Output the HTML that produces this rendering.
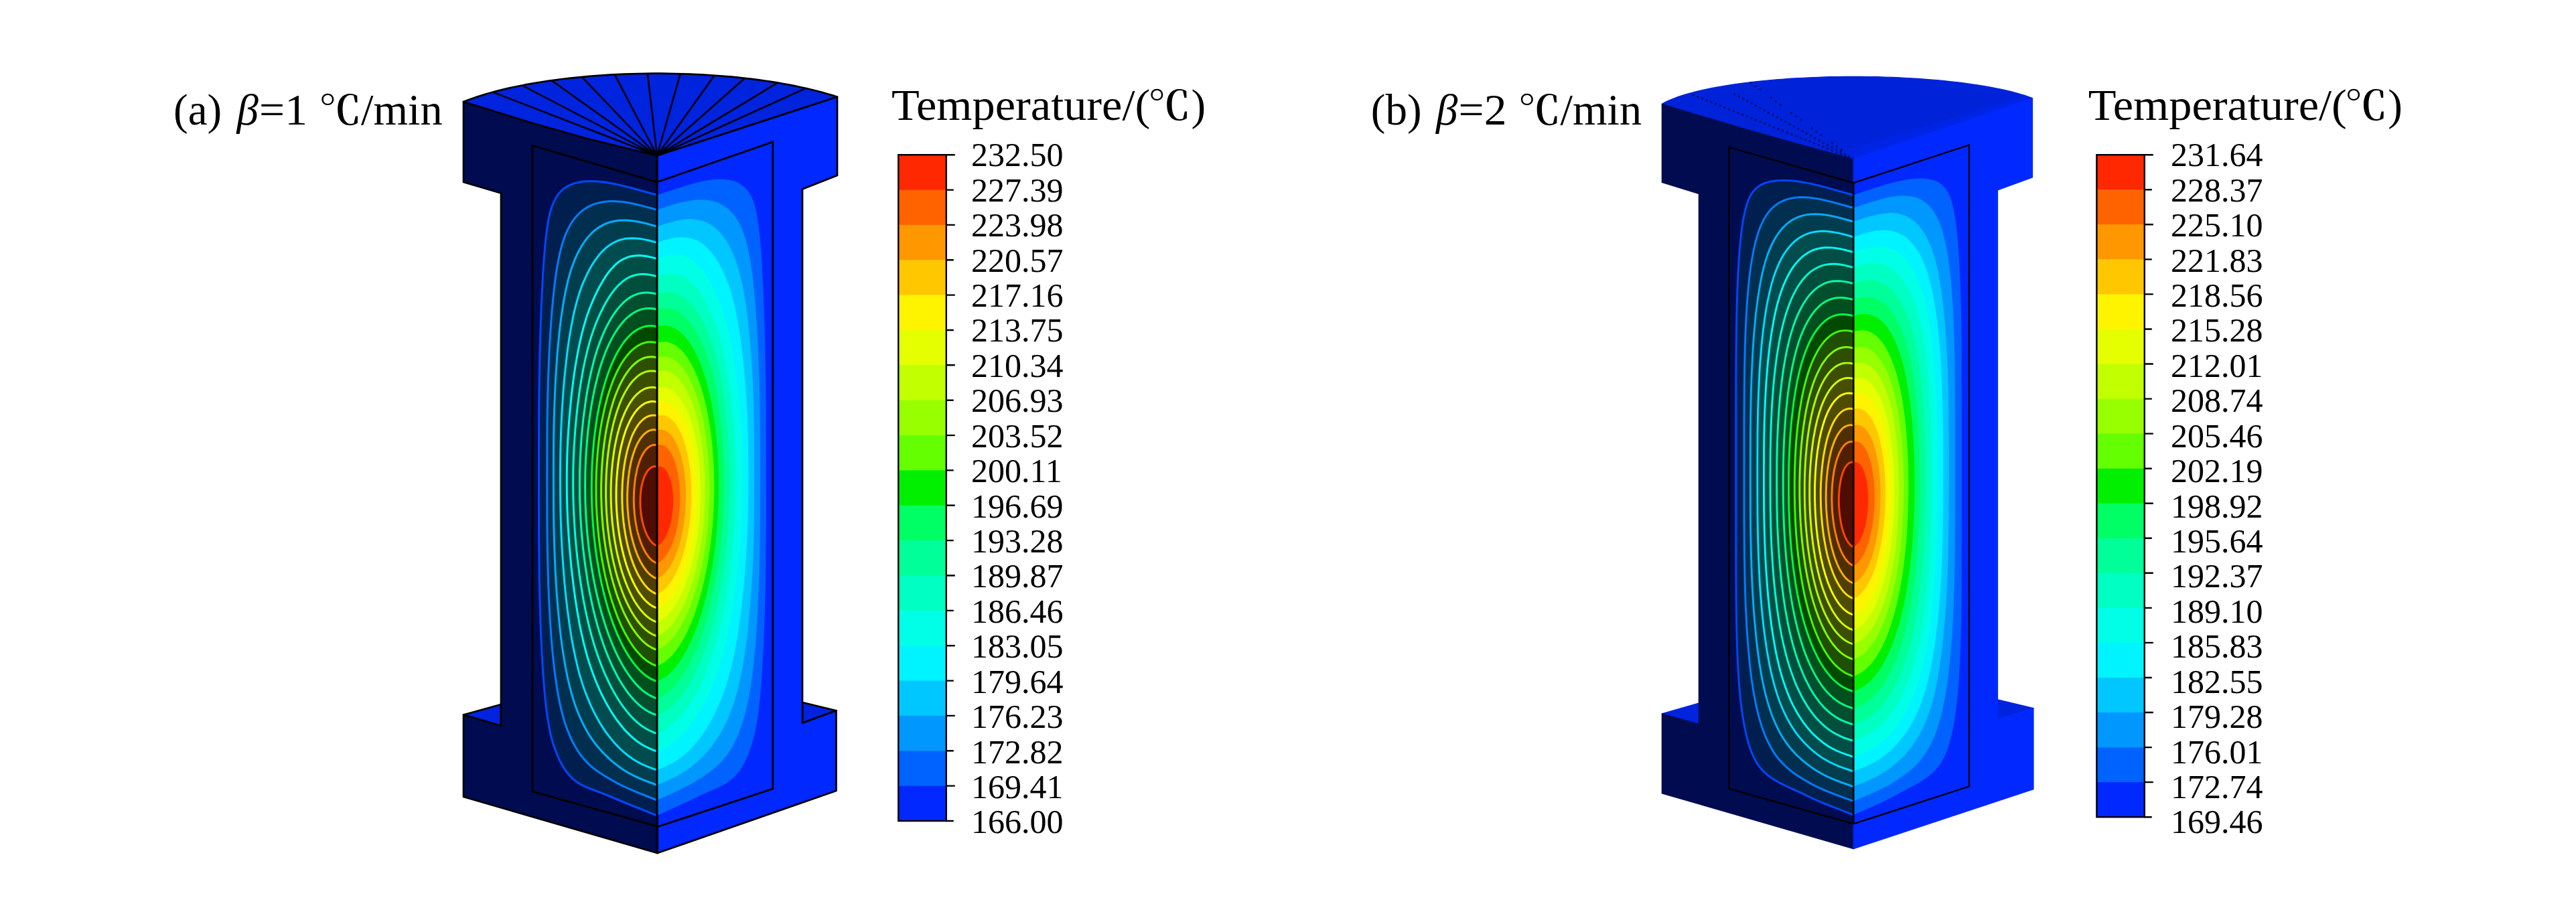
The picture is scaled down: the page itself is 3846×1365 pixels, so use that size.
<!DOCTYPE html>
<html lang="zh">
<head>
<meta charset="utf-8">
<title>Temperature contours</title>
<style>
html,body{margin:0;padding:0;background:#fff;}
body{width:3846px;height:1365px;overflow:hidden;}
svg{display:block;}
text{font-family:"Liberation Serif","Noto Serif CJK SC",serif;fill:#000;}
.cj{font-family:"Noto Serif CJK SC","Liberation Serif",serif;font-weight:600;}
</style>
</head>
<body>
<svg width="3846" height="1365" viewBox="0 0 3846 1365">
<rect width="3846" height="1365" fill="#fff"/>
<g id="plot-a">
<polygon points="981,232.5 930,220.2 877,207.3 798.2,185 740,167 692,152 698.3,149.6 704.8,147.2 711.6,144.8 718.7,142.6 726,140.3 733.5,138.2 741.2,136.1 749.2,134.1 757.4,132.1 765.8,130.3 774.5,128.5 783.3,126.7 792.2,125.1 801.4,123.5 810.7,122 820.2,120.6 829.9,119.3 839.6,118 849.6,116.8 859.6,115.8 869.7,114.8 880,113.8 890.3,113 900.8,112.3 911.3,111.7 921.8,111.1 932.5,110.6 943.1,110.3 953.8,110 964.6,109.8 975.3,109.7 986.1,109.7 996.8,109.8 1007.6,110 1018.3,110.3 1028.9,110.6 1039.6,111.1 1050.1,111.6 1060.6,112.3 1071.1,113 1081.4,113.8 1091.7,114.7 1101.8,115.7 1111.9,116.8 1121.8,117.9 1131.6,119.2 1141.2,120.5 1150.7,121.9 1160.1,123.4 1169.3,125 1178.2,126.6 1187.1,128.4 1195.7,130.2 1204.1,132 1212.3,134 1220.3,136 1228.1,138.1 1235.6,140.2 1242.9,142.4 1250,144.7" fill="#0023de" stroke="#000" stroke-width="2.7" stroke-linejoin="round"/>
<path d="M981 232.5L735.8 137.6M981 232.5L779.5 127.5M981 232.5L823.3 120.1M981 232.5L868.8 114.8M981 232.5L917.8 111.3M981 232.5L966.8 109.8M981 232.5L1015.8 110.2M981 232.5L1066.5 112.7M981 232.5L1112 116.8M981 232.5L1161 123.6M981 232.5L1203 131.8" fill="none" stroke="#000" stroke-width="2.5"/>
<polygon points="692,1067.5 748,1052 748,1084" fill="#0023de" stroke="#000" stroke-width="2.7" stroke-linejoin="round"/>
<polygon points="1248.5,1061.2 1198,1049 1198,1079.8" fill="#0023de" stroke="#000" stroke-width="2.7" stroke-linejoin="round"/>
<polygon points="981,232.5 930,220.2 877,207.3 798.2,185 740,167 692,152 692,272 748,288.5 748,1084 692,1067.5 692,1190 981.5,1274" fill="#000c4f" stroke="#000" stroke-width="2.7" stroke-linejoin="round"/>
<polygon points="981,232.5 1250,144.7 1250,262 1198,282.5 1198,1079.8 1248.5,1061.2 1248.5,1181 981.5,1274" fill="#0028ff" stroke="#000" stroke-width="2.7" stroke-linejoin="round"/>
<polygon points="981,291.3 943.6,281 929.7,277.4 919,275 910.1,273.2 902.2,272 895,271.2 888.4,270.7 882.3,270.5 876.6,270.7 871.3,271.1 866.4,271.8 861.7,272.7 857.4,273.9 853.4,275.3 849.6,276.9 846.2,278.8 842.9,280.9 839.9,283.3 837.1,286 834.5,288.9 832.1,292.1 829.8,295.7 827.7,299.6 825.8,303.8 824,308.5 822.3,313.7 820.8,319.5 819.4,325.9 818,333 816.8,340.9 815.7,349.6 814.6,359.2 813.5,369.8 812.6,381.4 811.6,394.2 810.7,408 809.9,423.1 809.1,439.3 808.3,456.6 807.6,475.1 806.9,494.7 806.3,515.3 805.8,537.1 805.4,560 805,584.6 804.7,611.7 804.6,644.1 804.5,706.6 804.6,779.5 804.7,813.4 805,840.5 805.3,864.4 805.7,886.2 806.3,906.5 806.8,925.5 807.5,943.5 808.2,960.4 809,976.3 809.9,991.3 810.8,1005.4 811.8,1018.6 812.8,1030.9 813.9,1042.3 815,1053 816.2,1062.9 817.5,1072.1 818.9,1080.6 820.4,1088.5 821.9,1095.9 823.6,1102.7 825.4,1109.2 827.3,1115.2 829.4,1120.9 831.6,1126.4 833.8,1131.6 836.1,1136.6 838.6,1141.3 841.1,1145.6 843.7,1149.7 846.5,1153.5 849.4,1157 852.4,1160.3 855.6,1163.3 859,1166.1 862.6,1168.7 866.4,1171 870.6,1173.3 875,1175.4 879.9,1177.4 885.3,1179.5 891.3,1181.8 898.3,1184.4 906.5,1187.6 916.8,1192 931.3,1198 981,1218" fill="#001f4f"/>
<polygon points="981,313.4 959,307.4 947.9,304.7 938.9,302.9 931,301.6 923.9,300.9 917.3,300.5 911.2,300.5 905.4,300.9 899.9,301.7 894.7,302.7 889.7,304.1 885.1,305.7 880.6,307.7 876.4,309.9 872.4,312.5 868.5,315.3 864.9,318.5 861.5,322 858.3,325.8 855.2,329.9 852.3,334.3 849.6,339.1 847,344.3 844.5,349.9 842.2,355.9 840,362.4 838,369.4 836.1,377 834.3,385.2 832.6,394 831,403.5 829.5,413.7 828.1,424.6 826.8,436.2 825.5,448.5 824.3,461.6 823.2,475.5 822.2,490.1 821.2,505.4 820.3,521.5 819.5,538.3 818.8,555.9 818.2,574.3 817.7,593.8 817.3,614.7 817,637.7 816.9,664.7 816.8,710 816.9,761.9 817,790.3 817.3,813.9 817.7,835 818.2,854.4 818.7,872.7 819.4,889.9 820.2,906.3 821,921.9 822,936.8 823,951.1 824.1,964.6 825.3,977.6 826.6,989.9 827.9,1001.6 829.4,1012.6 830.9,1023.1 832.5,1033.1 834.2,1042.5 836,1051.4 838,1059.9 840,1067.9 842.2,1075.5 844.5,1082.6 846.9,1089.4 849.5,1095.8 852.1,1101.9 854.9,1107.7 857.8,1113.2 860.8,1118.3 863.9,1123.2 867.1,1127.8 870.5,1132.1 874.1,1136.1 877.8,1139.9 881.6,1143.6 885.7,1147 890,1150.3 894.6,1153.6 899.5,1156.8 904.7,1160 910.3,1163.3 916.5,1166.8 923.4,1170.6 931.2,1174.5 940.5,1178.7 952.6,1183.8 981,1195" fill="#002f4f"/>
<polygon points="981,338.2 965.2,333.9 955.9,331.8 948.1,330.3 941.2,329.4 934.8,329 928.9,329 923.3,329.3 918,330.1 912.9,331.2 908.1,332.6 903.5,334.4 899.1,336.6 894.8,339.1 890.7,341.9 886.8,345 883.1,348.5 879.4,352.4 875.9,356.5 872.6,361 869.4,365.8 866.3,371 863.4,376.5 860.5,382.4 857.8,388.6 855.3,395.3 852.8,402.3 850.5,409.9 848.3,417.9 846.3,426.4 844.3,435.4 842.5,445 840.7,455.1 839.1,465.7 837.5,476.9 836,488.6 834.7,500.9 833.4,513.7 832.2,527 831.2,540.9 830.2,555.4 829.3,570.4 828.6,586 827.9,602.2 827.4,619.3 826.9,637.5 826.6,657.1 826.5,679.5 826.4,712.7 826.5,745.8 826.6,768.2 826.9,788 827.4,806.2 827.9,823.4 828.6,839.9 829.3,855.7 830.2,871 831.2,885.8 832.3,900.1 833.5,913.9 834.8,927.3 836.1,940.2 837.6,952.6 839.2,964.6 840.9,976.1 842.7,987.1 844.5,997.6 846.5,1007.8 848.6,1017.4 850.9,1026.7 853.2,1035.5 855.7,1043.9 858.3,1051.8 861,1059.4 863.9,1066.6 866.9,1073.5 870,1080.1 873.2,1086.4 876.5,1092.4 880,1098.2 883.6,1103.6 887.4,1108.8 891.3,1113.8 895.3,1118.6 899.5,1123.3 903.9,1127.7 908.5,1132.1 913.2,1136.3 918.2,1140.4 923.5,1144.5 929,1148.4 934.9,1152.2 941.2,1155.8 948.1,1159.3 955.9,1162.9 965.2,1166.7 981,1172.5" fill="#003e4f"/>
<polygon points="981,362.3 969.5,359.2 961.8,357.6 955.2,356.5 949.1,355.9 943.5,355.7 938.2,356 933.2,356.6 928.4,357.6 923.8,359 919.3,360.8 915.1,363 911,365.5 907,368.4 903.1,371.7 899.4,375.3 895.7,379.3 892.2,383.6 888.8,388.3 885.4,393.3 882.2,398.7 879.1,404.4 876,410.4 873.1,416.8 870.2,423.4 867.5,430.4 864.9,437.9 862.5,445.8 860.2,454.2 857.9,463.1 855.8,472.4 853.9,482.2 852,492.5 850.2,503.3 848.5,514.5 846.9,526.2 845.5,538.3 844.1,550.8 842.8,563.7 841.6,577 840.6,590.5 839.6,604.4 838.8,618.6 838.1,633 837.5,647.8 837,662.9 836.7,678.6 836.5,695.4 836.4,715.5 836.5,735.7 836.7,752.5 837,768.4 837.5,783.7 838.1,798.7 838.8,813.4 839.6,827.9 840.6,842.2 841.7,856.2 842.8,869.9 844.1,883.3 845.5,896.5 847,909.3 848.7,921.8 850.4,933.9 852.2,945.6 854.1,956.9 856.2,967.9 858.3,978.4 860.6,988.5 862.9,998.2 865.4,1007.5 868.1,1016.4 870.8,1024.9 873.7,1033 876.7,1040.9 879.8,1048.4 883,1055.7 886.4,1062.6 889.8,1069.3 893.4,1075.7 897,1081.9 900.8,1087.8 904.7,1093.5 908.8,1098.9 912.9,1104.1 917.2,1109.2 921.6,1113.9 926.2,1118.5 930.9,1122.9 935.8,1127 940.9,1130.8 946.2,1134.4 951.7,1137.7 957.6,1140.8 964,1143.7 971.1,1146.6 981,1150" fill="#004c4f"/>
<polygon points="981,386.4 972.3,384.1 965.8,382.8 960.1,382 954.8,381.6 949.9,381.7 945.2,382.2 940.8,383 936.5,384.3 932.4,386 928.5,388.1 924.7,390.5 921,393.4 917.4,396.7 913.8,400.4 910.4,404.5 907,408.9 903.7,413.7 900.4,418.9 897.2,424.5 894,430.3 890.9,436.5 887.8,443 884.9,449.7 881.9,456.7 879.1,463.9 876.4,471.6 873.9,479.7 871.4,488.2 869.1,497.1 866.8,506.3 864.7,516 862.7,526.1 860.8,536.5 859,547.2 857.3,558.3 855.8,569.7 854.3,581.3 852.9,593.2 851.7,605.3 850.6,617.5 849.6,629.8 848.7,642.2 847.9,654.7 847.3,667.2 846.8,679.8 846.5,692.4 846.3,705.1 846.2,718.3 846.3,731.3 846.5,744 846.8,756.7 847.3,769.4 847.9,782.2 848.7,794.9 849.6,807.7 850.6,820.5 851.7,833.2 852.9,845.9 854.3,858.4 855.8,870.7 857.3,882.8 859,894.8 860.8,906.4 862.7,917.8 864.7,928.9 866.8,939.6 869.1,950 871.4,960.1 873.9,969.7 876.4,979 879.1,988 881.9,996.6 884.9,1004.9 887.9,1013 891,1020.7 894.3,1028.2 897.6,1035.5 901.1,1042.4 904.6,1049.1 908.2,1055.6 911.9,1061.7 915.7,1067.7 919.6,1073.4 923.6,1078.8 927.7,1084 931.8,1089 936.1,1093.6 940.5,1097.9 944.9,1101.9 949.5,1105.7 954.1,1109.1 958.9,1112.2 963.9,1115 969.1,1117.5 974.6,1119.8 981,1122" fill="#004f47"/>
<polygon points="981,412.8 974.6,411.2 969.3,410.2 964.4,409.6 959.8,409.4 955.4,409.6 951.1,410.2 947,411.2 943,412.5 939.2,414.2 935.4,416.3 931.7,418.8 928.1,421.6 924.6,424.8 921.2,428.3 917.8,432.2 914.5,436.5 911.2,441.1 908,446 904.9,451.3 901.8,456.8 898.8,462.7 895.8,468.9 893,475.3 890.2,481.9 887.5,488.9 884.9,496.2 882.4,503.9 880,511.9 877.7,520.3 875.6,528.9 873.5,538 871.6,547.3 869.7,556.9 868,566.9 866.3,577.1 864.8,587.5 863.4,598.1 862.1,608.9 860.9,619.9 859.8,631 858.8,642.2 858,653.4 857.3,664.7 856.7,675.9 856.2,687.2 855.9,698.4 855.7,709.7 855.6,720.9 855.7,732 855.9,743.2 856.2,754.5 856.7,765.8 857.3,777.2 858,788.6 858.8,800 859.8,811.4 860.9,822.8 862.1,834.1 863.5,845.4 864.9,856.5 866.5,867.5 868.2,878.3 869.9,889 871.8,899.5 873.8,909.8 875.9,919.8 878.2,929.6 880.5,939.1 882.9,948.3 885.5,957.3 888.1,966 890.9,974.5 893.7,982.7 896.7,990.6 899.7,998.3 902.8,1005.7 906.1,1012.9 909.4,1019.8 912.7,1026.5 916.2,1032.9 919.7,1039 923.3,1044.9 927,1050.5 930.8,1055.8 934.6,1060.8 938.5,1065.6 942.4,1070 946.4,1074.1 950.4,1077.9 954.6,1081.4 958.7,1084.5 963,1087.3 967.3,1089.8 971.7,1092 976.2,1093.9 981,1095.5" fill="#004f3c"/>
<polygon points="981,439.3 976.2,438.1 971.9,437.4 967.7,437 963.7,437 959.7,437.3 955.9,437.9 952.1,438.9 948.4,440.3 944.7,441.9 941.1,443.9 937.6,446.3 934.2,448.9 930.8,451.9 927.5,455.2 924.2,458.9 921,462.8 917.9,467.1 914.8,471.7 911.8,476.5 908.9,481.7 906,487.1 903.2,492.8 900.5,498.8 897.9,505.1 895.4,511.6 892.9,518.4 890.6,525.5 888.3,532.9 886.2,540.7 884.2,548.6 882.2,556.9 880.4,565.5 878.6,574.2 877,583.3 875.4,592.5 874,602 872.7,611.6 871.4,621.4 870.3,631.3 869.3,641.4 868.4,651.5 867.6,661.7 866.9,672 866.4,682.3 866,692.6 865.6,702.9 865.5,713.3 865.4,723.6 865.5,733.9 865.6,744.1 866,754.4 866.4,764.8 866.9,775.1 867.6,785.5 868.4,795.8 869.3,806.2 870.3,816.4 871.5,826.7 872.7,836.8 874.1,846.9 875.6,856.8 877.1,866.7 878.8,876.4 880.6,885.9 882.5,895.3 884.5,904.5 886.6,913.5 888.8,922.3 891.1,930.9 893.5,939.3 896,947.5 898.6,955.4 901.2,963.1 904,970.7 906.8,977.9 909.8,985 912.8,991.8 915.8,998.3 919,1004.6 922.2,1010.7 925.5,1016.5 928.8,1022 932.3,1027.2 935.7,1032.1 939.2,1036.8 942.8,1041.1 946.4,1045.2 950.1,1049 953.8,1052.4 957.5,1055.6 961.3,1058.4 965.1,1061 969,1063.2 972.9,1065.1 976.9,1066.7 981,1068" fill="#004f2f"/>
<polygon points="981,462.2 977.2,461.3 973.5,460.7 969.9,460.5 966.3,460.5 962.7,460.9 959.2,461.6 955.7,462.6 952.3,463.9 948.9,465.6 945.5,467.5 942.2,469.7 938.9,472.3 935.7,475.1 932.5,478.2 929.4,481.7 926.4,485.4 923.4,489.4 920.5,493.7 917.6,498.2 914.8,503.1 912.1,508.2 909.5,513.5 906.9,519.2 904.4,525 902,531.2 899.7,537.6 897.5,544.2 895.3,551.1 893.3,558.3 891.4,565.7 889.5,573.3 887.7,581.1 886.1,589.1 884.5,597.4 883,605.8 881.7,614.4 880.4,623.2 879.2,632.1 878.2,641.1 877.2,650.3 876.4,659.5 875.7,668.8 875,678.2 874.5,687.7 874.1,697.2 873.8,706.8 873.7,716.3 873.6,725.9 873.7,735.3 873.8,744.8 874.1,754.2 874.5,763.6 875,773.1 875.7,782.5 876.4,791.9 877.3,801.2 878.2,810.5 879.3,819.8 880.5,829 881.8,838 883.2,847.1 884.7,856 886.3,864.8 888,873.5 889.8,882 891.7,890.4 893.7,898.7 895.8,906.9 898,914.8 900.3,922.6 902.6,930.2 905.1,937.7 907.6,944.9 910.2,952 912.9,958.8 915.6,965.4 918.4,971.8 921.3,977.9 924.3,983.8 927.3,989.5 930.4,994.9 933.5,1000.1 936.7,1005 939.9,1009.6 943.2,1014 946.5,1018.1 949.8,1021.9 953.2,1025.4 956.6,1028.7 960,1031.6 963.5,1034.3 967,1036.6 970.5,1038.7 974,1040.4 977.5,1041.9 981,1043" fill="#004f1f"/>
<polygon points="981,488 977.8,487.2 974.6,486.8 971.4,486.6 968.2,486.7 965.1,487.1 961.9,487.8 958.8,488.8 955.7,490.1 952.6,491.6 949.6,493.4 946.6,495.5 943.6,497.9 940.7,500.6 937.8,503.5 934.9,506.7 932.1,510.2 929.4,514 926.7,518 924.1,522.2 921.5,526.7 919,531.5 916.6,536.5 914.2,541.7 911.9,547.2 909.7,552.8 907.5,558.7 905.5,564.8 903.5,571.1 901.6,577.7 899.8,584.4 898,591.2 896.4,598.3 894.8,605.5 893.4,612.9 892,620.5 890.7,628.2 889.6,636 888.5,644 887.5,652 886.6,660.2 885.9,668.5 885.2,676.9 884.6,685.4 884.1,693.9 883.8,702.5 883.5,711.2 883.4,719.9 883.3,728.6 883.4,737.2 883.5,745.8 883.8,754.4 884.1,763 884.6,771.6 885.2,780.2 885.9,788.7 886.6,797.3 887.5,805.7 888.5,814.2 889.6,822.5 890.7,830.8 892,839 893.4,847.1 894.8,855.1 896.4,863.1 898,870.9 899.8,878.5 901.6,886.1 903.5,893.5 905.5,900.7 907.5,907.9 909.7,914.8 911.9,921.6 914.2,928.2 916.6,934.6 919,940.8 921.5,946.8 924.1,952.6 926.7,958.2 929.4,963.6 932.1,968.8 934.9,973.7 937.8,978.4 940.7,982.9 943.6,987.1 946.6,991.1 949.6,994.8 952.6,998.3 955.7,1001.5 958.8,1004.5 961.9,1007.1 965.1,1009.6 968.2,1011.7 971.4,1013.6 974.6,1015.2 977.8,1016.5 981,1017.5" fill="#004a00"/>
<polygon points="981,512 978,511.3 975,510.9 972.1,510.7 969.1,510.8 966.2,511.1 963.2,511.7 960.3,512.6 957.4,513.7 954.6,515.1 951.7,516.7 948.9,518.7 946.1,520.8 943.4,523.2 940.7,525.9 938.1,528.8 935.5,531.9 932.9,535.3 930.4,538.9 927.9,542.8 925.5,546.9 923.2,551.2 920.9,555.7 918.7,560.5 916.6,565.4 914.5,570.6 912.5,575.9 910.6,581.5 908.7,587.2 906.9,593.1 905.3,599.2 903.6,605.5 902.1,611.9 900.7,618.5 899.3,625.2 898,632.1 896.8,639.1 895.7,646.2 894.7,653.4 893.8,660.8 893,668.2 892.3,675.8 891.7,683.4 891.1,691.1 890.7,698.9 890.3,706.7 890.1,714.6 889.9,722.5 889.9,730.5 889.9,738.3 890.1,746.1 890.3,754 890.7,761.8 891.1,769.7 891.7,777.5 892.3,785.3 893,793.1 893.8,800.8 894.7,808.5 895.7,816.1 896.8,823.7 898,831.2 899.3,838.6 900.7,845.9 902.1,853.2 903.6,860.3 905.3,867.3 906.9,874.2 908.7,881 910.6,887.6 912.5,894.1 914.5,900.4 916.6,906.6 918.7,912.6 920.9,918.5 923.2,924.2 925.5,929.7 927.9,935 930.4,940.1 932.9,945.1 935.5,949.8 938.1,954.3 940.7,958.6 943.4,962.7 946.1,966.6 948.9,970.2 951.7,973.6 954.6,976.8 957.4,979.8 960.3,982.5 963.2,984.9 966.2,987.2 969.1,989.1 972.1,990.9 975,992.3 978,993.5 981,994.5" fill="#1f4f00"/>
<polygon points="981,534 978.3,533.4 975.5,532.9 972.8,532.8 970.1,532.9 967.4,533.2 964.7,533.7 962.1,534.5 959.4,535.5 956.8,536.8 954.2,538.3 951.6,540 949.1,542 946.6,544.2 944.1,546.6 941.7,549.2 939.3,552.1 937,555.1 934.7,558.4 932.4,561.9 930.2,565.7 928.1,569.6 926,573.7 924,578 922,582.5 920.1,587.2 918.3,592.1 916.5,597.1 914.8,602.3 913.2,607.7 911.7,613.2 910.2,618.9 908.8,624.8 907.4,630.8 906.2,636.9 905,643.1 903.9,649.5 902.9,655.9 902,662.5 901.2,669.2 900.4,676 899.8,682.8 899.2,689.8 898.7,696.8 898.3,703.9 898,711 897.8,718.2 897.6,725.4 897.6,732.6 897.6,739.7 897.8,746.7 898,753.8 898.3,760.8 898.7,767.9 899.2,774.9 899.8,782 900.4,789 901.2,795.9 902,802.8 902.9,809.7 903.9,816.5 905,823.3 906.2,829.9 907.4,836.5 908.8,843 910.2,849.4 911.7,855.8 913.2,862 914.8,868.1 916.5,874 918.3,879.9 920.1,885.6 922,891.2 924,896.6 926,901.9 928.1,907 930.2,912 932.4,916.8 934.7,921.4 937,925.8 939.3,930.1 941.7,934.2 944.1,938.1 946.6,941.7 949.1,945.2 951.6,948.5 954.2,951.6 956.8,954.5 959.4,957.1 962.1,959.6 964.7,961.8 967.4,963.8 970.1,965.6 972.8,967.2 975.5,968.5 978.3,969.6 981,970.5" fill="#2f4f00"/>
<polygon points="981,555 978.5,554.4 976,554 973.5,553.9 971,553.9 968.6,554.2 966.1,554.7 963.7,555.4 961.2,556.3 958.8,557.4 956.4,558.8 954.1,560.3 951.8,562.1 949.5,564.1 947.2,566.3 945,568.6 942.8,571.2 940.7,574 938.6,577 936.5,580.2 934.5,583.5 932.5,587.1 930.6,590.8 928.8,594.7 927,598.7 925.2,603 923.6,607.4 921.9,612 920.4,616.7 918.9,621.5 917.5,626.5 916.1,631.7 914.8,637 913.6,642.4 912.5,647.9 911.4,653.6 910.4,659.3 909.5,665.2 908.7,671.1 907.9,677.2 907.2,683.3 906.6,689.5 906.1,695.8 905.6,702.2 905.3,708.6 905,715 904.8,721.5 904.6,728 904.6,734.6 904.6,741 904.8,747.3 905,753.7 905.3,760.1 905.6,766.5 906.1,772.9 906.6,779.2 907.2,785.5 907.9,791.8 908.7,798.1 909.5,804.3 910.4,810.5 911.4,816.6 912.5,822.6 913.6,828.6 914.8,834.5 916.1,840.3 917.5,846 918.9,851.6 920.4,857.1 921.9,862.5 923.6,867.8 925.2,873 927,878.1 928.8,883 930.6,887.8 932.5,892.4 934.5,896.9 936.5,901.2 938.6,905.4 940.7,909.4 942.8,913.3 945,917 947.2,920.5 949.5,923.9 951.8,927 954.1,930 956.4,932.8 958.8,935.4 961.2,937.9 963.7,940.1 966.1,942.1 968.6,943.9 971,945.5 973.5,947 976,948.2 978.5,949.2 981,950" fill="#3c4f00"/>
<polygon points="981,579.5 978.7,579 976.5,578.6 974.2,578.5 972,578.5 969.8,578.7 967.6,579.1 965.4,579.7 963.2,580.5 961,581.5 958.9,582.7 956.7,584 954.6,585.6 952.6,587.3 950.5,589.2 948.5,591.2 946.5,593.5 944.6,595.9 942.7,598.5 940.9,601.3 939.1,604.2 937.3,607.3 935.6,610.6 933.9,614 932.3,617.6 930.7,621.3 929.2,625.1 927.7,629.1 926.3,633.2 925,637.5 923.7,641.9 922.5,646.4 921.3,651 920.2,655.8 919.2,660.6 918.2,665.6 917.3,670.6 916.5,675.8 915.8,681 915.1,686.3 914.4,691.7 913.9,697.1 913.4,702.6 913,708.2 912.7,713.8 912.4,719.5 912.2,725.2 912.1,730.9 912.1,736.7 912.1,742.4 912.2,748.1 912.4,753.8 912.7,759.5 913,765.1 913.4,770.8 913.9,776.5 914.4,782.1 915.1,787.8 915.8,793.3 916.5,798.9 917.3,804.4 918.2,809.8 919.2,815.2 920.2,820.5 921.3,825.8 922.5,831 923.7,836.1 925,841.1 926.3,846 927.7,850.8 929.2,855.6 930.7,860.2 932.3,864.7 933.9,869.1 935.6,873.3 937.3,877.5 939.1,881.5 940.9,885.4 942.7,889.1 944.6,892.7 946.5,896.2 948.5,899.5 950.5,902.6 952.6,905.6 954.6,908.4 956.7,911.1 958.9,913.6 961,916 963.2,918.1 965.4,920.1 967.6,921.9 969.8,923.5 972,925 974.2,926.3 976.5,927.4 978.7,928.3 981,929" fill="#474f00"/>
<polygon points="981,600.5 979,600 977,599.7 975,599.6 973,599.6 971.1,599.8 969.1,600.2 967.1,600.7 965.2,601.4 963.3,602.2 961.4,603.3 959.5,604.5 957.7,605.8 955.8,607.3 954,609 952.2,610.8 950.5,612.8 948.8,614.9 947.1,617.2 945.5,619.7 943.9,622.2 942.3,625 940.8,627.8 939.3,630.8 937.9,634 936.5,637.2 935.1,640.6 933.8,644.1 932.6,647.8 931.4,651.5 930.3,655.4 929.2,659.4 928.2,663.5 927.2,667.6 926.3,671.9 925.4,676.3 924.6,680.7 923.9,685.2 923.2,689.8 922.6,694.5 922.1,699.3 921.6,704.1 921.2,708.9 920.8,713.8 920.5,718.8 920.3,723.8 920.1,728.8 920,733.8 920,738.9 920,743.9 920.1,748.9 920.3,753.9 920.5,758.9 920.8,763.9 921.2,768.9 921.6,773.9 922.1,778.8 922.6,783.8 923.2,788.7 923.9,793.6 924.6,798.4 925.4,803.2 926.3,807.9 927.2,812.6 928.2,817.2 929.2,821.8 930.3,826.2 931.4,830.7 932.6,835 933.8,839.2 935.1,843.4 936.5,847.4 937.9,851.4 939.3,855.3 940.8,859 942.3,862.7 943.9,866.2 945.5,869.6 947.1,872.9 948.8,876.1 950.5,879.1 952.2,882 954,884.8 955.8,887.4 957.7,889.9 959.5,892.2 961.4,894.4 963.3,896.5 965.2,898.4 967.1,900.2 969.1,901.7 971.1,903.2 973,904.5 975,905.6 977,906.6 979,907.4 981,908" fill="#4f4c00"/>
<polygon points="981,621 979.3,620.6 977.6,620.3 975.9,620.2 974.2,620.2 972.5,620.4 970.8,620.7 969.1,621.2 967.5,621.8 965.8,622.6 964.2,623.5 962.6,624.5 961,625.7 959.5,627 957.9,628.5 956.4,630.1 954.9,631.8 953.4,633.6 952,635.6 950.6,637.8 949.2,640 947.9,642.4 946.6,644.9 945.3,647.5 944.1,650.2 942.9,653 941.8,656 940.6,659.1 939.6,662.2 938.6,665.5 937.6,668.8 936.7,672.3 935.8,675.8 935,679.5 934.2,683.2 933.5,687 932.8,690.8 932.1,694.8 931.6,698.8 931,702.8 930.6,706.9 930.2,711.1 929.8,715.3 929.5,719.6 929.2,723.9 929.1,728.2 928.9,732.6 928.8,737 928.8,741.4 928.8,745.7 928.9,750 929.1,754.3 929.2,758.6 929.5,762.9 929.8,767.2 930.2,771.5 930.6,775.8 931,780 931.6,784.3 932.1,788.5 932.8,792.6 933.5,796.8 934.2,800.8 935,804.9 935.8,808.8 936.7,812.8 937.6,816.6 938.6,820.4 939.6,824.2 940.6,827.8 941.8,831.4 942.9,834.9 944.1,838.3 945.3,841.6 946.6,844.9 947.9,848 949.2,851 950.6,854 952,856.8 953.4,859.5 954.9,862.1 956.4,864.6 957.9,867 959.5,869.3 961,871.4 962.6,873.5 964.2,875.3 965.8,877.1 967.5,878.8 969.1,880.3 970.8,881.6 972.5,882.9 974.2,884 975.9,884.9 977.6,885.8 979.3,886.5 981,887" fill="#4f3e00"/>
<polygon points="981,642.5 979.5,642.2 978.1,641.9 976.6,641.8 975.2,641.8 973.8,642 972.3,642.3 970.9,642.6 969.5,643.1 968.1,643.8 966.7,644.5 965.4,645.4 964,646.4 962.7,647.5 961.4,648.7 960.1,650 958.8,651.5 957.6,653.1 956.3,654.7 955.1,656.5 954,658.4 952.8,660.4 951.7,662.5 950.6,664.7 949.6,667 948.6,669.3 947.6,671.8 946.7,674.4 945.8,677 944.9,679.8 944.1,682.6 943.3,685.5 942.5,688.5 941.8,691.5 941.2,694.7 940.6,697.8 940,701.1 939.4,704.4 939,707.7 938.5,711.2 938.1,714.6 937.8,718.1 937.5,721.7 937.2,725.2 937,728.9 936.8,732.5 936.7,736.2 936.6,739.9 936.6,743.6 936.6,747.1 936.7,750.7 936.8,754.2 937,757.8 937.2,761.3 937.5,764.9 937.8,768.4 938.1,771.9 938.5,775.5 939,778.9 939.4,782.4 940,785.8 940.6,789.2 941.2,792.6 941.8,795.9 942.5,799.2 943.3,802.5 944.1,805.7 944.9,808.8 945.8,811.9 946.7,814.9 947.6,817.9 948.6,820.8 949.6,823.6 950.6,826.3 951.7,829 952.8,831.6 954,834.1 955.1,836.5 956.3,838.9 957.6,841.1 958.8,843.3 960.1,845.4 961.4,847.4 962.7,849.2 964,851 965.4,852.7 966.7,854.3 968.1,855.7 969.5,857.1 970.9,858.4 972.3,859.5 973.8,860.5 975.2,861.5 976.6,862.3 978.1,863 979.5,863.5 981,864" fill="#4f2f00"/>
<polygon points="981,665 979.9,664.7 978.7,664.6 977.6,664.5 976.5,664.5 975.3,664.6 974.2,664.9 973.1,665.2 972,665.6 970.9,666.1 969.8,666.7 968.8,667.4 967.7,668.2 966.7,669.1 965.7,670.1 964.6,671.2 963.6,672.3 962.7,673.6 961.7,674.9 960.8,676.4 959.9,677.9 959,679.5 958.1,681.2 957.3,682.9 956.5,684.8 955.7,686.7 954.9,688.7 954.2,690.8 953.5,692.9 952.8,695.1 952.1,697.4 951.5,699.7 950.9,702.1 950.4,704.5 949.9,707 949.4,709.6 948.9,712.2 948.5,714.9 948.1,717.5 947.8,720.3 947.5,723.1 947.2,725.9 947,728.7 946.8,731.6 946.6,734.5 946.5,737.4 946.4,740.4 946.3,743.3 946.3,746.3 946.3,749.1 946.4,751.9 946.5,754.7 946.6,757.5 946.8,760.3 947,763.1 947.2,765.8 947.5,768.6 947.8,771.4 948.1,774.1 948.5,776.8 948.9,779.6 949.4,782.2 949.9,784.9 950.4,787.5 950.9,790.1 951.5,792.6 952.1,795.1 952.8,797.6 953.5,800 954.2,802.4 954.9,804.7 955.7,807 956.5,809.2 957.3,811.4 958.1,813.5 959,815.5 959.9,817.5 960.8,819.4 961.7,821.3 962.7,823.1 963.6,824.8 964.6,826.4 965.7,827.9 966.7,829.4 967.7,830.8 968.8,832.1 969.8,833.4 970.9,834.5 972,835.6 973.1,836.6 974.2,837.5 975.3,838.3 976.5,839 977.6,839.6 978.7,840.2 979.9,840.6 981,841" fill="#4f1f00"/>
<polygon points="981,697 980.2,696.8 979.4,696.7 978.5,696.6 977.7,696.6 976.9,696.6 976.1,696.8 975.3,696.9 974.5,697.2 973.7,697.5 972.9,697.9 972.2,698.3 971.4,698.8 970.6,699.4 969.9,700 969.2,700.7 968.5,701.4 967.7,702.2 967.1,703 966.4,703.9 965.7,704.9 965.1,705.9 964.5,707 963.8,708.1 963.3,709.3 962.7,710.5 962.1,711.8 961.6,713.1 961.1,714.5 960.6,715.9 960.1,717.4 959.7,718.9 959.3,720.4 958.9,722 958.5,723.6 958.1,725.2 957.8,726.9 957.5,728.6 957.2,730.4 957,732.1 956.8,733.9 956.6,735.8 956.4,737.6 956.2,739.5 956.1,741.3 956,743.2 956,745.1 955.9,747 955.9,749 955.9,750.9 956,752.8 956,754.8 956.1,756.7 956.2,758.7 956.4,760.6 956.6,762.6 956.8,764.5 957,766.4 957.2,768.3 957.5,770.2 957.8,772.1 958.1,773.9 958.5,775.8 958.9,777.6 959.3,779.4 959.7,781.2 960.1,782.9 960.6,784.7 961.1,786.3 961.6,788 962.1,789.6 962.7,791.2 963.3,792.7 963.8,794.3 964.5,795.7 965.1,797.1 965.7,798.5 966.4,799.9 967.1,801.2 967.7,802.4 968.5,803.6 969.2,804.7 969.9,805.8 970.6,806.8 971.4,807.8 972.2,808.7 972.9,809.6 973.7,810.4 974.5,811.2 975.3,811.9 976.1,812.5 976.9,813.1 977.7,813.6 978.5,814 979.4,814.4 980.2,814.7 981,815" fill="#4f0c00"/>
<polyline points="981,291.3 943.6,281 929.7,277.4 919,275 910.1,273.2 902.2,272 895,271.2 888.4,270.7 882.3,270.5 876.6,270.7 871.3,271.1 866.4,271.8 861.7,272.7 857.4,273.9 853.4,275.3 849.6,276.9 846.2,278.8 842.9,280.9 839.9,283.3 837.1,286 834.5,288.9 832.1,292.1 829.8,295.7 827.7,299.6 825.8,303.8 824,308.5 822.3,313.7 820.8,319.5 819.4,325.9 818,333 816.8,340.9 815.7,349.6 814.6,359.2 813.5,369.8 812.6,381.4 811.6,394.2 810.7,408 809.9,423.1 809.1,439.3 808.3,456.6 807.6,475.1 806.9,494.7 806.3,515.3 805.8,537.1 805.4,560 805,584.6 804.7,611.7 804.6,644.1 804.5,706.6 804.6,779.5 804.7,813.4 805,840.5 805.3,864.4 805.7,886.2 806.3,906.5 806.8,925.5 807.5,943.5 808.2,960.4 809,976.3 809.9,991.3 810.8,1005.4 811.8,1018.6 812.8,1030.9 813.9,1042.3 815,1053 816.2,1062.9 817.5,1072.1 818.9,1080.6 820.4,1088.5 821.9,1095.9 823.6,1102.7 825.4,1109.2 827.3,1115.2 829.4,1120.9 831.6,1126.4 833.8,1131.6 836.1,1136.6 838.6,1141.3 841.1,1145.6 843.7,1149.7 846.5,1153.5 849.4,1157 852.4,1160.3 855.6,1163.3 859,1166.1 862.6,1168.7 866.4,1171 870.6,1173.3 875,1175.4 879.9,1177.4 885.3,1179.5 891.3,1181.8 898.3,1184.4 906.5,1187.6 916.8,1192 931.3,1198 981,1218" fill="none" stroke="#0047ff" stroke-width="3.0"/>
<polyline points="981,313.4 959,307.4 947.9,304.7 938.9,302.9 931,301.6 923.9,300.9 917.3,300.5 911.2,300.5 905.4,300.9 899.9,301.7 894.7,302.7 889.7,304.1 885.1,305.7 880.6,307.7 876.4,309.9 872.4,312.5 868.5,315.3 864.9,318.5 861.5,322 858.3,325.8 855.2,329.9 852.3,334.3 849.6,339.1 847,344.3 844.5,349.9 842.2,355.9 840,362.4 838,369.4 836.1,377 834.3,385.2 832.6,394 831,403.5 829.5,413.7 828.1,424.6 826.8,436.2 825.5,448.5 824.3,461.6 823.2,475.5 822.2,490.1 821.2,505.4 820.3,521.5 819.5,538.3 818.8,555.9 818.2,574.3 817.7,593.8 817.3,614.7 817,637.7 816.9,664.7 816.8,710 816.9,761.9 817,790.3 817.3,813.9 817.7,835 818.2,854.4 818.7,872.7 819.4,889.9 820.2,906.3 821,921.9 822,936.8 823,951.1 824.1,964.6 825.3,977.6 826.6,989.9 827.9,1001.6 829.4,1012.6 830.9,1023.1 832.5,1033.1 834.2,1042.5 836,1051.4 838,1059.9 840,1067.9 842.2,1075.5 844.5,1082.6 846.9,1089.4 849.5,1095.8 852.1,1101.9 854.9,1107.7 857.8,1113.2 860.8,1118.3 863.9,1123.2 867.1,1127.8 870.5,1132.1 874.1,1136.1 877.8,1139.9 881.6,1143.6 885.7,1147 890,1150.3 894.6,1153.6 899.5,1156.8 904.7,1160 910.3,1163.3 916.5,1166.8 923.4,1170.6 931.2,1174.5 940.5,1178.7 952.6,1183.8 981,1195" fill="none" stroke="#007dff" stroke-width="3.0"/>
<polyline points="981,338.2 965.2,333.9 955.9,331.8 948.1,330.3 941.2,329.4 934.8,329 928.9,329 923.3,329.3 918,330.1 912.9,331.2 908.1,332.6 903.5,334.4 899.1,336.6 894.8,339.1 890.7,341.9 886.8,345 883.1,348.5 879.4,352.4 875.9,356.5 872.6,361 869.4,365.8 866.3,371 863.4,376.5 860.5,382.4 857.8,388.6 855.3,395.3 852.8,402.3 850.5,409.9 848.3,417.9 846.3,426.4 844.3,435.4 842.5,445 840.7,455.1 839.1,465.7 837.5,476.9 836,488.6 834.7,500.9 833.4,513.7 832.2,527 831.2,540.9 830.2,555.4 829.3,570.4 828.6,586 827.9,602.2 827.4,619.3 826.9,637.5 826.6,657.1 826.5,679.5 826.4,712.7 826.5,745.8 826.6,768.2 826.9,788 827.4,806.2 827.9,823.4 828.6,839.9 829.3,855.7 830.2,871 831.2,885.8 832.3,900.1 833.5,913.9 834.8,927.3 836.1,940.2 837.6,952.6 839.2,964.6 840.9,976.1 842.7,987.1 844.5,997.6 846.5,1007.8 848.6,1017.4 850.9,1026.7 853.2,1035.5 855.7,1043.9 858.3,1051.8 861,1059.4 863.9,1066.6 866.9,1073.5 870,1080.1 873.2,1086.4 876.5,1092.4 880,1098.2 883.6,1103.6 887.4,1108.8 891.3,1113.8 895.3,1118.6 899.5,1123.3 903.9,1127.7 908.5,1132.1 913.2,1136.3 918.2,1140.4 923.5,1144.5 929,1148.4 934.9,1152.2 941.2,1155.8 948.1,1159.3 955.9,1162.9 965.2,1166.7 981,1172.5" fill="none" stroke="#00afff" stroke-width="3.0"/>
<polyline points="981,362.3 969.5,359.2 961.8,357.6 955.2,356.5 949.1,355.9 943.5,355.7 938.2,356 933.2,356.6 928.4,357.6 923.8,359 919.3,360.8 915.1,363 911,365.5 907,368.4 903.1,371.7 899.4,375.3 895.7,379.3 892.2,383.6 888.8,388.3 885.4,393.3 882.2,398.7 879.1,404.4 876,410.4 873.1,416.8 870.2,423.4 867.5,430.4 864.9,437.9 862.5,445.8 860.2,454.2 857.9,463.1 855.8,472.4 853.9,482.2 852,492.5 850.2,503.3 848.5,514.5 846.9,526.2 845.5,538.3 844.1,550.8 842.8,563.7 841.6,577 840.6,590.5 839.6,604.4 838.8,618.6 838.1,633 837.5,647.8 837,662.9 836.7,678.6 836.5,695.4 836.4,715.5 836.5,735.7 836.7,752.5 837,768.4 837.5,783.7 838.1,798.7 838.8,813.4 839.6,827.9 840.6,842.2 841.7,856.2 842.8,869.9 844.1,883.3 845.5,896.5 847,909.3 848.7,921.8 850.4,933.9 852.2,945.6 854.1,956.9 856.2,967.9 858.3,978.4 860.6,988.5 862.9,998.2 865.4,1007.5 868.1,1016.4 870.8,1024.9 873.7,1033 876.7,1040.9 879.8,1048.4 883,1055.7 886.4,1062.6 889.8,1069.3 893.4,1075.7 897,1081.9 900.8,1087.8 904.7,1093.5 908.8,1098.9 912.9,1104.1 917.2,1109.2 921.6,1113.9 926.2,1118.5 930.9,1122.9 935.8,1127 940.9,1130.8 946.2,1134.4 951.7,1137.7 957.6,1140.8 964,1143.7 971.1,1146.6 981,1150" fill="none" stroke="#00ddff" stroke-width="3.0"/>
<polyline points="981,386.4 972.3,384.1 965.8,382.8 960.1,382 954.8,381.6 949.9,381.7 945.2,382.2 940.8,383 936.5,384.3 932.4,386 928.5,388.1 924.7,390.5 921,393.4 917.4,396.7 913.8,400.4 910.4,404.5 907,408.9 903.7,413.7 900.4,418.9 897.2,424.5 894,430.3 890.9,436.5 887.8,443 884.9,449.7 881.9,456.7 879.1,463.9 876.4,471.6 873.9,479.7 871.4,488.2 869.1,497.1 866.8,506.3 864.7,516 862.7,526.1 860.8,536.5 859,547.2 857.3,558.3 855.8,569.7 854.3,581.3 852.9,593.2 851.7,605.3 850.6,617.5 849.6,629.8 848.7,642.2 847.9,654.7 847.3,667.2 846.8,679.8 846.5,692.4 846.3,705.1 846.2,718.3 846.3,731.3 846.5,744 846.8,756.7 847.3,769.4 847.9,782.2 848.7,794.9 849.6,807.7 850.6,820.5 851.7,833.2 852.9,845.9 854.3,858.4 855.8,870.7 857.3,882.8 859,894.8 860.8,906.4 862.7,917.8 864.7,928.9 866.8,939.6 869.1,950 871.4,960.1 873.9,969.7 876.4,979 879.1,988 881.9,996.6 884.9,1004.9 887.9,1013 891,1020.7 894.3,1028.2 897.6,1035.5 901.1,1042.4 904.6,1049.1 908.2,1055.6 911.9,1061.7 915.7,1067.7 919.6,1073.4 923.6,1078.8 927.7,1084 931.8,1089 936.1,1093.6 940.5,1097.9 944.9,1101.9 949.5,1105.7 954.1,1109.1 958.9,1112.2 963.9,1115 969.1,1117.5 974.6,1119.8 981,1122" fill="none" stroke="#00fff7" stroke-width="3.0"/>
<polyline points="981,412.8 974.6,411.2 969.3,410.2 964.4,409.6 959.8,409.4 955.4,409.6 951.1,410.2 947,411.2 943,412.5 939.2,414.2 935.4,416.3 931.7,418.8 928.1,421.6 924.6,424.8 921.2,428.3 917.8,432.2 914.5,436.5 911.2,441.1 908,446 904.9,451.3 901.8,456.8 898.8,462.7 895.8,468.9 893,475.3 890.2,481.9 887.5,488.9 884.9,496.2 882.4,503.9 880,511.9 877.7,520.3 875.6,528.9 873.5,538 871.6,547.3 869.7,556.9 868,566.9 866.3,577.1 864.8,587.5 863.4,598.1 862.1,608.9 860.9,619.9 859.8,631 858.8,642.2 858,653.4 857.3,664.7 856.7,675.9 856.2,687.2 855.9,698.4 855.7,709.7 855.6,720.9 855.7,732 855.9,743.2 856.2,754.5 856.7,765.8 857.3,777.2 858,788.6 858.8,800 859.8,811.4 860.9,822.8 862.1,834.1 863.5,845.4 864.9,856.5 866.5,867.5 868.2,878.3 869.9,889 871.8,899.5 873.8,909.8 875.9,919.8 878.2,929.6 880.5,939.1 882.9,948.3 885.5,957.3 888.1,966 890.9,974.5 893.7,982.7 896.7,990.6 899.7,998.3 902.8,1005.7 906.1,1012.9 909.4,1019.8 912.7,1026.5 916.2,1032.9 919.7,1039 923.3,1044.9 927,1050.5 930.8,1055.8 934.6,1060.8 938.5,1065.6 942.4,1070 946.4,1074.1 950.4,1077.9 954.6,1081.4 958.7,1084.5 963,1087.3 967.3,1089.8 971.7,1092 976.2,1093.9 981,1095.5" fill="none" stroke="#00ffd4" stroke-width="3.0"/>
<polyline points="981,439.3 976.2,438.1 971.9,437.4 967.7,437 963.7,437 959.7,437.3 955.9,437.9 952.1,438.9 948.4,440.3 944.7,441.9 941.1,443.9 937.6,446.3 934.2,448.9 930.8,451.9 927.5,455.2 924.2,458.9 921,462.8 917.9,467.1 914.8,471.7 911.8,476.5 908.9,481.7 906,487.1 903.2,492.8 900.5,498.8 897.9,505.1 895.4,511.6 892.9,518.4 890.6,525.5 888.3,532.9 886.2,540.7 884.2,548.6 882.2,556.9 880.4,565.5 878.6,574.2 877,583.3 875.4,592.5 874,602 872.7,611.6 871.4,621.4 870.3,631.3 869.3,641.4 868.4,651.5 867.6,661.7 866.9,672 866.4,682.3 866,692.6 865.6,702.9 865.5,713.3 865.4,723.6 865.5,733.9 865.6,744.1 866,754.4 866.4,764.8 866.9,775.1 867.6,785.5 868.4,795.8 869.3,806.2 870.3,816.4 871.5,826.7 872.7,836.8 874.1,846.9 875.6,856.8 877.1,866.7 878.8,876.4 880.6,885.9 882.5,895.3 884.5,904.5 886.6,913.5 888.8,922.3 891.1,930.9 893.5,939.3 896,947.5 898.6,955.4 901.2,963.1 904,970.7 906.8,977.9 909.8,985 912.8,991.8 915.8,998.3 919,1004.6 922.2,1010.7 925.5,1016.5 928.8,1022 932.3,1027.2 935.7,1032.1 939.2,1036.8 942.8,1041.1 946.4,1045.2 950.1,1049 953.8,1052.4 957.5,1055.6 961.3,1058.4 965.1,1061 969,1063.2 972.9,1065.1 976.9,1066.7 981,1068" fill="none" stroke="#00ffad" stroke-width="3.0"/>
<polyline points="981,462.2 977.2,461.3 973.5,460.7 969.9,460.5 966.3,460.5 962.7,460.9 959.2,461.6 955.7,462.6 952.3,463.9 948.9,465.6 945.5,467.5 942.2,469.7 938.9,472.3 935.7,475.1 932.5,478.2 929.4,481.7 926.4,485.4 923.4,489.4 920.5,493.7 917.6,498.2 914.8,503.1 912.1,508.2 909.5,513.5 906.9,519.2 904.4,525 902,531.2 899.7,537.6 897.5,544.2 895.3,551.1 893.3,558.3 891.4,565.7 889.5,573.3 887.7,581.1 886.1,589.1 884.5,597.4 883,605.8 881.7,614.4 880.4,623.2 879.2,632.1 878.2,641.1 877.2,650.3 876.4,659.5 875.7,668.8 875,678.2 874.5,687.7 874.1,697.2 873.8,706.8 873.7,716.3 873.6,725.9 873.7,735.3 873.8,744.8 874.1,754.2 874.5,763.6 875,773.1 875.7,782.5 876.4,791.9 877.3,801.2 878.2,810.5 879.3,819.8 880.5,829 881.8,838 883.2,847.1 884.7,856 886.3,864.8 888,873.5 889.8,882 891.7,890.4 893.7,898.7 895.8,906.9 898,914.8 900.3,922.6 902.6,930.2 905.1,937.7 907.6,944.9 910.2,952 912.9,958.8 915.6,965.4 918.4,971.8 921.3,977.9 924.3,983.8 927.3,989.5 930.4,994.9 933.5,1000.1 936.7,1005 939.9,1009.6 943.2,1014 946.5,1018.1 949.8,1021.9 953.2,1025.4 956.6,1028.7 960,1031.6 963.5,1034.3 967,1036.6 970.5,1038.7 974,1040.4 977.5,1041.9 981,1043" fill="none" stroke="#00ff80" stroke-width="3.0"/>
<polyline points="981,488 977.8,487.2 974.6,486.8 971.4,486.6 968.2,486.7 965.1,487.1 961.9,487.8 958.8,488.8 955.7,490.1 952.6,491.6 949.6,493.4 946.6,495.5 943.6,497.9 940.7,500.6 937.8,503.5 934.9,506.7 932.1,510.2 929.4,514 926.7,518 924.1,522.2 921.5,526.7 919,531.5 916.6,536.5 914.2,541.7 911.9,547.2 909.7,552.8 907.5,558.7 905.5,564.8 903.5,571.1 901.6,577.7 899.8,584.4 898,591.2 896.4,598.3 894.8,605.5 893.4,612.9 892,620.5 890.7,628.2 889.6,636 888.5,644 887.5,652 886.6,660.2 885.9,668.5 885.2,676.9 884.6,685.4 884.1,693.9 883.8,702.5 883.5,711.2 883.4,719.9 883.3,728.6 883.4,737.2 883.5,745.8 883.8,754.4 884.1,763 884.6,771.6 885.2,780.2 885.9,788.7 886.6,797.3 887.5,805.7 888.5,814.2 889.6,822.5 890.7,830.8 892,839 893.4,847.1 894.8,855.1 896.4,863.1 898,870.9 899.8,878.5 901.6,886.1 903.5,893.5 905.5,900.7 907.5,907.9 909.7,914.8 911.9,921.6 914.2,928.2 916.6,934.6 919,940.8 921.5,946.8 924.1,952.6 926.7,958.2 929.4,963.6 932.1,968.8 934.9,973.7 937.8,978.4 940.7,982.9 943.6,987.1 946.6,991.1 949.6,994.8 952.6,998.3 955.7,1001.5 958.8,1004.5 961.9,1007.1 965.1,1009.6 968.2,1011.7 971.4,1013.6 974.6,1015.2 977.8,1016.5 981,1017.5" fill="none" stroke="#00fa42" stroke-width="3.0"/>
<polyline points="981,512 978,511.3 975,510.9 972.1,510.7 969.1,510.8 966.2,511.1 963.2,511.7 960.3,512.6 957.4,513.7 954.6,515.1 951.7,516.7 948.9,518.7 946.1,520.8 943.4,523.2 940.7,525.9 938.1,528.8 935.5,531.9 932.9,535.3 930.4,538.9 927.9,542.8 925.5,546.9 923.2,551.2 920.9,555.7 918.7,560.5 916.6,565.4 914.5,570.6 912.5,575.9 910.6,581.5 908.7,587.2 906.9,593.1 905.3,599.2 903.6,605.5 902.1,611.9 900.7,618.5 899.3,625.2 898,632.1 896.8,639.1 895.7,646.2 894.7,653.4 893.8,660.8 893,668.2 892.3,675.8 891.7,683.4 891.1,691.1 890.7,698.9 890.3,706.7 890.1,714.6 889.9,722.5 889.9,730.5 889.9,738.3 890.1,746.1 890.3,754 890.7,761.8 891.1,769.7 891.7,777.5 892.3,785.3 893,793.1 893.8,800.8 894.7,808.5 895.7,816.1 896.8,823.7 898,831.2 899.3,838.6 900.7,845.9 902.1,853.2 903.6,860.3 905.3,867.3 906.9,874.2 908.7,881 910.6,887.6 912.5,894.1 914.5,900.4 916.6,906.6 918.7,912.6 920.9,918.5 923.2,924.2 925.5,929.7 927.9,935 930.4,940.1 932.9,945.1 935.5,949.8 938.1,954.3 940.7,958.6 943.4,962.7 946.1,966.6 948.9,970.2 951.7,973.6 954.6,976.8 957.4,979.8 960.3,982.5 963.2,984.9 966.2,987.2 969.1,989.1 972.1,990.9 975,992.3 978,993.5 981,994.5" fill="none" stroke="#42fa00" stroke-width="3.0"/>
<polyline points="981,534 978.3,533.4 975.5,532.9 972.8,532.8 970.1,532.9 967.4,533.2 964.7,533.7 962.1,534.5 959.4,535.5 956.8,536.8 954.2,538.3 951.6,540 949.1,542 946.6,544.2 944.1,546.6 941.7,549.2 939.3,552.1 937,555.1 934.7,558.4 932.4,561.9 930.2,565.7 928.1,569.6 926,573.7 924,578 922,582.5 920.1,587.2 918.3,592.1 916.5,597.1 914.8,602.3 913.2,607.7 911.7,613.2 910.2,618.9 908.8,624.8 907.4,630.8 906.2,636.9 905,643.1 903.9,649.5 902.9,655.9 902,662.5 901.2,669.2 900.4,676 899.8,682.8 899.2,689.8 898.7,696.8 898.3,703.9 898,711 897.8,718.2 897.6,725.4 897.6,732.6 897.6,739.7 897.8,746.7 898,753.8 898.3,760.8 898.7,767.9 899.2,774.9 899.8,782 900.4,789 901.2,795.9 902,802.8 902.9,809.7 903.9,816.5 905,823.3 906.2,829.9 907.4,836.5 908.8,843 910.2,849.4 911.7,855.8 913.2,862 914.8,868.1 916.5,874 918.3,879.9 920.1,885.6 922,891.2 924,896.6 926,901.9 928.1,907 930.2,912 932.4,916.8 934.7,921.4 937,925.8 939.3,930.1 941.7,934.2 944.1,938.1 946.6,941.7 949.1,945.2 951.6,948.5 954.2,951.6 956.8,954.5 959.4,957.1 962.1,959.6 964.7,961.8 967.4,963.8 970.1,965.6 972.8,967.2 975.5,968.5 978.3,969.6 981,970.5" fill="none" stroke="#80ff00" stroke-width="3.0"/>
<polyline points="981,555 978.5,554.4 976,554 973.5,553.9 971,553.9 968.6,554.2 966.1,554.7 963.7,555.4 961.2,556.3 958.8,557.4 956.4,558.8 954.1,560.3 951.8,562.1 949.5,564.1 947.2,566.3 945,568.6 942.8,571.2 940.7,574 938.6,577 936.5,580.2 934.5,583.5 932.5,587.1 930.6,590.8 928.8,594.7 927,598.7 925.2,603 923.6,607.4 921.9,612 920.4,616.7 918.9,621.5 917.5,626.5 916.1,631.7 914.8,637 913.6,642.4 912.5,647.9 911.4,653.6 910.4,659.3 909.5,665.2 908.7,671.1 907.9,677.2 907.2,683.3 906.6,689.5 906.1,695.8 905.6,702.2 905.3,708.6 905,715 904.8,721.5 904.6,728 904.6,734.6 904.6,741 904.8,747.3 905,753.7 905.3,760.1 905.6,766.5 906.1,772.9 906.6,779.2 907.2,785.5 907.9,791.8 908.7,798.1 909.5,804.3 910.4,810.5 911.4,816.6 912.5,822.6 913.6,828.6 914.8,834.5 916.1,840.3 917.5,846 918.9,851.6 920.4,857.1 921.9,862.5 923.6,867.8 925.2,873 927,878.1 928.8,883 930.6,887.8 932.5,892.4 934.5,896.9 936.5,901.2 938.6,905.4 940.7,909.4 942.8,913.3 945,917 947.2,920.5 949.5,923.9 951.8,927 954.1,930 956.4,932.8 958.8,935.4 961.2,937.9 963.7,940.1 966.1,942.1 968.6,943.9 971,945.5 973.5,947 976,948.2 978.5,949.2 981,950" fill="none" stroke="#adff00" stroke-width="3.0"/>
<polyline points="981,579.5 978.7,579 976.5,578.6 974.2,578.5 972,578.5 969.8,578.7 967.6,579.1 965.4,579.7 963.2,580.5 961,581.5 958.9,582.7 956.7,584 954.6,585.6 952.6,587.3 950.5,589.2 948.5,591.2 946.5,593.5 944.6,595.9 942.7,598.5 940.9,601.3 939.1,604.2 937.3,607.3 935.6,610.6 933.9,614 932.3,617.6 930.7,621.3 929.2,625.1 927.7,629.1 926.3,633.2 925,637.5 923.7,641.9 922.5,646.4 921.3,651 920.2,655.8 919.2,660.6 918.2,665.6 917.3,670.6 916.5,675.8 915.8,681 915.1,686.3 914.4,691.7 913.9,697.1 913.4,702.6 913,708.2 912.7,713.8 912.4,719.5 912.2,725.2 912.1,730.9 912.1,736.7 912.1,742.4 912.2,748.1 912.4,753.8 912.7,759.5 913,765.1 913.4,770.8 913.9,776.5 914.4,782.1 915.1,787.8 915.8,793.3 916.5,798.9 917.3,804.4 918.2,809.8 919.2,815.2 920.2,820.5 921.3,825.8 922.5,831 923.7,836.1 925,841.1 926.3,846 927.7,850.8 929.2,855.6 930.7,860.2 932.3,864.7 933.9,869.1 935.6,873.3 937.3,877.5 939.1,881.5 940.9,885.4 942.7,889.1 944.6,892.7 946.5,896.2 948.5,899.5 950.5,902.6 952.6,905.6 954.6,908.4 956.7,911.1 958.9,913.6 961,916 963.2,918.1 965.4,920.1 967.6,921.9 969.8,923.5 972,925 974.2,926.3 976.5,927.4 978.7,928.3 981,929" fill="none" stroke="#d4ff00" stroke-width="3.0"/>
<polyline points="981,600.5 979,600 977,599.7 975,599.6 973,599.6 971.1,599.8 969.1,600.2 967.1,600.7 965.2,601.4 963.3,602.2 961.4,603.3 959.5,604.5 957.7,605.8 955.8,607.3 954,609 952.2,610.8 950.5,612.8 948.8,614.9 947.1,617.2 945.5,619.7 943.9,622.2 942.3,625 940.8,627.8 939.3,630.8 937.9,634 936.5,637.2 935.1,640.6 933.8,644.1 932.6,647.8 931.4,651.5 930.3,655.4 929.2,659.4 928.2,663.5 927.2,667.6 926.3,671.9 925.4,676.3 924.6,680.7 923.9,685.2 923.2,689.8 922.6,694.5 922.1,699.3 921.6,704.1 921.2,708.9 920.8,713.8 920.5,718.8 920.3,723.8 920.1,728.8 920,733.8 920,738.9 920,743.9 920.1,748.9 920.3,753.9 920.5,758.9 920.8,763.9 921.2,768.9 921.6,773.9 922.1,778.8 922.6,783.8 923.2,788.7 923.9,793.6 924.6,798.4 925.4,803.2 926.3,807.9 927.2,812.6 928.2,817.2 929.2,821.8 930.3,826.2 931.4,830.7 932.6,835 933.8,839.2 935.1,843.4 936.5,847.4 937.9,851.4 939.3,855.3 940.8,859 942.3,862.7 943.9,866.2 945.5,869.6 947.1,872.9 948.8,876.1 950.5,879.1 952.2,882 954,884.8 955.8,887.4 957.7,889.9 959.5,892.2 961.4,894.4 963.3,896.5 965.2,898.4 967.1,900.2 969.1,901.7 971.1,903.2 973,904.5 975,905.6 977,906.6 979,907.4 981,908" fill="none" stroke="#f7ff00" stroke-width="3.0"/>
<polyline points="981,621 979.3,620.6 977.6,620.3 975.9,620.2 974.2,620.2 972.5,620.4 970.8,620.7 969.1,621.2 967.5,621.8 965.8,622.6 964.2,623.5 962.6,624.5 961,625.7 959.5,627 957.9,628.5 956.4,630.1 954.9,631.8 953.4,633.6 952,635.6 950.6,637.8 949.2,640 947.9,642.4 946.6,644.9 945.3,647.5 944.1,650.2 942.9,653 941.8,656 940.6,659.1 939.6,662.2 938.6,665.5 937.6,668.8 936.7,672.3 935.8,675.8 935,679.5 934.2,683.2 933.5,687 932.8,690.8 932.1,694.8 931.6,698.8 931,702.8 930.6,706.9 930.2,711.1 929.8,715.3 929.5,719.6 929.2,723.9 929.1,728.2 928.9,732.6 928.8,737 928.8,741.4 928.8,745.7 928.9,750 929.1,754.3 929.2,758.6 929.5,762.9 929.8,767.2 930.2,771.5 930.6,775.8 931,780 931.6,784.3 932.1,788.5 932.8,792.6 933.5,796.8 934.2,800.8 935,804.9 935.8,808.8 936.7,812.8 937.6,816.6 938.6,820.4 939.6,824.2 940.6,827.8 941.8,831.4 942.9,834.9 944.1,838.3 945.3,841.6 946.6,844.9 947.9,848 949.2,851 950.6,854 952,856.8 953.4,859.5 954.9,862.1 956.4,864.6 957.9,867 959.5,869.3 961,871.4 962.6,873.5 964.2,875.3 965.8,877.1 967.5,878.8 969.1,880.3 970.8,881.6 972.5,882.9 974.2,884 975.9,884.9 977.6,885.8 979.3,886.5 981,887" fill="none" stroke="#ffdd00" stroke-width="3.0"/>
<polyline points="981,642.5 979.5,642.2 978.1,641.9 976.6,641.8 975.2,641.8 973.8,642 972.3,642.3 970.9,642.6 969.5,643.1 968.1,643.8 966.7,644.5 965.4,645.4 964,646.4 962.7,647.5 961.4,648.7 960.1,650 958.8,651.5 957.6,653.1 956.3,654.7 955.1,656.5 954,658.4 952.8,660.4 951.7,662.5 950.6,664.7 949.6,667 948.6,669.3 947.6,671.8 946.7,674.4 945.8,677 944.9,679.8 944.1,682.6 943.3,685.5 942.5,688.5 941.8,691.5 941.2,694.7 940.6,697.8 940,701.1 939.4,704.4 939,707.7 938.5,711.2 938.1,714.6 937.8,718.1 937.5,721.7 937.2,725.2 937,728.9 936.8,732.5 936.7,736.2 936.6,739.9 936.6,743.6 936.6,747.1 936.7,750.7 936.8,754.2 937,757.8 937.2,761.3 937.5,764.9 937.8,768.4 938.1,771.9 938.5,775.5 939,778.9 939.4,782.4 940,785.8 940.6,789.2 941.2,792.6 941.8,795.9 942.5,799.2 943.3,802.5 944.1,805.7 944.9,808.8 945.8,811.9 946.7,814.9 947.6,817.9 948.6,820.8 949.6,823.6 950.6,826.3 951.7,829 952.8,831.6 954,834.1 955.1,836.5 956.3,838.9 957.6,841.1 958.8,843.3 960.1,845.4 961.4,847.4 962.7,849.2 964,851 965.4,852.7 966.7,854.3 968.1,855.7 969.5,857.1 970.9,858.4 972.3,859.5 973.8,860.5 975.2,861.5 976.6,862.3 978.1,863 979.5,863.5 981,864" fill="none" stroke="#ffaf00" stroke-width="3.0"/>
<polyline points="981,665 979.9,664.7 978.7,664.6 977.6,664.5 976.5,664.5 975.3,664.6 974.2,664.9 973.1,665.2 972,665.6 970.9,666.1 969.8,666.7 968.8,667.4 967.7,668.2 966.7,669.1 965.7,670.1 964.6,671.2 963.6,672.3 962.7,673.6 961.7,674.9 960.8,676.4 959.9,677.9 959,679.5 958.1,681.2 957.3,682.9 956.5,684.8 955.7,686.7 954.9,688.7 954.2,690.8 953.5,692.9 952.8,695.1 952.1,697.4 951.5,699.7 950.9,702.1 950.4,704.5 949.9,707 949.4,709.6 948.9,712.2 948.5,714.9 948.1,717.5 947.8,720.3 947.5,723.1 947.2,725.9 947,728.7 946.8,731.6 946.6,734.5 946.5,737.4 946.4,740.4 946.3,743.3 946.3,746.3 946.3,749.1 946.4,751.9 946.5,754.7 946.6,757.5 946.8,760.3 947,763.1 947.2,765.8 947.5,768.6 947.8,771.4 948.1,774.1 948.5,776.8 948.9,779.6 949.4,782.2 949.9,784.9 950.4,787.5 950.9,790.1 951.5,792.6 952.1,795.1 952.8,797.6 953.5,800 954.2,802.4 954.9,804.7 955.7,807 956.5,809.2 957.3,811.4 958.1,813.5 959,815.5 959.9,817.5 960.8,819.4 961.7,821.3 962.7,823.1 963.6,824.8 964.6,826.4 965.7,827.9 966.7,829.4 967.7,830.8 968.8,832.1 969.8,833.4 970.9,834.5 972,835.6 973.1,836.6 974.2,837.5 975.3,838.3 976.5,839 977.6,839.6 978.7,840.2 979.9,840.6 981,841" fill="none" stroke="#ff7d00" stroke-width="3.0"/>
<polyline points="981,697 980.2,696.8 979.4,696.7 978.5,696.6 977.7,696.6 976.9,696.6 976.1,696.8 975.3,696.9 974.5,697.2 973.7,697.5 972.9,697.9 972.2,698.3 971.4,698.8 970.6,699.4 969.9,700 969.2,700.7 968.5,701.4 967.7,702.2 967.1,703 966.4,703.9 965.7,704.9 965.1,705.9 964.5,707 963.8,708.1 963.3,709.3 962.7,710.5 962.1,711.8 961.6,713.1 961.1,714.5 960.6,715.9 960.1,717.4 959.7,718.9 959.3,720.4 958.9,722 958.5,723.6 958.1,725.2 957.8,726.9 957.5,728.6 957.2,730.4 957,732.1 956.8,733.9 956.6,735.8 956.4,737.6 956.2,739.5 956.1,741.3 956,743.2 956,745.1 955.9,747 955.9,749 955.9,750.9 956,752.8 956,754.8 956.1,756.7 956.2,758.7 956.4,760.6 956.6,762.6 956.8,764.5 957,766.4 957.2,768.3 957.5,770.2 957.8,772.1 958.1,773.9 958.5,775.8 958.9,777.6 959.3,779.4 959.7,781.2 960.1,782.9 960.6,784.7 961.1,786.3 961.6,788 962.1,789.6 962.7,791.2 963.3,792.7 963.8,794.3 964.5,795.7 965.1,797.1 965.7,798.5 966.4,799.9 967.1,801.2 967.7,802.4 968.5,803.6 969.2,804.7 969.9,805.8 970.6,806.8 971.4,807.8 972.2,808.7 972.9,809.6 973.7,810.4 974.5,811.2 975.3,811.9 976.1,812.5 976.9,813.1 977.7,813.6 978.5,814 979.4,814.4 980.2,814.7 981,815" fill="none" stroke="#ff4700" stroke-width="3.0"/>
<polygon points="981,291.3 1015.5,279.9 1028.4,275.9 1038.2,273.2 1046.4,271.2 1053.7,269.7 1060.3,268.7 1066.4,268 1072,267.7 1077.3,267.7 1082.2,267.9 1086.7,268.4 1091,269.2 1095,270.3 1098.7,271.6 1102.2,273.1 1105.4,274.9 1108.4,276.9 1111.2,279.2 1113.7,281.8 1116.2,284.7 1118.4,287.8 1120.5,291.3 1122.4,295.1 1124.2,299.3 1125.9,303.9 1127.4,309.1 1128.8,314.8 1130.1,321.2 1131.3,328.3 1132.4,336.1 1133.5,344.8 1134.5,354.4 1135.5,364.9 1136.4,376.6 1137.2,389.3 1138,403.1 1138.8,418.1 1139.6,434.3 1140.3,451.6 1140.9,470.1 1141.5,489.6 1142.1,510.3 1142.6,532 1143,554.9 1143.3,579.5 1143.6,606.6 1143.7,639 1143.8,701.5 1143.8,774.4 1143.6,808.2 1143.4,835.4 1143.1,859.3 1142.7,881.1 1142.2,901.4 1141.6,920.5 1141,938.4 1140.3,955.4 1139.6,971.3 1138.8,986.4 1138,1000.5 1137.1,1013.7 1136.1,1026 1135.1,1037.5 1134.1,1048.2 1133,1058.1 1131.8,1067.3 1130.5,1075.9 1129.2,1083.8 1127.7,1091.3 1126.2,1098.2 1124.5,1104.6 1122.7,1110.7 1120.8,1116.5 1118.8,1122.1 1116.8,1127.4 1114.6,1132.4 1112.4,1137.2 1110,1141.6 1107.6,1145.8 1105.1,1149.7 1102.4,1153.4 1099.6,1156.8 1096.6,1159.9 1093.5,1162.9 1090.2,1165.6 1086.7,1168.1 1082.9,1170.5 1078.8,1172.8 1074.3,1175.1 1069.3,1177.4 1063.7,1179.9 1057.3,1182.7 1049.7,1186.1 1040.2,1190.7 1026.9,1197 981,1218" fill="#0063ff"/>
<polygon points="981,313.4 1001.6,306.6 1012,303.6 1020.5,301.4 1027.9,299.9 1034.6,298.9 1040.7,298.3 1046.5,298.2 1051.9,298.3 1057.1,298.9 1062,299.7 1066.6,300.9 1071,302.4 1075.2,304.2 1079.1,306.4 1082.9,308.8 1086.5,311.5 1089.9,314.5 1093.1,317.9 1096.1,321.6 1099,325.6 1101.7,329.9 1104.3,334.7 1106.7,339.7 1109,345.2 1111.2,351.1 1113.2,357.5 1115.1,364.5 1116.9,372 1118.6,380.2 1120.1,388.9 1121.6,398.4 1123.1,408.5 1124.4,419.3 1125.6,430.9 1126.8,443.2 1127.9,456.3 1129,470.1 1130,484.6 1130.9,499.9 1131.7,516 1132.4,532.8 1133.1,550.3 1133.7,568.8 1134.1,588.2 1134.5,609.1 1134.8,632.1 1134.9,659 1135,704.4 1134.9,756.3 1134.8,784.7 1134.5,808.3 1134.2,829.4 1133.7,848.9 1133.2,867.1 1132.6,884.4 1131.8,900.8 1131,916.4 1130.1,931.4 1129.2,945.7 1128.1,959.3 1127,972.2 1125.8,984.6 1124.6,996.3 1123.2,1007.5 1121.8,1018 1120.3,1028 1118.7,1037.5 1116.9,1046.5 1115.1,1055 1113.2,1063.1 1111.2,1070.7 1109,1078 1106.7,1084.8 1104.3,1091.4 1101.9,1097.6 1099.3,1103.5 1096.6,1109.1 1093.8,1114.4 1090.8,1119.4 1087.8,1124.1 1084.6,1128.5 1081.3,1132.7 1077.8,1136.7 1074.2,1140.5 1070.4,1144.2 1066.3,1147.7 1062,1151.1 1057.5,1154.5 1052.6,1157.9 1047.3,1161.4 1041.5,1165.1 1035.1,1169 1027.7,1173.1 1019,1177.6 1007.7,1183 981,1195" fill="#0097ff"/>
<polygon points="981,338.2 995.9,333.4 1004.6,330.9 1011.9,329.2 1018.4,328 1024.4,327.4 1030,327.1 1035.3,327.3 1040.2,327.9 1045,328.8 1049.5,330.1 1053.8,331.7 1058,333.7 1062,336.1 1065.8,338.7 1069.5,341.8 1073.1,345.1 1076.5,348.8 1079.7,352.9 1082.9,357.2 1085.9,362 1088.8,367 1091.6,372.5 1094.2,378.2 1096.8,384.4 1099.2,390.9 1101.5,397.9 1103.6,405.3 1105.7,413.3 1107.6,421.7 1109.5,430.7 1111.2,440.1 1112.9,450.2 1114.4,460.7 1115.9,471.9 1117.2,483.5 1118.5,495.8 1119.7,508.5 1120.8,521.8 1121.8,535.7 1122.7,550.1 1123.5,565.1 1124.3,580.7 1124.9,596.9 1125.4,614 1125.8,632.1 1126.1,651.7 1126.2,674.1 1126.3,707.3 1126.2,740.5 1126.1,762.9 1125.8,782.6 1125.4,800.8 1124.9,818.1 1124.3,834.6 1123.5,850.4 1122.7,865.8 1121.8,880.6 1120.8,894.9 1119.7,908.8 1118.4,922.2 1117.1,935.2 1115.8,947.6 1114.3,959.6 1112.7,971.2 1111,982.3 1109.2,992.9 1107.4,1003.1 1105.4,1012.8 1103.3,1022.2 1101.1,1031.1 1098.8,1039.5 1096.3,1047.6 1093.8,1055.3 1091.1,1062.6 1088.3,1069.6 1085.4,1076.4 1082.3,1082.8 1079.2,1088.9 1075.9,1094.8 1072.5,1100.4 1069,1105.8 1065.3,1111 1061.5,1115.9 1057.6,1120.7 1053.5,1125.4 1049.2,1129.9 1044.7,1134.2 1040,1138.5 1035.1,1142.8 1029.9,1146.9 1024.3,1150.8 1018.4,1154.6 1011.9,1158.3 1004.6,1162.1 995.9,1166.2 981,1172.5" fill="#00c7ff"/>
<polygon points="981,362.3 991.8,358.8 999.1,356.9 1005.4,355.5 1011.1,354.7 1016.4,354.4 1021.4,354.4 1026.2,354.9 1030.7,355.7 1035,357 1039.2,358.6 1043.2,360.6 1047.1,363 1050.9,365.7 1054.5,368.9 1058.1,372.4 1061.5,376.2 1064.8,380.4 1068.1,385 1071.2,389.9 1074.3,395.1 1077.2,400.7 1080.1,406.6 1082.9,412.9 1085.6,419.4 1088.1,426.3 1090.6,433.7 1092.9,441.5 1095.1,449.8 1097.2,458.6 1099.1,467.9 1101,477.6 1102.8,487.8 1104.5,498.5 1106.1,509.7 1107.6,521.3 1109,533.4 1110.3,545.9 1111.5,558.7 1112.6,571.9 1113.6,585.5 1114.5,599.3 1115.3,613.4 1115.9,627.8 1116.5,642.6 1116.9,657.7 1117.2,673.4 1117.4,690.1 1117.5,710.3 1117.4,730.5 1117.2,747.3 1116.9,763.2 1116.5,778.5 1115.9,793.6 1115.3,808.3 1114.5,822.8 1113.6,837.1 1112.5,851.1 1111.4,864.9 1110.2,878.4 1108.9,891.6 1107.4,904.5 1105.9,917 1104.3,929.1 1102.6,940.9 1100.8,952.3 1098.9,963.3 1096.8,974 1094.7,984.2 1092.5,993.9 1090.1,1003.3 1087.6,1012.3 1085,1020.9 1082.3,1029.2 1079.5,1037.1 1076.5,1044.8 1073.5,1052.2 1070.3,1059.3 1067.1,1066.1 1063.7,1072.7 1060.3,1079 1056.7,1085.1 1053,1090.9 1049.2,1096.5 1045.3,1101.9 1041.2,1107 1037,1112 1032.7,1116.7 1028.3,1121.2 1023.7,1125.5 1018.9,1129.5 1013.9,1133.2 1008.6,1136.7 1003.1,1140 997.1,1143.1 990.3,1146.2 981,1150" fill="#00f4ff"/>
<polygon points="981,386.4 989.3,383.8 995.3,382.2 1000.7,381.2 1005.7,380.7 1010.4,380.5 1014.8,380.8 1019,381.6 1023.1,382.7 1026.9,384.2 1030.7,386.1 1034.3,388.5 1037.8,391.2 1041.2,394.4 1044.5,397.9 1047.8,401.9 1051,406.2 1054.2,410.9 1057.3,416 1060.3,421.4 1063.3,427.1 1066.2,433.2 1069.1,439.5 1071.9,446.1 1074.7,453 1077.4,460.2 1079.9,467.8 1082.3,475.8 1084.7,484.1 1086.9,492.9 1089,502.1 1091,511.7 1092.9,521.7 1094.7,532 1096.4,542.7 1098,553.8 1099.4,565.1 1100.8,576.7 1102.1,588.5 1103.3,600.5 1104.4,612.7 1105.3,624.9 1106.1,637.3 1106.9,649.8 1107.4,662.3 1107.9,674.8 1108.2,687.4 1108.4,700.1 1108.5,713.3 1108.4,726.3 1108.2,739.1 1107.9,751.8 1107.4,764.5 1106.9,777.3 1106.1,790.1 1105.3,802.9 1104.4,815.7 1103.3,828.5 1102.1,841.1 1100.8,853.7 1099.4,866.1 1098,878.3 1096.4,890.3 1094.7,902 1092.9,913.4 1091,924.6 1089,935.4 1086.9,945.9 1084.7,956 1082.3,965.8 1079.9,975.2 1077.4,984.3 1074.7,993 1071.9,1001.4 1069,1009.6 1066.1,1017.5 1063,1025.1 1059.9,1032.5 1056.6,1039.6 1053.3,1046.4 1049.9,1053 1046.3,1059.3 1042.7,1065.4 1039.1,1071.2 1035.3,1076.8 1031.4,1082.2 1027.5,1087.2 1023.5,1092 1019.3,1096.5 1015.1,1100.7 1010.8,1104.6 1006.4,1108.1 1001.9,1111.4 997.2,1114.4 992.3,1117.1 987.1,1119.5 981,1122" fill="#00ffe6"/>
<polygon points="981,412.8 987,410.9 991.9,409.8 996.5,409 1000.8,408.7 1005,408.8 1009,409.2 1012.8,410 1016.6,411.2 1020.2,412.8 1023.7,414.8 1027.2,417.1 1030.6,419.8 1033.8,422.8 1037.1,426.3 1040.2,430.1 1043.3,434.2 1046.4,438.7 1049.4,443.5 1052.3,448.7 1055.2,454.2 1058,459.9 1060.8,466 1063.5,472.3 1066.1,478.9 1068.7,485.7 1071.1,493 1073.4,500.5 1075.6,508.5 1077.8,516.8 1079.8,525.4 1081.7,534.3 1083.5,543.6 1085.3,553.2 1086.9,563 1088.4,573.2 1089.9,583.6 1091.2,594.1 1092.4,604.9 1093.6,615.8 1094.6,626.9 1095.5,638 1096.3,649.2 1096.9,660.5 1097.5,671.7 1097.9,683 1098.2,694.2 1098.4,705.4 1098.5,716.6 1098.4,727.8 1098.2,739 1097.9,750.3 1097.5,761.6 1096.9,773 1096.3,784.4 1095.5,795.9 1094.5,807.3 1093.5,818.7 1092.4,830.1 1091.1,841.4 1089.8,852.6 1088.3,863.6 1086.7,874.5 1085.1,885.3 1083.3,895.8 1081.4,906.1 1079.4,916.2 1077.4,926.1 1075.2,935.7 1072.9,945 1070.5,954.1 1068,962.9 1065.5,971.4 1062.8,979.7 1060,987.8 1057.2,995.6 1054.2,1003.1 1051.2,1010.4 1048.1,1017.4 1045,1024.2 1041.7,1030.7 1038.4,1037 1035,1043 1031.6,1048.7 1028.1,1054.1 1024.5,1059.3 1020.9,1064.2 1017.2,1068.7 1013.4,1073 1009.6,1076.9 1005.8,1080.5 1001.9,1083.8 997.9,1086.7 993.9,1089.4 989.8,1091.7 985.5,1093.7 981,1095.5" fill="#00ffc2"/>
<polygon points="981,439.3 985.5,437.9 989.6,437.1 993.5,436.5 997.3,436.4 1001,436.6 1004.6,437.1 1008.2,437.9 1011.6,439.1 1015.1,440.7 1018.4,442.6 1021.7,444.8 1024.9,447.3 1028.1,450.2 1031.2,453.4 1034.3,456.9 1037.3,460.8 1040.2,464.9 1043.1,469.4 1045.9,474.1 1048.7,479.2 1051.4,484.5 1054,490.2 1056.5,496.1 1059,502.2 1061.4,508.6 1063.7,515.4 1065.9,522.4 1068,529.8 1070,537.4 1071.9,545.3 1073.7,553.5 1075.5,562 1077.1,570.7 1078.6,579.7 1080.1,588.9 1081.4,598.3 1082.7,607.9 1083.8,617.6 1084.9,627.5 1085.8,637.5 1086.7,647.6 1087.4,657.8 1088.1,668.1 1088.6,678.3 1089,688.6 1089.3,699 1089.4,709.3 1089.5,719.7 1089.4,729.9 1089.3,740.2 1089,750.5 1088.6,760.8 1088.1,771.2 1087.4,781.6 1086.7,792 1085.8,802.3 1084.9,812.6 1083.8,822.9 1082.6,833.1 1081.3,843.2 1080,853.2 1078.5,863.1 1076.9,872.8 1075.2,882.4 1073.4,891.9 1071.6,901.1 1069.6,910.2 1067.5,919.1 1065.4,927.8 1063.1,936.3 1060.8,944.5 1058.4,952.6 1055.9,960.4 1053.3,968 1050.6,975.4 1047.9,982.5 1045,989.4 1042.1,996.1 1039.2,1002.5 1036.2,1008.7 1033.1,1014.6 1030,1020.2 1026.8,1025.5 1023.5,1030.6 1020.2,1035.3 1016.9,1039.8 1013.5,1044 1010,1047.9 1006.5,1051.5 1003,1054.8 999.5,1057.7 995.9,1060.4 992.3,1062.8 988.6,1064.8 984.9,1066.5 981,1068" fill="#00ff98"/>
<polygon points="981,462.2 984.6,461.2 988,460.5 991.4,460.1 994.7,460.1 998,460.3 1001.3,460.9 1004.5,461.8 1007.7,463 1010.9,464.5 1014,466.4 1017.1,468.5 1020.2,470.9 1023.2,473.7 1026.1,476.7 1029,480 1031.9,483.6 1034.6,487.5 1037.4,491.7 1040,496.2 1042.6,501 1045.1,506 1047.6,511.3 1050,516.8 1052.3,522.6 1054.5,528.7 1056.7,535 1058.8,541.6 1060.8,548.4 1062.7,555.5 1064.5,562.8 1066.2,570.3 1067.8,578.1 1069.4,586.1 1070.8,594.3 1072.2,602.7 1073.5,611.2 1074.7,620 1075.7,628.8 1076.7,637.8 1077.6,647 1078.4,656.2 1079.1,665.5 1079.7,674.9 1080.1,684.3 1080.5,693.8 1080.8,703.3 1080.9,712.9 1081,722.5 1080.9,731.9 1080.8,741.3 1080.5,750.8 1080.1,760.2 1079.7,769.7 1079.1,779.1 1078.4,788.5 1077.6,797.9 1076.7,807.3 1075.7,816.5 1074.6,825.7 1073.4,834.9 1072.1,843.9 1070.7,852.9 1069.2,861.7 1067.6,870.5 1065.9,879.1 1064.1,887.6 1062.3,895.9 1060.3,904.1 1058.3,912.2 1056.2,920 1054,927.7 1051.7,935.3 1049.4,942.6 1046.9,949.7 1044.4,956.6 1041.9,963.3 1039.2,969.8 1036.6,976 1033.8,982 1031,987.8 1028.1,993.3 1025.2,998.6 1022.3,1003.6 1019.3,1008.3 1016.2,1012.8 1013.1,1017 1010,1020.9 1006.9,1024.6 1003.7,1027.9 1000.5,1030.9 997.3,1033.7 994.1,1036.2 990.8,1038.3 987.5,1040.2 984.3,1041.8 981,1043" fill="#00ff64"/>
<polygon points="981,488 984,487.1 987,486.6 990,486.3 993,486.3 996,486.5 999,487.1 1002,488 1004.9,489.1 1007.8,490.6 1010.7,492.3 1013.5,494.3 1016.3,496.6 1019.1,499.1 1021.8,502 1024.5,505.1 1027.2,508.4 1029.7,512.1 1032.3,516 1034.8,520.1 1037.2,524.6 1039.6,529.2 1041.9,534.1 1044.1,539.3 1046.3,544.6 1048.4,550.2 1050.4,556 1052.3,562.1 1054.2,568.3 1056,574.8 1057.7,581.4 1059.4,588.2 1060.9,595.2 1062.4,602.4 1063.8,609.7 1065.1,617.2 1066.3,624.9 1067.4,632.7 1068.4,640.6 1069.3,648.6 1070.2,656.8 1070.9,665 1071.5,673.4 1072.1,681.8 1072.5,690.4 1072.9,699 1073.1,707.6 1073.3,716.3 1073.3,725.1 1073.3,733.7 1073.1,742.2 1072.9,750.9 1072.5,759.5 1072.1,768.1 1071.5,776.7 1070.9,785.3 1070.2,793.8 1069.3,802.3 1068.4,810.8 1067.4,819.2 1066.3,827.5 1065.1,835.8 1063.8,843.9 1062.4,852 1060.9,860 1059.4,867.8 1057.7,875.6 1056,883.2 1054.2,890.7 1052.3,898 1050.4,905.2 1048.4,912.2 1046.3,919 1044.1,925.7 1041.9,932.2 1039.6,938.5 1037.2,944.6 1034.8,950.5 1032.3,956.3 1029.7,961.7 1027.2,967 1024.5,972 1021.8,976.9 1019.1,981.4 1016.3,985.8 1013.5,989.8 1010.7,993.7 1007.8,997.3 1004.9,1000.6 1002,1003.6 999,1006.4 996,1009 993,1011.2 990,1013.2 987,1014.9 984,1016.3 981,1017.5" fill="#00f000"/>
<polygon points="981,512 983.8,511.2 986.6,510.7 989.4,510.4 992.1,510.4 994.9,510.6 997.6,511.1 1000.3,511.9 1003.1,512.9 1005.7,514.2 1008.4,515.8 1011,517.6 1013.6,519.7 1016.2,522 1018.7,524.5 1021.2,527.4 1023.6,530.4 1026,533.7 1028.3,537.3 1030.6,541 1032.9,545 1035.1,549.3 1037.2,553.7 1039.2,558.4 1041.2,563.3 1043.2,568.4 1045.1,573.7 1046.9,579.1 1048.6,584.8 1050.3,590.7 1051.8,596.7 1053.4,602.9 1054.8,609.3 1056.1,615.8 1057.4,622.5 1058.6,629.3 1059.7,636.3 1060.7,643.3 1061.7,650.5 1062.5,657.9 1063.3,665.3 1064,672.8 1064.6,680.4 1065.1,688.1 1065.5,695.9 1065.8,703.7 1066,711.6 1066.2,719.5 1066.2,727.5 1066.2,735.3 1066,743.1 1065.8,751 1065.5,758.8 1065.1,766.7 1064.6,774.5 1064,782.4 1063.3,790.2 1062.5,797.9 1061.7,805.6 1060.7,813.3 1059.7,820.9 1058.6,828.4 1057.4,835.9 1056.1,843.3 1054.8,850.5 1053.4,857.7 1051.8,864.8 1050.3,871.7 1048.6,878.5 1046.9,885.2 1045.1,891.8 1043.2,898.2 1041.2,904.5 1039.2,910.6 1037.2,916.5 1035.1,922.3 1032.9,927.8 1030.6,933.2 1028.3,938.4 1026,943.5 1023.6,948.3 1021.2,952.9 1018.7,957.3 1016.2,961.5 1013.6,965.4 1011,969.2 1008.4,972.7 1005.7,975.9 1003.1,979 1000.3,981.8 997.6,984.3 994.9,986.7 992.1,988.7 989.4,990.6 986.6,992.1 983.8,993.4 981,994.5" fill="#64ff00"/>
<polygon points="981,534 983.6,533.3 986.1,532.8 988.7,532.5 991.2,532.5 993.8,532.7 996.3,533.1 998.8,533.8 1001.3,534.8 1003.7,535.9 1006.2,537.3 1008.6,539 1011,540.9 1013.3,543 1015.6,545.3 1017.9,547.8 1020.1,550.6 1022.3,553.6 1024.5,556.8 1026.6,560.3 1028.7,563.9 1030.7,567.8 1032.6,571.8 1034.5,576 1036.4,580.5 1038.1,585.1 1039.9,589.9 1041.5,594.9 1043.1,600 1044.6,605.4 1046.1,610.9 1047.5,616.5 1048.8,622.3 1050.1,628.2 1051.2,634.3 1052.3,640.5 1053.3,646.8 1054.3,653.3 1055.1,659.8 1055.9,666.5 1056.6,673.2 1057.3,680 1057.8,687 1058.3,694 1058.6,701 1058.9,708.1 1059.1,715.3 1059.3,722.5 1059.3,729.8 1059.3,736.8 1059.1,743.9 1058.9,750.9 1058.6,758 1058.3,765.1 1057.8,772.1 1057.3,779.2 1056.6,786.2 1055.9,793.2 1055.1,800.1 1054.3,807 1053.3,813.9 1052.3,820.6 1051.2,827.3 1050.1,834 1048.8,840.5 1047.5,847 1046.1,853.4 1044.6,859.6 1043.1,865.8 1041.5,871.8 1039.9,877.7 1038.1,883.5 1036.4,889.1 1034.5,894.6 1032.6,900 1030.7,905.2 1028.7,910.2 1026.6,915.1 1024.5,919.8 1022.3,924.3 1020.1,928.6 1017.9,932.8 1015.6,936.8 1013.3,940.6 1011,944.1 1008.6,947.5 1006.2,950.7 1003.7,953.6 1001.3,956.4 998.8,958.9 996.3,961.3 993.8,963.4 991.2,965.2 988.7,966.9 986.1,968.3 983.6,969.5 981,970.5" fill="#98ff00"/>
<polygon points="981,555 983.3,554.3 985.7,553.9 988,553.6 990.3,553.6 992.7,553.8 995,554.2 997.3,554.8 999.5,555.6 1001.8,556.7 1004,558 1006.2,559.4 1008.4,561.1 1010.5,563 1012.7,565.1 1014.8,567.4 1016.8,569.9 1018.8,572.6 1020.8,575.5 1022.7,578.6 1024.6,581.9 1026.4,585.4 1028.2,589.1 1029.9,592.9 1031.6,596.9 1033.3,601.1 1034.8,605.4 1036.3,609.9 1037.8,614.6 1039.2,619.4 1040.5,624.4 1041.8,629.5 1043,634.7 1044.1,640.1 1045.2,645.6 1046.2,651.2 1047.1,656.9 1048,662.7 1048.8,668.7 1049.5,674.7 1050.2,680.8 1050.7,687 1051.2,693.3 1051.6,699.6 1052,706 1052.3,712.4 1052.4,718.9 1052.6,725.5 1052.6,732 1052.6,738.4 1052.4,744.8 1052.3,751.1 1052,757.5 1051.6,763.9 1051.2,770.3 1050.7,776.7 1050.2,783 1049.5,789.4 1048.8,795.6 1048,801.9 1047.1,808.1 1046.2,814.2 1045.2,820.3 1044.1,826.3 1043,832.2 1041.8,838.1 1040.5,843.8 1039.2,849.5 1037.8,855.1 1036.3,860.5 1034.8,865.9 1033.3,871.1 1031.6,876.2 1029.9,881.2 1028.2,886 1026.4,890.7 1024.6,895.3 1022.7,899.7 1020.8,904 1018.8,908.1 1016.8,912 1014.8,915.8 1012.7,919.4 1010.5,922.8 1008.4,926.1 1006.2,929.1 1004,932 1001.8,934.7 999.5,937.2 997.3,939.5 995,941.6 992.7,943.5 990.3,945.2 988,946.7 985.7,948 983.3,949.1 981,950" fill="#c2ff00"/>
<polygon points="981,579.5 983.1,578.9 985.3,578.5 987.4,578.2 989.5,578.2 991.6,578.3 993.7,578.6 995.8,579.2 997.8,579.9 999.9,580.8 1001.9,581.9 1003.9,583.1 1005.9,584.6 1007.8,586.2 1009.7,588.1 1011.6,590.1 1013.5,592.3 1015.3,594.6 1017.1,597.1 1018.9,599.8 1020.6,602.7 1022.2,605.7 1023.9,608.9 1025.4,612.3 1027,615.8 1028.4,619.5 1029.9,623.3 1031.2,627.2 1032.6,631.3 1033.8,635.5 1035,639.8 1036.2,644.3 1037.3,648.9 1038.3,653.6 1039.3,658.4 1040.2,663.3 1041.1,668.3 1041.8,673.4 1042.6,678.6 1043.2,683.9 1043.8,689.3 1044.3,694.7 1044.8,700.2 1045.1,705.8 1045.4,711.4 1045.7,717 1045.9,722.7 1046,728.5 1046,734.2 1046,739.9 1045.9,745.6 1045.7,751.3 1045.4,757 1045.1,762.7 1044.8,768.4 1044.3,774.1 1043.8,779.7 1043.2,785.4 1042.6,791 1041.8,796.6 1041.1,802.1 1040.2,807.6 1039.3,813 1038.3,818.3 1037.3,823.6 1036.2,828.9 1035,834 1033.8,839.1 1032.6,844 1031.2,848.9 1029.9,853.7 1028.4,858.4 1027,862.9 1025.4,867.4 1023.9,871.7 1022.2,875.9 1020.6,880 1018.9,883.9 1017.1,887.7 1015.3,891.4 1013.5,894.9 1011.6,898.3 1009.7,901.5 1007.8,904.6 1005.9,907.5 1003.9,910.2 1001.9,912.8 999.9,915.2 997.8,917.5 995.8,919.5 993.7,921.4 991.6,923.1 989.5,924.7 987.4,926 985.3,927.2 983.1,928.2 981,929" fill="#e6ff00"/>
<polygon points="981,600.5 982.9,599.9 984.8,599.6 986.7,599.3 988.6,599.3 990.5,599.4 992.4,599.7 994.2,600.1 996.1,600.8 997.9,601.5 999.7,602.5 1001.5,603.6 1003.3,604.9 1005,606.3 1006.7,607.9 1008.4,609.7 1010.1,611.6 1011.7,613.7 1013.3,615.9 1014.9,618.2 1016.4,620.8 1017.9,623.4 1019.4,626.2 1020.8,629.2 1022.2,632.3 1023.5,635.5 1024.8,638.8 1026,642.3 1027.2,645.9 1028.3,649.6 1029.4,653.4 1030.4,657.3 1031.4,661.4 1032.3,665.5 1033.2,669.7 1034,674.1 1034.8,678.5 1035.5,683 1036.1,687.6 1036.7,692.2 1037.2,696.9 1037.7,701.7 1038.1,706.5 1038.4,711.4 1038.7,716.4 1038.9,721.4 1039.1,726.4 1039.2,731.4 1039.2,736.5 1039.2,741.5 1039.1,746.5 1038.9,751.5 1038.7,756.5 1038.4,761.5 1038.1,766.5 1037.7,771.5 1037.2,776.5 1036.7,781.5 1036.1,786.4 1035.5,791.3 1034.8,796.2 1034,801 1033.2,805.7 1032.3,810.5 1031.4,815.1 1030.4,819.7 1029.4,824.2 1028.3,828.7 1027.2,833.1 1026,837.4 1024.8,841.6 1023.5,845.7 1022.2,849.7 1020.8,853.6 1019.4,857.4 1017.9,861.1 1016.4,864.7 1014.9,868.2 1013.3,871.6 1011.7,874.8 1010.1,877.9 1008.4,880.9 1006.7,883.7 1005,886.4 1003.3,889 1001.5,891.4 999.7,893.7 997.9,895.8 996.1,897.8 994.2,899.6 992.4,901.3 990.5,902.8 988.6,904.2 986.7,905.4 984.8,906.4 982.9,907.3 981,908" fill="#fff400"/>
<polygon points="981,621 982.7,620.5 984.3,620.2 986,620 987.7,619.9 989.3,620 991,620.2 992.6,620.6 994.3,621.2 995.9,621.8 997.5,622.7 999,623.6 1000.6,624.7 1002.1,626 1003.6,627.3 1005.1,628.9 1006.6,630.5 1008,632.3 1009.4,634.2 1010.8,636.3 1012.2,638.5 1013.5,640.8 1014.8,643.2 1016,645.7 1017.2,648.4 1018.4,651.2 1019.5,654.1 1020.6,657.1 1021.6,660.2 1022.6,663.4 1023.6,666.7 1024.5,670.1 1025.3,673.6 1026.2,677.2 1026.9,680.9 1027.6,684.7 1028.3,688.5 1028.9,692.4 1029.5,696.4 1030,700.4 1030.5,704.5 1030.9,708.6 1031.2,712.8 1031.5,717.1 1031.8,721.4 1032,725.7 1032.1,730.1 1032.2,734.4 1032.2,738.8 1032.2,743.1 1032.1,747.5 1032,751.8 1031.8,756.1 1031.5,760.4 1031.2,764.7 1030.9,769 1030.5,773.3 1030,777.6 1029.5,781.9 1028.9,786.1 1028.3,790.3 1027.6,794.4 1026.9,798.6 1026.2,802.6 1025.3,806.6 1024.5,810.6 1023.6,814.5 1022.6,818.4 1021.6,822.1 1020.6,825.8 1019.5,829.5 1018.4,833 1017.2,836.5 1016,839.9 1014.8,843.2 1013.5,846.4 1012.2,849.5 1010.8,852.5 1009.4,855.4 1008,858.2 1006.6,860.9 1005.1,863.4 1003.6,865.9 1002.1,868.2 1000.6,870.5 999,872.6 997.5,874.5 995.9,876.4 994.3,878.1 992.6,879.7 991,881.1 989.3,882.5 987.7,883.6 986,884.7 984.3,885.6 982.7,886.4 981,887" fill="#ffc700"/>
<polygon points="981,642.5 982.4,642.1 983.8,641.8 985.2,641.6 986.6,641.6 988,641.7 989.4,641.9 990.8,642.2 992.1,642.6 993.5,643.2 994.8,643.9 996.1,644.7 997.5,645.6 998.7,646.7 1000,647.8 1001.3,649.1 1002.5,650.5 1003.7,652 1004.9,653.6 1006,655.4 1007.2,657.2 1008.3,659.1 1009.4,661.2 1010.4,663.3 1011.4,665.6 1012.4,667.9 1013.3,670.3 1014.2,672.9 1015.1,675.5 1016,678.2 1016.8,681 1017.5,683.8 1018.2,686.8 1018.9,689.8 1019.6,692.9 1020.2,696 1020.7,699.3 1021.2,702.5 1021.7,705.9 1022.1,709.3 1022.5,712.7 1022.9,716.2 1023.2,719.7 1023.4,723.3 1023.6,726.9 1023.8,730.5 1023.9,734.2 1024,737.9 1024,741.6 1024,745.1 1023.9,748.7 1023.8,752.3 1023.6,755.8 1023.4,759.4 1023.2,762.9 1022.9,766.5 1022.5,770 1022.1,773.6 1021.7,777.1 1021.2,780.6 1020.7,784 1020.2,787.5 1019.6,790.8 1018.9,794.2 1018.2,797.5 1017.5,800.8 1016.8,804 1016,807.2 1015.1,810.3 1014.2,813.4 1013.3,816.4 1012.4,819.3 1011.4,822.2 1010.4,825 1009.4,827.7 1008.3,830.3 1007.2,832.9 1006,835.4 1004.9,837.8 1003.7,840.1 1002.5,842.3 1001.3,844.5 1000,846.5 998.7,848.4 997.5,850.3 996.1,852 994.8,853.6 993.5,855.2 992.1,856.6 990.8,857.9 989.4,859.1 988,860.2 986.6,861.2 985.2,862.1 983.8,862.8 982.4,863.5 981,864" fill="#ff9700"/>
<polygon points="981,665 982.1,664.7 983.2,664.4 984.4,664.3 985.5,664.3 986.6,664.3 987.7,664.5 988.8,664.8 989.9,665.1 991,665.6 992,666.1 993.1,666.8 994.1,667.5 995.2,668.4 996.2,669.3 997.2,670.3 998.1,671.4 999.1,672.7 1000.1,674 1001,675.3 1001.9,676.8 1002.8,678.4 1003.6,680 1004.4,681.7 1005.3,683.5 1006,685.4 1006.8,687.4 1007.5,689.4 1008.2,691.5 1008.9,693.7 1009.5,695.9 1010.1,698.2 1010.7,700.5 1011.2,703 1011.8,705.4 1012.2,708 1012.7,710.6 1013.1,713.2 1013.5,715.9 1013.8,718.6 1014.1,721.3 1014.4,724.1 1014.6,727 1014.8,729.8 1015,732.7 1015.1,735.6 1015.2,738.6 1015.3,741.5 1015.3,744.5 1015.3,747.3 1015.2,750.1 1015.1,752.9 1015,755.7 1014.8,758.5 1014.6,761.3 1014.4,764.1 1014.1,766.9 1013.8,769.7 1013.5,772.4 1013.1,775.2 1012.7,777.9 1012.2,780.6 1011.8,783.3 1011.2,785.9 1010.7,788.5 1010.1,791.1 1009.5,793.7 1008.9,796.2 1008.2,798.6 1007.5,801 1006.8,803.4 1006,805.7 1005.3,808 1004.4,810.2 1003.6,812.3 1002.8,814.4 1001.9,816.4 1001,818.4 1000.1,820.3 999.1,822.1 998.1,823.9 997.2,825.5 996.2,827.2 995.2,828.7 994.1,830.1 993.1,831.5 992,832.8 991,834 989.9,835.1 988.8,836.2 987.7,837.1 986.6,838 985.5,838.8 984.4,839.5 983.2,840.1 982.1,840.6 981,841" fill="#ff6300"/>
<polygon points="981,697 981.8,696.8 982.6,696.6 983.4,696.5 984.1,696.5 984.9,696.5 985.7,696.6 986.4,696.7 987.2,696.9 988,697.2 988.7,697.5 989.5,697.9 990.2,698.4 990.9,698.9 991.6,699.5 992.3,700.2 993,700.9 993.7,701.7 994.3,702.5 995,703.4 995.6,704.3 996.2,705.3 996.8,706.3 997.4,707.4 998,708.6 998.5,709.8 999,711.1 999.6,712.4 1000,713.7 1000.5,715.1 1001,716.5 1001.4,718 1001.8,719.5 1002.2,721.1 1002.5,722.7 1002.9,724.3 1003.2,726 1003.5,727.7 1003.7,729.4 1004,731.2 1004.2,733 1004.4,734.8 1004.5,736.6 1004.7,738.5 1004.8,740.3 1004.9,742.2 1004.9,744.1 1005,746 1005,748 1005,749.9 1004.9,751.8 1004.9,753.8 1004.8,755.7 1004.7,757.7 1004.5,759.6 1004.4,761.6 1004.2,763.5 1004,765.4 1003.7,767.4 1003.5,769.3 1003.2,771.2 1002.9,773 1002.5,774.9 1002.2,776.7 1001.8,778.5 1001.4,780.3 1001,782.1 1000.5,783.8 1000,785.5 999.6,787.2 999,788.9 998.5,790.5 998,792 997.4,793.6 996.8,795.1 996.2,796.5 995.6,797.9 995,799.3 994.3,800.6 993.7,801.9 993,803.1 992.3,804.2 991.6,805.4 990.9,806.4 990.2,807.4 989.5,808.4 988.7,809.3 988,810.1 987.2,810.9 986.4,811.6 985.7,812.3 984.9,812.9 984.1,813.4 983.4,813.9 982.6,814.3 981.8,814.7 981,815" fill="#ff2800"/>
<polyline points="981,272 795,217.5 795,1182 981,1234" fill="none" stroke="#000" stroke-width="2.7" stroke-linejoin="miter"/>
<polyline points="981,272 1153.8,212 1153.8,1178 981,1235" fill="none" stroke="#000" stroke-width="2.7" stroke-linejoin="miter"/>
<line x1="981" y1="232.5" x2="981" y2="1274" stroke="#000" stroke-width="3.0"/>
</g>
<g id="plot-b">
<polygon points="2767.3,237.5 2690,216.6 2600,191.2 2530,170.2 2481.3,155.3 2485.2,153.1 2489.6,150.9 2494.4,148.8 2499.6,146.7 2505.2,144.6 2511.2,142.6 2517.6,140.7 2524.4,138.8 2531.5,136.9 2539,135.1 2546.8,133.4 2555,131.7 2563.5,130.1 2572.3,128.5 2581.4,127.1 2590.8,125.6 2600.5,124.3 2610.4,123.1 2620.5,121.9 2630.9,120.8 2641.5,119.8 2652.3,118.8 2663.2,118 2674.3,117.2 2685.5,116.5 2696.9,116 2708.4,115.5 2720,115 2731.6,114.7 2743.3,114.5 2755,114.3 2766.7,114.3 2778.5,114.3 2790.2,114.5 2801.9,114.7 2813.5,115 2825.1,115.4 2836.6,115.9 2848,116.5 2859.2,117.2 2870.3,117.9 2881.3,118.8 2892.1,119.7 2902.7,120.7 2913.1,121.8 2923.3,122.9 2933.2,124.2 2942.9,125.5 2952.3,126.9 2961.4,128.4 2970.3,129.9 2978.8,131.5 2987,133.2 2994.9,134.9 3002.4,136.7 3009.6,138.6 3016.4,140.5 3022.8,142.4 3028.9,144.5 3034.5,146.5" fill="#0022d9" stroke="#0022d9" stroke-width="1.2" stroke-linejoin="round"/>
<polygon points="2767.3,237.5 3034.5,146.5 3022.8,142.4 2762.1,222.4" fill="#0024e4"/>
<line x1="2526.9" y1="141.4" x2="2759.9" y2="234.6" stroke="#000a5a" stroke-width="2.4" stroke-dasharray="2.6 4.6"/>
<line x1="2588.7" y1="140" x2="2761.3" y2="234.2" stroke="#000a5a" stroke-width="2.4" stroke-dasharray="2.6 4.6"/>
<line x1="2613" y1="122.8" x2="2762.7" y2="234.1" stroke="#000a5a" stroke-width="2.4" stroke-dasharray="2.6 6 2.6 6 2.6 18"/>
<polygon points="2481.3,1065.8 2536.3,1050 2536.3,1081.7" fill="#0023de" stroke="#0023de" stroke-width="1.2" stroke-linejoin="round"/>
<polygon points="3036,1057.7 2982.5,1044.8 2982.5,1073.8" fill="#0023de" stroke="#0023de" stroke-width="1.2" stroke-linejoin="round"/>
<polygon points="2767.3,237.5 2690,216.6 2600,191.2 2530,170.2 2481.3,155.3 2481.3,272.5 2536.3,289.5 2536.3,1081.7 2481.3,1065.8 2481.3,1184.8 2767.3,1267.7" fill="#000c4f" stroke="#000c4f" stroke-width="1.2" stroke-linejoin="round"/>
<polygon points="2767.3,237.5 3034.5,146.5 3034.5,265 2982.5,284 2982.5,1073.8 3036,1057.7 3036,1178.8 2767.3,1267.7" fill="#0028ff" stroke="#0028ff" stroke-width="1.2" stroke-linejoin="round"/>
<polygon points="2767.3,291.3 2728.8,280.6 2714.7,276.9 2704,274.4 2694.9,272.6 2686.8,271.3 2679.5,270.3 2672.8,269.7 2666.5,269.4 2660.7,269.4 2655.3,269.6 2650.3,270 2645.6,270.7 2641.3,271.6 2637.2,272.7 2633.5,274.1 2630.1,275.6 2627,277.4 2624.1,279.5 2621.4,281.8 2619,284.3 2616.7,287.2 2614.6,290.3 2612.7,293.8 2610.9,297.6 2609.3,301.8 2607.8,306.3 2606.3,311.3 2605,316.7 2603.7,322.5 2602.5,328.8 2601.4,335.7 2600.4,343.1 2599.4,351.2 2598.5,359.9 2597.6,369.2 2596.8,379.3 2596,390.2 2595.3,401.9 2594.7,414.6 2594.1,428.3 2593.6,443.1 2593.1,459.2 2592.7,477 2592.4,497 2592.1,520 2591.9,547.9 2591.8,585.8 2591.8,703.5 2591.8,828.1 2591.9,866.2 2592.1,893.8 2592.4,916.1 2592.7,935.3 2593.1,952.2 2593.6,967.5 2594.1,981.4 2594.7,994.3 2595.4,1006.2 2596.1,1017.4 2597,1027.9 2597.9,1037.8 2598.8,1047.1 2599.9,1055.9 2601,1064.2 2602.2,1072.1 2603.5,1079.6 2604.8,1086.7 2606.3,1093.5 2607.8,1100 2609.4,1106.1 2611.1,1112 2612.9,1117.6 2614.9,1122.9 2617,1127.9 2619.2,1132.7 2621.7,1137.2 2624.3,1141.4 2627.2,1145.4 2630.2,1149.1 2633.6,1152.6 2637.2,1155.9 2641,1159.1 2645.2,1162.1 2649.7,1164.9 2654.5,1167.7 2659.6,1170.4 2665.2,1173.2 2671.1,1176 2677.4,1178.9 2684.1,1182 2691.5,1185.4 2699.5,1189.3 2708.5,1193.5 2719.1,1198.1 2732.8,1203.7 2767.3,1217" fill="#001f4f"/>
<polygon points="2767.3,310.5 2739,302.6 2726.9,299.6 2717.5,297.5 2709.5,296.1 2702.4,295.2 2695.9,294.7 2689.9,294.5 2684.4,294.7 2679.2,295.3 2674.3,296.1 2669.7,297.2 2665.4,298.6 2661.3,300.3 2657.4,302.3 2653.7,304.5 2650.3,307 2647,309.8 2643.9,312.9 2640.9,316.3 2638.2,320 2635.6,324 2633.1,328.3 2630.8,333 2628.6,338 2626.5,343.3 2624.5,349.1 2622.7,355.2 2620.9,361.7 2619.3,368.7 2617.7,376 2616.2,383.9 2614.8,392.2 2613.5,401.1 2612.3,410.4 2611.2,420.4 2610.1,430.9 2609.2,442.1 2608.3,454 2607.5,466.7 2606.8,480.3 2606.1,494.8 2605.6,510.5 2605.1,527.6 2604.7,546.6 2604.4,568.1 2604.2,593.7 2604,626.9 2604,706.9 2604,773.3 2604.2,804.7 2604.4,829.6 2604.8,851.2 2605.2,870.5 2605.7,888.3 2606.3,904.8 2607.1,920.3 2607.8,935 2608.7,948.9 2609.7,962 2610.8,974.6 2611.9,986.5 2613.1,997.8 2614.4,1008.7 2615.8,1019 2617.3,1028.8 2618.9,1038.1 2620.6,1047 2622.4,1055.5 2624.3,1063.6 2626.2,1071.3 2628.4,1078.7 2630.6,1085.7 2632.9,1092.4 2635.4,1098.7 2638,1104.7 2640.8,1110.4 2643.6,1115.8 2646.6,1120.9 2649.8,1125.8 2653.1,1130.3 2656.6,1134.7 2660.3,1138.8 2664.1,1142.8 2668.2,1146.5 2672.4,1150.1 2676.9,1153.6 2681.7,1157 2686.8,1160.3 2692.2,1163.7 2698,1167.1 2704.3,1170.6 2711.3,1174.2 2719.1,1177.9 2728.4,1181.9 2740.3,1186.6 2767.3,1196.5" fill="#002f4f"/>
<polygon points="2767.3,331 2747.9,325.7 2737.8,323.2 2729.6,321.6 2722.4,320.5 2715.9,319.9 2709.9,319.7 2704.3,319.9 2699,320.4 2694,321.3 2689.3,322.6 2684.8,324.1 2680.5,326 2676.4,328.2 2672.5,330.7 2668.8,333.5 2665.2,336.7 2661.8,340.1 2658.5,343.9 2655.3,348 2652.4,352.4 2649.5,357.2 2646.8,362.2 2644.2,367.6 2641.7,373.4 2639.3,379.6 2637.1,386.1 2635,393.1 2633,400.5 2631.1,408.4 2629.3,416.8 2627.7,425.7 2626.1,435 2624.6,445 2623.2,455.4 2621.8,466.4 2620.6,478 2619.5,490.1 2618.4,502.9 2617.5,516.3 2616.6,530.4 2615.9,545.2 2615.2,560.9 2614.6,577.5 2614.1,595.4 2613.8,614.9 2613.5,636.8 2613.4,663.1 2613.3,709.6 2613.4,752.8 2613.5,778.3 2613.8,799.9 2614.2,819.3 2614.7,837.3 2615.3,854.3 2615.9,870.3 2616.7,885.7 2617.6,900.3 2618.6,914.4 2619.7,927.9 2620.9,940.9 2622.1,953.4 2623.5,965.3 2624.9,976.7 2626.4,987.7 2628.1,998.2 2629.8,1008.2 2631.6,1017.8 2633.6,1026.9 2635.6,1035.7 2637.8,1044 2640.1,1052 2642.5,1059.5 2645,1066.7 2647.7,1073.6 2650.5,1080.2 2653.4,1086.4 2656.4,1092.4 2659.6,1098 2663,1103.5 2666.4,1108.6 2670.1,1113.6 2673.9,1118.3 2677.9,1122.8 2682,1127.2 2686.4,1131.3 2690.9,1135.4 2695.7,1139.3 2700.7,1143.2 2706,1147 2711.6,1150.7 2717.6,1154.3 2724,1157.8 2731.2,1161.2 2739.3,1164.6 2749.1,1168.4 2767.3,1174.8" fill="#003e4f"/>
<polygon points="2767.3,353.9 2752.6,349.9 2744,347.9 2736.7,346.6 2730.3,345.7 2724.3,345.3 2718.8,345.3 2713.5,345.7 2708.6,346.4 2703.9,347.4 2699.3,348.8 2695,350.5 2690.9,352.5 2686.9,354.9 2683.1,357.5 2679.4,360.5 2675.9,363.8 2672.5,367.4 2669.3,371.3 2666.2,375.5 2663.2,380 2660.3,384.9 2657.6,390.1 2655,395.6 2652.6,401.5 2650.2,407.7 2647.9,414.4 2645.8,421.4 2643.8,428.8 2641.9,436.7 2640.1,445 2638.3,453.7 2636.7,462.8 2635.2,472.5 2633.8,482.6 2632.4,493.2 2631.2,504.2 2630,515.8 2629,527.9 2628,540.6 2627.1,553.8 2626.4,567.7 2625.7,582.3 2625.1,597.7 2624.6,614.1 2624.3,631.9 2624,651.6 2623.9,674.8 2623.8,712.5 2623.9,747.3 2624,769.6 2624.3,789 2624.7,806.6 2625.2,823.1 2625.8,838.8 2626.5,853.7 2627.2,868 2628.1,881.9 2629.1,895.2 2630.2,908 2631.4,920.4 2632.7,932.4 2634.1,943.9 2635.6,955 2637.1,965.7 2638.8,976 2640.6,985.9 2642.4,995.4 2644.4,1004.5 2646.5,1013.3 2648.7,1021.7 2651,1029.7 2653.4,1037.4 2655.9,1044.7 2658.6,1051.8 2661.4,1058.5 2664.3,1065 2667.3,1071.2 2670.5,1077.1 2673.8,1082.7 2677.3,1088.2 2680.8,1093.4 2684.6,1098.3 2688.4,1103.1 2692.5,1107.7 2696.7,1112.1 2701,1116.3 2705.6,1120.4 2710.4,1124.3 2715.3,1128.1 2720.5,1131.7 2726.1,1135.1 2731.9,1138.3 2738.3,1141.3 2745.4,1144.4 2753.7,1147.5 2767.3,1152" fill="#004c4f"/>
<polygon points="2767.3,376.7 2755.2,373.4 2747.5,371.7 2741.1,370.6 2735.2,369.9 2729.8,369.7 2724.7,369.8 2719.9,370.3 2715.4,371.1 2711,372.2 2706.8,373.7 2702.8,375.5 2698.9,377.7 2695.2,380.1 2691.6,382.9 2688.1,386 2684.8,389.4 2681.5,393.1 2678.4,397.1 2675.4,401.4 2672.6,406.1 2669.8,411 2667.1,416.3 2664.6,421.9 2662.1,427.8 2659.8,434 2657.6,440.6 2655.4,447.6 2653.4,455 2651.5,462.7 2649.7,470.9 2648,479.5 2646.4,488.4 2644.8,497.8 2643.4,507.6 2642,517.9 2640.8,528.5 2639.6,539.7 2638.6,551.2 2637.6,563.2 2636.7,575.8 2636,588.8 2635.3,602.4 2634.7,616.6 2634.2,631.7 2633.9,647.7 2633.6,665.3 2633.5,685.4 2633.4,715.2 2633.5,742.5 2633.6,761.7 2633.9,778.9 2634.3,794.9 2634.8,810.1 2635.4,824.6 2636.1,838.7 2636.9,852.3 2637.8,865.4 2638.8,878.2 2639.8,890.6 2641,902.6 2642.3,914.2 2643.7,925.5 2645.1,936.4 2646.7,946.9 2648.4,957 2650.1,966.8 2651.9,976.2 2653.9,985.2 2655.9,993.9 2658.1,1002.3 2660.4,1010.2 2662.8,1017.9 2665.3,1025.2 2667.9,1032.3 2670.6,1039.1 2673.4,1045.6 2676.3,1051.8 2679.4,1057.8 2682.6,1063.6 2685.9,1069.1 2689.3,1074.3 2692.8,1079.4 2696.5,1084.2 2700.3,1088.8 2704.2,1093.2 2708.3,1097.4 2712.6,1101.4 2717,1105.2 2721.6,1108.9 2726.4,1112.3 2731.4,1115.4 2736.8,1118.4 2742.5,1121.3 2748.9,1124 2756.2,1126.7 2767.3,1130.3" fill="#004f47"/>
<polygon points="2767.3,399.6 2757.9,397.1 2751.4,395.7 2745.8,394.8 2740.6,394.3 2735.7,394.3 2731.1,394.5 2726.7,395.1 2722.5,396.1 2718.4,397.4 2714.5,399 2710.7,400.9 2707.1,403.1 2703.6,405.7 2700.1,408.5 2696.8,411.7 2693.6,415.2 2690.5,419 2687.5,423.1 2684.6,427.5 2681.8,432.1 2679.1,437.1 2676.5,442.4 2674,448 2671.6,454 2669.3,460.2 2667.1,466.7 2665,473.6 2663,480.8 2661.1,488.4 2659.2,496.3 2657.5,504.6 2655.9,513.2 2654.4,522.2 2652.9,531.5 2651.6,541.2 2650.3,551.2 2649.2,561.6 2648.1,572.4 2647.2,583.6 2646.3,595.2 2645.5,607.2 2644.9,619.7 2644.3,632.7 2643.8,646.3 2643.5,660.8 2643.2,676.3 2643.1,693.8 2643,717.9 2643.1,740.9 2643.2,758 2643.5,773.4 2643.8,787.8 2644.3,801.6 2644.9,814.8 2645.6,827.7 2646.4,840.1 2647.2,852.2 2648.2,863.9 2649.3,875.3 2650.5,886.5 2651.8,897.3 2653.1,907.8 2654.6,918.1 2656.1,928 2657.8,937.6 2659.5,947 2661.4,956 2663.3,964.7 2665.4,973.2 2667.5,981.3 2669.7,989.2 2672.1,996.8 2674.5,1004.1 2677.1,1011.1 2679.7,1017.9 2682.4,1024.4 2685.3,1030.7 2688.2,1036.7 2691.2,1042.5 2694.4,1048 2697.6,1053.3 2700.9,1058.4 2704.4,1063.2 2707.9,1067.8 2711.6,1072.2 2715.4,1076.3 2719.3,1080.2 2723.4,1083.9 2727.6,1087.4 2731.9,1090.6 2736.5,1093.6 2741.3,1096.3 2746.5,1098.9 2752,1101.3 2758.3,1103.7 2767.3,1106.5" fill="#004f3c"/>
<polygon points="2767.3,423.7 2759.9,421.7 2754.4,420.6 2749.4,419.9 2744.8,419.6 2740.5,419.7 2736.3,420 2732.3,420.7 2728.4,421.7 2724.7,423.1 2721.1,424.7 2717.6,426.7 2714.2,428.9 2710.8,431.5 2707.6,434.3 2704.5,437.5 2701.5,440.9 2698.5,444.7 2695.7,448.7 2692.9,453 2690.3,457.6 2687.7,462.5 2685.2,467.7 2682.8,473.2 2680.4,478.9 2678.2,485 2676.1,491.4 2674.1,498 2672.1,505 2670.3,512.3 2668.5,519.9 2666.9,527.9 2665.3,536.2 2663.8,544.7 2662.4,553.6 2661.1,562.8 2659.9,572.4 2658.7,582.2 2657.7,592.4 2656.8,602.8 2655.9,613.6 2655.2,624.7 2654.5,636.1 2654,648 2653.5,660.3 2653.2,673.1 2652.9,686.8 2652.8,701.6 2652.7,720.7 2652.8,738.6 2652.9,753.1 2653.2,766.5 2653.5,779.4 2654,791.7 2654.6,803.8 2655.2,815.5 2656,827 2656.9,838.3 2657.8,849.2 2658.9,860 2660,870.5 2661.3,880.8 2662.6,890.8 2664,900.5 2665.5,910 2667.1,919.3 2668.8,928.3 2670.6,937 2672.5,945.4 2674.5,953.6 2676.5,961.5 2678.7,969.2 2680.9,976.6 2683.3,983.7 2685.7,990.7 2688.3,997.3 2690.9,1003.8 2693.6,1010 2696.4,1016 2699.3,1021.7 2702.2,1027.2 2705.3,1032.4 2708.4,1037.4 2711.7,1042.2 2715,1046.7 2718.4,1050.9 2721.9,1054.9 2725.5,1058.6 2729.3,1062.1 2733.1,1065.3 2737.1,1068.3 2741.2,1071.1 2745.6,1073.6 2750.1,1075.9 2754.9,1077.9 2760.3,1079.9 2767.3,1082" fill="#004f2f"/>
<polygon points="2767.3,447.7 2761.2,446.1 2756.5,445.2 2752.1,444.7 2748.1,444.5 2744.2,444.6 2740.4,445 2736.8,445.8 2733.3,446.8 2729.8,448.1 2726.5,449.8 2723.3,451.7 2720.1,453.9 2717.1,456.4 2714.1,459.2 2711.2,462.2 2708.4,465.6 2705.6,469.2 2703,473.1 2700.4,477.2 2697.9,481.7 2695.4,486.4 2693.1,491.4 2690.8,496.6 2688.6,502.1 2686.5,507.9 2684.5,513.9 2682.6,520.3 2680.8,526.9 2679,533.9 2677.4,541.1 2675.8,548.6 2674.3,556.5 2672.9,564.6 2671.5,572.9 2670.3,581.6 2669.1,590.5 2668.1,599.7 2667.1,609.2 2666.2,618.9 2665.4,628.8 2664.7,639 2664,649.5 2663.5,660.3 2663.1,671.4 2662.7,682.9 2662.5,694.9 2662.3,707.8 2662.3,723.4 2662.3,738 2662.5,750.5 2662.7,762.3 2663.1,773.8 2663.5,785 2664.1,795.9 2664.7,806.7 2665.5,817.2 2666.3,827.6 2667.2,837.8 2668.2,847.8 2669.3,857.7 2670.5,867.3 2671.7,876.7 2673.1,885.9 2674.5,894.9 2676,903.6 2677.7,912.1 2679.3,920.4 2681.1,928.4 2683,936.2 2684.9,943.7 2687,951 2689.1,958 2691.3,964.9 2693.6,971.5 2696,977.9 2698.5,984.1 2701,990 2703.6,995.7 2706.3,1001.2 2709.1,1006.4 2711.9,1011.5 2714.9,1016.2 2717.9,1020.8 2720.9,1025.1 2724.1,1029.1 2727.3,1032.9 2730.7,1036.5 2734.1,1039.8 2737.6,1042.8 2741.2,1045.6 2744.9,1048.2 2748.7,1050.5 2752.8,1052.6 2757,1054.5 2761.6,1056.2 2767.3,1058" fill="#004f1f"/>
<polygon points="2767.3,472 2762.4,470.7 2758.3,470 2754.5,469.6 2750.8,469.4 2747.3,469.6 2743.9,470.1 2740.6,470.9 2737.4,471.9 2734.3,473.2 2731.2,474.8 2728.2,476.7 2725.3,478.9 2722.5,481.3 2719.7,483.9 2717,486.9 2714.3,490.1 2711.7,493.6 2709.2,497.3 2706.8,501.3 2704.4,505.5 2702.1,510 2699.9,514.7 2697.8,519.7 2695.7,524.9 2693.7,530.4 2691.8,536.1 2689.9,542.1 2688.2,548.4 2686.5,555 2684.9,561.8 2683.4,568.8 2682,576.2 2680.6,583.7 2679.4,591.6 2678.2,599.6 2677.1,607.9 2676.1,616.4 2675.1,625.1 2674.2,634 2673.5,643.2 2672.8,652.5 2672.2,661.9 2671.7,671.6 2671.3,681.5 2670.9,691.7 2670.7,702.2 2670.5,713.2 2670.5,725.7 2670.5,738.2 2670.7,749.2 2670.9,759.7 2671.3,769.9 2671.7,779.9 2672.2,789.8 2672.8,799.4 2673.5,808.9 2674.3,818.3 2675.1,827.5 2676.1,836.5 2677.1,845.4 2678.3,854.2 2679.5,862.8 2680.8,871.2 2682.2,879.4 2683.6,887.5 2685.2,895.3 2686.8,903 2688.5,910.5 2690.3,917.7 2692.2,924.8 2694.1,931.7 2696.2,938.3 2698.3,944.8 2700.5,951.1 2702.7,957.1 2705,963 2707.4,968.6 2709.9,974 2712.4,979.2 2715,984.2 2717.7,989 2720.4,993.5 2723.2,997.8 2726.1,1001.9 2729,1005.7 2732,1009.3 2735.1,1012.7 2738.2,1015.8 2741.4,1018.7 2744.7,1021.3 2748,1023.7 2751.5,1025.9 2755,1027.8 2758.7,1029.6 2762.7,1031.1 2767.3,1032.5" fill="#004a00"/>
<polygon points="2767.3,495.5 2763.4,494.5 2759.9,493.9 2756.6,493.6 2753.5,493.6 2750.4,493.9 2747.4,494.4 2744.4,495.2 2741.5,496.2 2738.7,497.5 2735.9,499.1 2733.2,500.9 2730.6,503 2727.9,505.4 2725.4,507.9 2722.9,510.8 2720.4,513.8 2718.1,517.2 2715.7,520.7 2713.5,524.5 2711.3,528.6 2709.1,532.8 2707,537.3 2705,542 2703.1,547 2701.2,552.1 2699.4,557.5 2697.7,563.2 2696,569 2694.4,575.1 2692.9,581.4 2691.5,587.9 2690.1,594.6 2688.9,601.5 2687.7,608.7 2686.5,616 2685.5,623.5 2684.5,631.1 2683.6,639 2682.8,647 2682.1,655.2 2681.4,663.5 2680.9,672 2680.4,680.7 2680,689.5 2679.7,698.6 2679.5,707.8 2679.3,717.5 2679.3,728.2 2679.3,738.9 2679.5,748.6 2679.7,758 2680,767.1 2680.4,776.2 2680.9,785.1 2681.4,793.9 2682.1,802.5 2682.8,811.1 2683.6,819.6 2684.5,827.9 2685.5,836.1 2686.5,844.2 2687.7,852.1 2688.9,859.9 2690.1,867.5 2691.5,875 2692.9,882.3 2694.4,889.4 2696,896.3 2697.7,903.1 2699.4,909.7 2701.2,916.1 2703.1,922.3 2705,928.3 2707,934.2 2709.1,939.8 2711.3,945.3 2713.5,950.5 2715.7,955.6 2718.1,960.5 2720.4,965.1 2722.9,969.6 2725.4,973.8 2727.9,977.8 2730.6,981.6 2733.2,985.2 2735.9,988.5 2738.7,991.7 2741.5,994.6 2744.4,997.2 2747.4,999.7 2750.4,1001.9 2753.5,1003.9 2756.6,1005.7 2759.9,1007.2 2763.4,1008.6 2767.3,1009.8" fill="#1f4f00"/>
<polygon points="2767.3,520 2764,519.2 2760.9,518.7 2758,518.4 2755.2,518.4 2752.4,518.7 2749.7,519.2 2747,520 2744.4,520.9 2741.8,522.2 2739.3,523.6 2736.8,525.3 2734.4,527.3 2732,529.4 2729.6,531.8 2727.3,534.4 2725.1,537.3 2722.9,540.3 2720.7,543.6 2718.6,547.1 2716.6,550.8 2714.6,554.8 2712.7,558.9 2710.8,563.2 2709,567.8 2707.2,572.5 2705.6,577.5 2704,582.6 2702.4,588 2700.9,593.5 2699.5,599.3 2698.2,605.2 2696.9,611.3 2695.7,617.7 2694.6,624.1 2693.6,630.8 2692.6,637.6 2691.7,644.5 2690.8,651.6 2690.1,658.9 2689.4,666.2 2688.8,673.7 2688.3,681.3 2687.8,689 2687.5,696.9 2687.2,704.8 2687,713 2686.8,721.3 2686.8,730.3 2686.8,739.2 2687,747.6 2687.2,755.8 2687.5,763.9 2687.8,771.9 2688.3,779.8 2688.8,787.7 2689.4,795.5 2690.1,803.2 2690.8,810.8 2691.7,818.3 2692.6,825.8 2693.6,833.1 2694.6,840.3 2695.7,847.3 2696.9,854.3 2698.2,861.1 2699.5,867.8 2700.9,874.3 2702.4,880.6 2704,886.8 2705.6,892.8 2707.2,898.7 2709,904.4 2710.8,909.9 2712.7,915.3 2714.6,920.5 2716.6,925.5 2718.6,930.3 2720.7,935 2722.9,939.5 2725.1,943.8 2727.3,947.9 2729.6,951.8 2732,955.5 2734.4,959 2736.8,962.3 2739.3,965.3 2741.8,968.2 2744.4,970.9 2747,973.3 2749.7,975.6 2752.4,977.6 2755.2,979.4 2758,981 2760.9,982.4 2764,983.6 2767.3,984.7" fill="#2f4f00"/>
<polygon points="2767.3,543.5 2764.3,542.7 2761.5,542.3 2758.9,542.1 2756.3,542.1 2753.8,542.3 2751.3,542.7 2748.9,543.4 2746.5,544.3 2744.2,545.4 2741.9,546.7 2739.6,548.2 2737.4,550 2735.3,551.9 2733.1,554 2731,556.4 2729,558.9 2727,561.7 2725,564.6 2723.1,567.8 2721.3,571.1 2719.5,574.6 2717.7,578.4 2716.1,582.2 2714.4,586.3 2712.8,590.6 2711.3,595 2709.9,599.7 2708.5,604.5 2707.1,609.5 2705.9,614.6 2704.6,620 2703.5,625.5 2702.4,631.1 2701.4,637 2700.4,642.9 2699.5,649.1 2698.7,655.3 2698,661.7 2697.3,668.2 2696.7,674.8 2696.1,681.5 2695.6,688.4 2695.2,695.3 2694.9,702.4 2694.6,709.5 2694.4,716.8 2694.3,724.4 2694.3,732.4 2694.3,740.5 2694.4,748 2694.6,755.4 2694.9,762.7 2695.2,770 2695.6,777.1 2696.1,784.2 2696.7,791.2 2697.3,798.2 2698,805 2698.7,811.8 2699.5,818.5 2700.4,825.1 2701.4,831.6 2702.4,838 2703.5,844.3 2704.6,850.4 2705.9,856.4 2707.1,862.3 2708.5,868 2709.9,873.6 2711.3,879.1 2712.8,884.3 2714.4,889.5 2716.1,894.5 2717.7,899.3 2719.5,904 2721.3,908.5 2723.1,912.9 2725,917.1 2727,921.2 2729,925 2731,928.7 2733.1,932.2 2735.3,935.6 2737.4,938.7 2739.6,941.7 2741.9,944.5 2744.2,947.1 2746.5,949.5 2748.9,951.7 2751.3,953.8 2753.8,955.6 2756.3,957.2 2758.9,958.7 2761.5,960 2764.3,961 2767.3,962" fill="#3c4f00"/>
<polygon points="2767.3,565.6 2764.8,565 2762.4,564.6 2760.1,564.4 2757.9,564.5 2755.6,564.7 2753.5,565.1 2751.3,565.8 2749.2,566.6 2747.1,567.6 2745,568.8 2743,570.2 2741,571.8 2739.1,573.6 2737.1,575.5 2735.2,577.7 2733.4,580 2731.6,582.5 2729.8,585.2 2728.1,588.1 2726.4,591.1 2724.8,594.4 2723.2,597.7 2721.6,601.3 2720.1,605 2718.7,608.9 2717.3,612.9 2716,617.1 2714.7,621.4 2713.5,626 2712.3,630.6 2711.2,635.5 2710.1,640.4 2709.2,645.5 2708.2,650.8 2707.3,656.1 2706.5,661.6 2705.8,667.2 2705.1,672.9 2704.4,678.7 2703.9,684.6 2703.4,690.5 2702.9,696.6 2702.6,702.7 2702.2,708.9 2702,715.1 2701.8,721.4 2701.7,727.8 2701.7,734.5 2701.7,741.2 2701.8,747.7 2702,754.1 2702.2,760.5 2702.6,766.9 2702.9,773.2 2703.4,779.5 2703.9,785.8 2704.4,792 2705.1,798.2 2705.8,804.3 2706.5,810.3 2707.3,816.3 2708.2,822.2 2709.2,828 2710.1,833.7 2711.2,839.2 2712.3,844.7 2713.5,850 2714.7,855.3 2716,860.4 2717.3,865.3 2718.7,870.2 2720.1,874.8 2721.6,879.4 2723.2,883.8 2724.8,888.1 2726.4,892.3 2728.1,896.3 2729.8,900.1 2731.6,903.8 2733.4,907.4 2735.2,910.8 2737.1,914 2739.1,917 2741,919.9 2743,922.7 2745,925.2 2747.1,927.6 2749.2,929.8 2751.3,931.8 2753.5,933.7 2755.6,935.3 2757.9,936.8 2760.1,938.1 2762.4,939.2 2764.8,940.2 2767.3,941" fill="#474f00"/>
<polygon points="2767.3,588.2 2765.1,587.7 2763,587.3 2761,587.2 2759,587.2 2757,587.4 2755.1,587.8 2753.2,588.3 2751.3,589.1 2749.5,589.9 2747.7,591 2745.9,592.2 2744.1,593.6 2742.4,595.2 2740.7,596.9 2739.1,598.8 2737.4,600.9 2735.8,603.1 2734.3,605.5 2732.8,608 2731.3,610.6 2729.8,613.5 2728.4,616.4 2727.1,619.6 2725.7,622.8 2724.5,626.2 2723.3,629.8 2722.1,633.5 2721,637.3 2719.9,641.3 2718.8,645.4 2717.9,649.6 2716.9,654 2716.1,658.5 2715.2,663.1 2714.5,667.8 2713.7,672.6 2713.1,677.5 2712.5,682.5 2711.9,687.6 2711.4,692.8 2711,698 2710.6,703.4 2710.3,708.7 2710,714.2 2709.8,719.6 2709.6,725.2 2709.5,730.8 2709.5,736.7 2709.5,742.6 2709.6,748.3 2709.8,753.9 2710,759.6 2710.3,765.2 2710.6,770.7 2711,776.3 2711.4,781.8 2711.9,787.3 2712.5,792.7 2713.1,798 2713.7,803.4 2714.5,808.6 2715.2,813.8 2716.1,818.8 2716.9,823.8 2717.9,828.7 2718.8,833.5 2719.9,838.2 2721,842.8 2722.1,847.3 2723.3,851.7 2724.5,855.9 2725.7,860 2727.1,864 2728.4,867.9 2729.8,871.7 2731.3,875.4 2732.8,878.9 2734.3,882.3 2735.8,885.5 2737.4,888.6 2739.1,891.6 2740.7,894.4 2742.4,897.1 2744.1,899.7 2745.9,902.1 2747.7,904.3 2749.5,906.4 2751.3,908.3 2753.2,910.1 2755.1,911.7 2757,913.2 2759,914.5 2761,915.7 2763,916.6 2765.1,917.5 2767.3,918.2" fill="#4f4c00"/>
<polygon points="2767.3,611 2765.6,610.6 2763.9,610.3 2762.2,610.2 2760.6,610.3 2759,610.5 2757.4,610.9 2755.8,611.4 2754.2,612 2752.6,612.8 2751.1,613.8 2749.6,614.9 2748.1,616.1 2746.6,617.5 2745.2,619.1 2743.8,620.7 2742.4,622.6 2741,624.5 2739.7,626.6 2738.4,628.8 2737.1,631.2 2735.9,633.7 2734.7,636.3 2733.5,639 2732.4,641.9 2731.3,644.9 2730.2,648 2729.2,651.2 2728.2,654.6 2727.3,658 2726.4,661.6 2725.6,665.3 2724.8,669.1 2724,673 2723.3,677 2722.6,681.1 2722,685.2 2721.4,689.5 2720.9,693.8 2720.4,698.2 2720,702.6 2719.6,707.1 2719.2,711.6 2719,716.1 2718.7,720.7 2718.5,725.3 2718.4,729.9 2718.3,734.5 2718.3,739.2 2718.3,743.8 2718.4,748.4 2718.5,753.1 2718.7,757.7 2719,762.4 2719.2,767.1 2719.6,771.7 2720,776.4 2720.4,781 2720.9,785.6 2721.4,790.2 2722,794.7 2722.6,799.2 2723.3,803.6 2724,808 2724.8,812.3 2725.6,816.5 2726.4,820.6 2727.3,824.6 2728.2,828.6 2729.2,832.5 2730.2,836.2 2731.3,839.9 2732.4,843.5 2733.5,846.9 2734.7,850.3 2735.9,853.6 2737.1,856.7 2738.4,859.8 2739.7,862.7 2741,865.5 2742.4,868.3 2743.8,870.8 2745.2,873.3 2746.6,875.6 2748.1,877.8 2749.6,879.9 2751.1,881.8 2752.6,883.7 2754.2,885.3 2755.8,886.9 2757.4,888.3 2759,889.5 2760.6,890.6 2762.2,891.6 2763.9,892.4 2765.6,893.1 2767.3,893.7" fill="#4f3e00"/>
<polygon points="2767.3,635.5 2765.8,635.1 2764.4,634.9 2763,634.8 2761.7,634.9 2760.3,635.1 2759,635.4 2757.6,635.8 2756.3,636.3 2755,637 2753.7,637.8 2752.4,638.7 2751.2,639.7 2750,640.8 2748.8,642.1 2747.6,643.5 2746.4,645 2745.3,646.6 2744.1,648.3 2743,650.2 2742,652.1 2740.9,654.2 2739.9,656.3 2738.9,658.6 2738,660.9 2737.1,663.4 2736.2,666 2735.3,668.6 2734.5,671.4 2733.7,674.3 2733,677.2 2732.3,680.3 2731.6,683.4 2731,686.7 2730.4,690 2729.8,693.3 2729.3,696.8 2728.8,700.3 2728.4,703.9 2728,707.5 2727.6,711.1 2727.3,714.8 2727,718.6 2726.7,722.3 2726.6,726.1 2726.4,729.9 2726.3,733.7 2726.2,737.6 2726.2,741.4 2726.2,745.3 2726.3,749.2 2726.4,753 2726.6,757 2726.7,760.9 2727,764.8 2727.3,768.7 2727.6,772.6 2728,776.5 2728.4,780.3 2728.8,784.1 2729.3,787.9 2729.8,791.7 2730.4,795.4 2731,799 2731.6,802.6 2732.3,806.2 2733,809.6 2733.7,813 2734.5,816.3 2735.3,819.6 2736.2,822.7 2737.1,825.8 2738,828.8 2738.9,831.7 2739.9,834.5 2740.9,837.3 2742,839.9 2743,842.5 2744.1,844.9 2745.3,847.3 2746.4,849.6 2747.6,851.7 2748.8,853.8 2750,855.7 2751.2,857.6 2752.4,859.3 2753.7,861 2755,862.5 2756.3,863.9 2757.6,865.2 2759,866.3 2760.3,867.4 2761.7,868.3 2763,869.1 2764.4,869.8 2765.8,870.4 2767.3,870.9" fill="#4f2f00"/>
<polygon points="2767.3,660 2766.2,659.8 2765.2,659.6 2764.1,659.6 2763.1,659.6 2762,659.8 2761,660 2759.9,660.4 2758.9,660.8 2757.9,661.4 2756.9,662 2755.9,662.7 2754.9,663.6 2753.9,664.5 2753,665.5 2752,666.7 2751.1,667.9 2750.2,669.2 2749.3,670.6 2748.4,672.1 2747.6,673.7 2746.7,675.3 2745.9,677.1 2745.2,678.9 2744.4,680.8 2743.7,682.8 2742.9,684.8 2742.3,686.9 2741.6,689.1 2741,691.4 2740.4,693.7 2739.8,696.1 2739.2,698.6 2738.7,701.1 2738.2,703.7 2737.8,706.3 2737.4,709 2737,711.7 2736.6,714.5 2736.3,717.3 2736,720.1 2735.7,723 2735.5,725.9 2735.3,728.8 2735.2,731.8 2735.1,734.8 2735,737.8 2734.9,740.8 2734.9,743.9 2734.9,746.9 2735,749.9 2735.1,752.9 2735.2,755.9 2735.3,758.9 2735.5,761.9 2735.7,764.9 2736,767.9 2736.3,770.8 2736.6,773.8 2737,776.7 2737.4,779.6 2737.8,782.5 2738.2,785.3 2738.7,788.1 2739.2,790.9 2739.8,793.6 2740.4,796.3 2741,798.9 2741.6,801.5 2742.3,804 2742.9,806.5 2743.7,808.9 2744.4,811.3 2745.2,813.6 2745.9,815.8 2746.7,818 2747.6,820.1 2748.4,822.1 2749.3,824.1 2750.2,826 2751.1,827.8 2752,829.5 2753,831.1 2753.9,832.7 2754.9,834.1 2755.9,835.5 2756.9,836.8 2757.9,838 2758.9,839.1 2759.9,840.1 2761,841.1 2762,841.9 2763.1,842.6 2764.1,843.3 2765.2,843.8 2766.2,844.3 2767.3,844.6" fill="#4f1f00"/>
<polygon points="2767.3,690.6 2766.6,690.4 2765.9,690.3 2765.2,690.3 2764.4,690.3 2763.7,690.4 2763,690.6 2762.3,690.8 2761.6,691.1 2760.9,691.5 2760.3,691.9 2759.6,692.4 2758.9,693 2758.3,693.6 2757.6,694.3 2757,695.1 2756.4,695.9 2755.7,696.7 2755.1,697.7 2754.5,698.7 2754,699.7 2753.4,700.8 2752.9,702 2752.3,703.2 2751.8,704.5 2751.3,705.8 2750.8,707.2 2750.4,708.6 2749.9,710.1 2749.5,711.6 2749.1,713.2 2748.7,714.8 2748.3,716.5 2748,718.1 2747.7,719.9 2747.4,721.6 2747.1,723.4 2746.8,725.2 2746.6,727.1 2746.3,729 2746.1,730.9 2746,732.8 2745.8,734.8 2745.7,736.7 2745.6,738.7 2745.5,740.7 2745.4,742.8 2745.4,744.8 2745.4,746.8 2745.4,748.9 2745.4,751 2745.5,753.1 2745.6,755.2 2745.7,757.3 2745.8,759.4 2746,761.4 2746.1,763.5 2746.3,765.6 2746.6,767.6 2746.8,769.6 2747.1,771.6 2747.4,773.6 2747.7,775.6 2748,777.5 2748.3,779.5 2748.7,781.3 2749.1,783.2 2749.5,785 2749.9,786.8 2750.4,788.6 2750.8,790.3 2751.3,792 2751.8,793.6 2752.3,795.2 2752.9,796.7 2753.4,798.2 2754,799.7 2754.5,801.1 2755.1,802.5 2755.7,803.7 2756.4,805 2757,806.2 2757.6,807.3 2758.3,808.4 2758.9,809.4 2759.6,810.3 2760.3,811.2 2760.9,812.1 2761.6,812.8 2762.3,813.5 2763,814.2 2763.7,814.7 2764.4,815.2 2765.2,815.7 2765.9,816.1 2766.6,816.4 2767.3,816.6" fill="#4f0c00"/>
<polyline points="2767.3,291.3 2728.8,280.6 2714.7,276.9 2704,274.4 2694.9,272.6 2686.8,271.3 2679.5,270.3 2672.8,269.7 2666.5,269.4 2660.7,269.4 2655.3,269.6 2650.3,270 2645.6,270.7 2641.3,271.6 2637.2,272.7 2633.5,274.1 2630.1,275.6 2627,277.4 2624.1,279.5 2621.4,281.8 2619,284.3 2616.7,287.2 2614.6,290.3 2612.7,293.8 2610.9,297.6 2609.3,301.8 2607.8,306.3 2606.3,311.3 2605,316.7 2603.7,322.5 2602.5,328.8 2601.4,335.7 2600.4,343.1 2599.4,351.2 2598.5,359.9 2597.6,369.2 2596.8,379.3 2596,390.2 2595.3,401.9 2594.7,414.6 2594.1,428.3 2593.6,443.1 2593.1,459.2 2592.7,477 2592.4,497 2592.1,520 2591.9,547.9 2591.8,585.8 2591.8,703.5 2591.8,828.1 2591.9,866.2 2592.1,893.8 2592.4,916.1 2592.7,935.3 2593.1,952.2 2593.6,967.5 2594.1,981.4 2594.7,994.3 2595.4,1006.2 2596.1,1017.4 2597,1027.9 2597.9,1037.8 2598.8,1047.1 2599.9,1055.9 2601,1064.2 2602.2,1072.1 2603.5,1079.6 2604.8,1086.7 2606.3,1093.5 2607.8,1100 2609.4,1106.1 2611.1,1112 2612.9,1117.6 2614.9,1122.9 2617,1127.9 2619.2,1132.7 2621.7,1137.2 2624.3,1141.4 2627.2,1145.4 2630.2,1149.1 2633.6,1152.6 2637.2,1155.9 2641,1159.1 2645.2,1162.1 2649.7,1164.9 2654.5,1167.7 2659.6,1170.4 2665.2,1173.2 2671.1,1176 2677.4,1178.9 2684.1,1182 2691.5,1185.4 2699.5,1189.3 2708.5,1193.5 2719.1,1198.1 2732.8,1203.7 2767.3,1217" fill="none" stroke="#0047ff" stroke-width="2.9"/>
<polyline points="2767.3,310.5 2739,302.6 2726.9,299.6 2717.5,297.5 2709.5,296.1 2702.4,295.2 2695.9,294.7 2689.9,294.5 2684.4,294.7 2679.2,295.3 2674.3,296.1 2669.7,297.2 2665.4,298.6 2661.3,300.3 2657.4,302.3 2653.7,304.5 2650.3,307 2647,309.8 2643.9,312.9 2640.9,316.3 2638.2,320 2635.6,324 2633.1,328.3 2630.8,333 2628.6,338 2626.5,343.3 2624.5,349.1 2622.7,355.2 2620.9,361.7 2619.3,368.7 2617.7,376 2616.2,383.9 2614.8,392.2 2613.5,401.1 2612.3,410.4 2611.2,420.4 2610.1,430.9 2609.2,442.1 2608.3,454 2607.5,466.7 2606.8,480.3 2606.1,494.8 2605.6,510.5 2605.1,527.6 2604.7,546.6 2604.4,568.1 2604.2,593.7 2604,626.9 2604,706.9 2604,773.3 2604.2,804.7 2604.4,829.6 2604.8,851.2 2605.2,870.5 2605.7,888.3 2606.3,904.8 2607.1,920.3 2607.8,935 2608.7,948.9 2609.7,962 2610.8,974.6 2611.9,986.5 2613.1,997.8 2614.4,1008.7 2615.8,1019 2617.3,1028.8 2618.9,1038.1 2620.6,1047 2622.4,1055.5 2624.3,1063.6 2626.2,1071.3 2628.4,1078.7 2630.6,1085.7 2632.9,1092.4 2635.4,1098.7 2638,1104.7 2640.8,1110.4 2643.6,1115.8 2646.6,1120.9 2649.8,1125.8 2653.1,1130.3 2656.6,1134.7 2660.3,1138.8 2664.1,1142.8 2668.2,1146.5 2672.4,1150.1 2676.9,1153.6 2681.7,1157 2686.8,1160.3 2692.2,1163.7 2698,1167.1 2704.3,1170.6 2711.3,1174.2 2719.1,1177.9 2728.4,1181.9 2740.3,1186.6 2767.3,1196.5" fill="none" stroke="#007dff" stroke-width="2.9"/>
<polyline points="2767.3,331 2747.9,325.7 2737.8,323.2 2729.6,321.6 2722.4,320.5 2715.9,319.9 2709.9,319.7 2704.3,319.9 2699,320.4 2694,321.3 2689.3,322.6 2684.8,324.1 2680.5,326 2676.4,328.2 2672.5,330.7 2668.8,333.5 2665.2,336.7 2661.8,340.1 2658.5,343.9 2655.3,348 2652.4,352.4 2649.5,357.2 2646.8,362.2 2644.2,367.6 2641.7,373.4 2639.3,379.6 2637.1,386.1 2635,393.1 2633,400.5 2631.1,408.4 2629.3,416.8 2627.7,425.7 2626.1,435 2624.6,445 2623.2,455.4 2621.8,466.4 2620.6,478 2619.5,490.1 2618.4,502.9 2617.5,516.3 2616.6,530.4 2615.9,545.2 2615.2,560.9 2614.6,577.5 2614.1,595.4 2613.8,614.9 2613.5,636.8 2613.4,663.1 2613.3,709.6 2613.4,752.8 2613.5,778.3 2613.8,799.9 2614.2,819.3 2614.7,837.3 2615.3,854.3 2615.9,870.3 2616.7,885.7 2617.6,900.3 2618.6,914.4 2619.7,927.9 2620.9,940.9 2622.1,953.4 2623.5,965.3 2624.9,976.7 2626.4,987.7 2628.1,998.2 2629.8,1008.2 2631.6,1017.8 2633.6,1026.9 2635.6,1035.7 2637.8,1044 2640.1,1052 2642.5,1059.5 2645,1066.7 2647.7,1073.6 2650.5,1080.2 2653.4,1086.4 2656.4,1092.4 2659.6,1098 2663,1103.5 2666.4,1108.6 2670.1,1113.6 2673.9,1118.3 2677.9,1122.8 2682,1127.2 2686.4,1131.3 2690.9,1135.4 2695.7,1139.3 2700.7,1143.2 2706,1147 2711.6,1150.7 2717.6,1154.3 2724,1157.8 2731.2,1161.2 2739.3,1164.6 2749.1,1168.4 2767.3,1174.8" fill="none" stroke="#00afff" stroke-width="2.9"/>
<polyline points="2767.3,353.9 2752.6,349.9 2744,347.9 2736.7,346.6 2730.3,345.7 2724.3,345.3 2718.8,345.3 2713.5,345.7 2708.6,346.4 2703.9,347.4 2699.3,348.8 2695,350.5 2690.9,352.5 2686.9,354.9 2683.1,357.5 2679.4,360.5 2675.9,363.8 2672.5,367.4 2669.3,371.3 2666.2,375.5 2663.2,380 2660.3,384.9 2657.6,390.1 2655,395.6 2652.6,401.5 2650.2,407.7 2647.9,414.4 2645.8,421.4 2643.8,428.8 2641.9,436.7 2640.1,445 2638.3,453.7 2636.7,462.8 2635.2,472.5 2633.8,482.6 2632.4,493.2 2631.2,504.2 2630,515.8 2629,527.9 2628,540.6 2627.1,553.8 2626.4,567.7 2625.7,582.3 2625.1,597.7 2624.6,614.1 2624.3,631.9 2624,651.6 2623.9,674.8 2623.8,712.5 2623.9,747.3 2624,769.6 2624.3,789 2624.7,806.6 2625.2,823.1 2625.8,838.8 2626.5,853.7 2627.2,868 2628.1,881.9 2629.1,895.2 2630.2,908 2631.4,920.4 2632.7,932.4 2634.1,943.9 2635.6,955 2637.1,965.7 2638.8,976 2640.6,985.9 2642.4,995.4 2644.4,1004.5 2646.5,1013.3 2648.7,1021.7 2651,1029.7 2653.4,1037.4 2655.9,1044.7 2658.6,1051.8 2661.4,1058.5 2664.3,1065 2667.3,1071.2 2670.5,1077.1 2673.8,1082.7 2677.3,1088.2 2680.8,1093.4 2684.6,1098.3 2688.4,1103.1 2692.5,1107.7 2696.7,1112.1 2701,1116.3 2705.6,1120.4 2710.4,1124.3 2715.3,1128.1 2720.5,1131.7 2726.1,1135.1 2731.9,1138.3 2738.3,1141.3 2745.4,1144.4 2753.7,1147.5 2767.3,1152" fill="none" stroke="#00ddff" stroke-width="2.9"/>
<polyline points="2767.3,376.7 2755.2,373.4 2747.5,371.7 2741.1,370.6 2735.2,369.9 2729.8,369.7 2724.7,369.8 2719.9,370.3 2715.4,371.1 2711,372.2 2706.8,373.7 2702.8,375.5 2698.9,377.7 2695.2,380.1 2691.6,382.9 2688.1,386 2684.8,389.4 2681.5,393.1 2678.4,397.1 2675.4,401.4 2672.6,406.1 2669.8,411 2667.1,416.3 2664.6,421.9 2662.1,427.8 2659.8,434 2657.6,440.6 2655.4,447.6 2653.4,455 2651.5,462.7 2649.7,470.9 2648,479.5 2646.4,488.4 2644.8,497.8 2643.4,507.6 2642,517.9 2640.8,528.5 2639.6,539.7 2638.6,551.2 2637.6,563.2 2636.7,575.8 2636,588.8 2635.3,602.4 2634.7,616.6 2634.2,631.7 2633.9,647.7 2633.6,665.3 2633.5,685.4 2633.4,715.2 2633.5,742.5 2633.6,761.7 2633.9,778.9 2634.3,794.9 2634.8,810.1 2635.4,824.6 2636.1,838.7 2636.9,852.3 2637.8,865.4 2638.8,878.2 2639.8,890.6 2641,902.6 2642.3,914.2 2643.7,925.5 2645.1,936.4 2646.7,946.9 2648.4,957 2650.1,966.8 2651.9,976.2 2653.9,985.2 2655.9,993.9 2658.1,1002.3 2660.4,1010.2 2662.8,1017.9 2665.3,1025.2 2667.9,1032.3 2670.6,1039.1 2673.4,1045.6 2676.3,1051.8 2679.4,1057.8 2682.6,1063.6 2685.9,1069.1 2689.3,1074.3 2692.8,1079.4 2696.5,1084.2 2700.3,1088.8 2704.2,1093.2 2708.3,1097.4 2712.6,1101.4 2717,1105.2 2721.6,1108.9 2726.4,1112.3 2731.4,1115.4 2736.8,1118.4 2742.5,1121.3 2748.9,1124 2756.2,1126.7 2767.3,1130.3" fill="none" stroke="#00fff7" stroke-width="2.9"/>
<polyline points="2767.3,399.6 2757.9,397.1 2751.4,395.7 2745.8,394.8 2740.6,394.3 2735.7,394.3 2731.1,394.5 2726.7,395.1 2722.5,396.1 2718.4,397.4 2714.5,399 2710.7,400.9 2707.1,403.1 2703.6,405.7 2700.1,408.5 2696.8,411.7 2693.6,415.2 2690.5,419 2687.5,423.1 2684.6,427.5 2681.8,432.1 2679.1,437.1 2676.5,442.4 2674,448 2671.6,454 2669.3,460.2 2667.1,466.7 2665,473.6 2663,480.8 2661.1,488.4 2659.2,496.3 2657.5,504.6 2655.9,513.2 2654.4,522.2 2652.9,531.5 2651.6,541.2 2650.3,551.2 2649.2,561.6 2648.1,572.4 2647.2,583.6 2646.3,595.2 2645.5,607.2 2644.9,619.7 2644.3,632.7 2643.8,646.3 2643.5,660.8 2643.2,676.3 2643.1,693.8 2643,717.9 2643.1,740.9 2643.2,758 2643.5,773.4 2643.8,787.8 2644.3,801.6 2644.9,814.8 2645.6,827.7 2646.4,840.1 2647.2,852.2 2648.2,863.9 2649.3,875.3 2650.5,886.5 2651.8,897.3 2653.1,907.8 2654.6,918.1 2656.1,928 2657.8,937.6 2659.5,947 2661.4,956 2663.3,964.7 2665.4,973.2 2667.5,981.3 2669.7,989.2 2672.1,996.8 2674.5,1004.1 2677.1,1011.1 2679.7,1017.9 2682.4,1024.4 2685.3,1030.7 2688.2,1036.7 2691.2,1042.5 2694.4,1048 2697.6,1053.3 2700.9,1058.4 2704.4,1063.2 2707.9,1067.8 2711.6,1072.2 2715.4,1076.3 2719.3,1080.2 2723.4,1083.9 2727.6,1087.4 2731.9,1090.6 2736.5,1093.6 2741.3,1096.3 2746.5,1098.9 2752,1101.3 2758.3,1103.7 2767.3,1106.5" fill="none" stroke="#00ffd4" stroke-width="2.9"/>
<polyline points="2767.3,423.7 2759.9,421.7 2754.4,420.6 2749.4,419.9 2744.8,419.6 2740.5,419.7 2736.3,420 2732.3,420.7 2728.4,421.7 2724.7,423.1 2721.1,424.7 2717.6,426.7 2714.2,428.9 2710.8,431.5 2707.6,434.3 2704.5,437.5 2701.5,440.9 2698.5,444.7 2695.7,448.7 2692.9,453 2690.3,457.6 2687.7,462.5 2685.2,467.7 2682.8,473.2 2680.4,478.9 2678.2,485 2676.1,491.4 2674.1,498 2672.1,505 2670.3,512.3 2668.5,519.9 2666.9,527.9 2665.3,536.2 2663.8,544.7 2662.4,553.6 2661.1,562.8 2659.9,572.4 2658.7,582.2 2657.7,592.4 2656.8,602.8 2655.9,613.6 2655.2,624.7 2654.5,636.1 2654,648 2653.5,660.3 2653.2,673.1 2652.9,686.8 2652.8,701.6 2652.7,720.7 2652.8,738.6 2652.9,753.1 2653.2,766.5 2653.5,779.4 2654,791.7 2654.6,803.8 2655.2,815.5 2656,827 2656.9,838.3 2657.8,849.2 2658.9,860 2660,870.5 2661.3,880.8 2662.6,890.8 2664,900.5 2665.5,910 2667.1,919.3 2668.8,928.3 2670.6,937 2672.5,945.4 2674.5,953.6 2676.5,961.5 2678.7,969.2 2680.9,976.6 2683.3,983.7 2685.7,990.7 2688.3,997.3 2690.9,1003.8 2693.6,1010 2696.4,1016 2699.3,1021.7 2702.2,1027.2 2705.3,1032.4 2708.4,1037.4 2711.7,1042.2 2715,1046.7 2718.4,1050.9 2721.9,1054.9 2725.5,1058.6 2729.3,1062.1 2733.1,1065.3 2737.1,1068.3 2741.2,1071.1 2745.6,1073.6 2750.1,1075.9 2754.9,1077.9 2760.3,1079.9 2767.3,1082" fill="none" stroke="#00ffad" stroke-width="2.9"/>
<polyline points="2767.3,447.7 2761.2,446.1 2756.5,445.2 2752.1,444.7 2748.1,444.5 2744.2,444.6 2740.4,445 2736.8,445.8 2733.3,446.8 2729.8,448.1 2726.5,449.8 2723.3,451.7 2720.1,453.9 2717.1,456.4 2714.1,459.2 2711.2,462.2 2708.4,465.6 2705.6,469.2 2703,473.1 2700.4,477.2 2697.9,481.7 2695.4,486.4 2693.1,491.4 2690.8,496.6 2688.6,502.1 2686.5,507.9 2684.5,513.9 2682.6,520.3 2680.8,526.9 2679,533.9 2677.4,541.1 2675.8,548.6 2674.3,556.5 2672.9,564.6 2671.5,572.9 2670.3,581.6 2669.1,590.5 2668.1,599.7 2667.1,609.2 2666.2,618.9 2665.4,628.8 2664.7,639 2664,649.5 2663.5,660.3 2663.1,671.4 2662.7,682.9 2662.5,694.9 2662.3,707.8 2662.3,723.4 2662.3,738 2662.5,750.5 2662.7,762.3 2663.1,773.8 2663.5,785 2664.1,795.9 2664.7,806.7 2665.5,817.2 2666.3,827.6 2667.2,837.8 2668.2,847.8 2669.3,857.7 2670.5,867.3 2671.7,876.7 2673.1,885.9 2674.5,894.9 2676,903.6 2677.7,912.1 2679.3,920.4 2681.1,928.4 2683,936.2 2684.9,943.7 2687,951 2689.1,958 2691.3,964.9 2693.6,971.5 2696,977.9 2698.5,984.1 2701,990 2703.6,995.7 2706.3,1001.2 2709.1,1006.4 2711.9,1011.5 2714.9,1016.2 2717.9,1020.8 2720.9,1025.1 2724.1,1029.1 2727.3,1032.9 2730.7,1036.5 2734.1,1039.8 2737.6,1042.8 2741.2,1045.6 2744.9,1048.2 2748.7,1050.5 2752.8,1052.6 2757,1054.5 2761.6,1056.2 2767.3,1058" fill="none" stroke="#00ff80" stroke-width="2.9"/>
<polyline points="2767.3,472 2762.4,470.7 2758.3,470 2754.5,469.6 2750.8,469.4 2747.3,469.6 2743.9,470.1 2740.6,470.9 2737.4,471.9 2734.3,473.2 2731.2,474.8 2728.2,476.7 2725.3,478.9 2722.5,481.3 2719.7,483.9 2717,486.9 2714.3,490.1 2711.7,493.6 2709.2,497.3 2706.8,501.3 2704.4,505.5 2702.1,510 2699.9,514.7 2697.8,519.7 2695.7,524.9 2693.7,530.4 2691.8,536.1 2689.9,542.1 2688.2,548.4 2686.5,555 2684.9,561.8 2683.4,568.8 2682,576.2 2680.6,583.7 2679.4,591.6 2678.2,599.6 2677.1,607.9 2676.1,616.4 2675.1,625.1 2674.2,634 2673.5,643.2 2672.8,652.5 2672.2,661.9 2671.7,671.6 2671.3,681.5 2670.9,691.7 2670.7,702.2 2670.5,713.2 2670.5,725.7 2670.5,738.2 2670.7,749.2 2670.9,759.7 2671.3,769.9 2671.7,779.9 2672.2,789.8 2672.8,799.4 2673.5,808.9 2674.3,818.3 2675.1,827.5 2676.1,836.5 2677.1,845.4 2678.3,854.2 2679.5,862.8 2680.8,871.2 2682.2,879.4 2683.6,887.5 2685.2,895.3 2686.8,903 2688.5,910.5 2690.3,917.7 2692.2,924.8 2694.1,931.7 2696.2,938.3 2698.3,944.8 2700.5,951.1 2702.7,957.1 2705,963 2707.4,968.6 2709.9,974 2712.4,979.2 2715,984.2 2717.7,989 2720.4,993.5 2723.2,997.8 2726.1,1001.9 2729,1005.7 2732,1009.3 2735.1,1012.7 2738.2,1015.8 2741.4,1018.7 2744.7,1021.3 2748,1023.7 2751.5,1025.9 2755,1027.8 2758.7,1029.6 2762.7,1031.1 2767.3,1032.5" fill="none" stroke="#00fa42" stroke-width="2.9"/>
<polyline points="2767.3,495.5 2763.4,494.5 2759.9,493.9 2756.6,493.6 2753.5,493.6 2750.4,493.9 2747.4,494.4 2744.4,495.2 2741.5,496.2 2738.7,497.5 2735.9,499.1 2733.2,500.9 2730.6,503 2727.9,505.4 2725.4,507.9 2722.9,510.8 2720.4,513.8 2718.1,517.2 2715.7,520.7 2713.5,524.5 2711.3,528.6 2709.1,532.8 2707,537.3 2705,542 2703.1,547 2701.2,552.1 2699.4,557.5 2697.7,563.2 2696,569 2694.4,575.1 2692.9,581.4 2691.5,587.9 2690.1,594.6 2688.9,601.5 2687.7,608.7 2686.5,616 2685.5,623.5 2684.5,631.1 2683.6,639 2682.8,647 2682.1,655.2 2681.4,663.5 2680.9,672 2680.4,680.7 2680,689.5 2679.7,698.6 2679.5,707.8 2679.3,717.5 2679.3,728.2 2679.3,738.9 2679.5,748.6 2679.7,758 2680,767.1 2680.4,776.2 2680.9,785.1 2681.4,793.9 2682.1,802.5 2682.8,811.1 2683.6,819.6 2684.5,827.9 2685.5,836.1 2686.5,844.2 2687.7,852.1 2688.9,859.9 2690.1,867.5 2691.5,875 2692.9,882.3 2694.4,889.4 2696,896.3 2697.7,903.1 2699.4,909.7 2701.2,916.1 2703.1,922.3 2705,928.3 2707,934.2 2709.1,939.8 2711.3,945.3 2713.5,950.5 2715.7,955.6 2718.1,960.5 2720.4,965.1 2722.9,969.6 2725.4,973.8 2727.9,977.8 2730.6,981.6 2733.2,985.2 2735.9,988.5 2738.7,991.7 2741.5,994.6 2744.4,997.2 2747.4,999.7 2750.4,1001.9 2753.5,1003.9 2756.6,1005.7 2759.9,1007.2 2763.4,1008.6 2767.3,1009.8" fill="none" stroke="#42fa00" stroke-width="2.9"/>
<polyline points="2767.3,520 2764,519.2 2760.9,518.7 2758,518.4 2755.2,518.4 2752.4,518.7 2749.7,519.2 2747,520 2744.4,520.9 2741.8,522.2 2739.3,523.6 2736.8,525.3 2734.4,527.3 2732,529.4 2729.6,531.8 2727.3,534.4 2725.1,537.3 2722.9,540.3 2720.7,543.6 2718.6,547.1 2716.6,550.8 2714.6,554.8 2712.7,558.9 2710.8,563.2 2709,567.8 2707.2,572.5 2705.6,577.5 2704,582.6 2702.4,588 2700.9,593.5 2699.5,599.3 2698.2,605.2 2696.9,611.3 2695.7,617.7 2694.6,624.1 2693.6,630.8 2692.6,637.6 2691.7,644.5 2690.8,651.6 2690.1,658.9 2689.4,666.2 2688.8,673.7 2688.3,681.3 2687.8,689 2687.5,696.9 2687.2,704.8 2687,713 2686.8,721.3 2686.8,730.3 2686.8,739.2 2687,747.6 2687.2,755.8 2687.5,763.9 2687.8,771.9 2688.3,779.8 2688.8,787.7 2689.4,795.5 2690.1,803.2 2690.8,810.8 2691.7,818.3 2692.6,825.8 2693.6,833.1 2694.6,840.3 2695.7,847.3 2696.9,854.3 2698.2,861.1 2699.5,867.8 2700.9,874.3 2702.4,880.6 2704,886.8 2705.6,892.8 2707.2,898.7 2709,904.4 2710.8,909.9 2712.7,915.3 2714.6,920.5 2716.6,925.5 2718.6,930.3 2720.7,935 2722.9,939.5 2725.1,943.8 2727.3,947.9 2729.6,951.8 2732,955.5 2734.4,959 2736.8,962.3 2739.3,965.3 2741.8,968.2 2744.4,970.9 2747,973.3 2749.7,975.6 2752.4,977.6 2755.2,979.4 2758,981 2760.9,982.4 2764,983.6 2767.3,984.7" fill="none" stroke="#80ff00" stroke-width="2.9"/>
<polyline points="2767.3,543.5 2764.3,542.7 2761.5,542.3 2758.9,542.1 2756.3,542.1 2753.8,542.3 2751.3,542.7 2748.9,543.4 2746.5,544.3 2744.2,545.4 2741.9,546.7 2739.6,548.2 2737.4,550 2735.3,551.9 2733.1,554 2731,556.4 2729,558.9 2727,561.7 2725,564.6 2723.1,567.8 2721.3,571.1 2719.5,574.6 2717.7,578.4 2716.1,582.2 2714.4,586.3 2712.8,590.6 2711.3,595 2709.9,599.7 2708.5,604.5 2707.1,609.5 2705.9,614.6 2704.6,620 2703.5,625.5 2702.4,631.1 2701.4,637 2700.4,642.9 2699.5,649.1 2698.7,655.3 2698,661.7 2697.3,668.2 2696.7,674.8 2696.1,681.5 2695.6,688.4 2695.2,695.3 2694.9,702.4 2694.6,709.5 2694.4,716.8 2694.3,724.4 2694.3,732.4 2694.3,740.5 2694.4,748 2694.6,755.4 2694.9,762.7 2695.2,770 2695.6,777.1 2696.1,784.2 2696.7,791.2 2697.3,798.2 2698,805 2698.7,811.8 2699.5,818.5 2700.4,825.1 2701.4,831.6 2702.4,838 2703.5,844.3 2704.6,850.4 2705.9,856.4 2707.1,862.3 2708.5,868 2709.9,873.6 2711.3,879.1 2712.8,884.3 2714.4,889.5 2716.1,894.5 2717.7,899.3 2719.5,904 2721.3,908.5 2723.1,912.9 2725,917.1 2727,921.2 2729,925 2731,928.7 2733.1,932.2 2735.3,935.6 2737.4,938.7 2739.6,941.7 2741.9,944.5 2744.2,947.1 2746.5,949.5 2748.9,951.7 2751.3,953.8 2753.8,955.6 2756.3,957.2 2758.9,958.7 2761.5,960 2764.3,961 2767.3,962" fill="none" stroke="#adff00" stroke-width="2.9"/>
<polyline points="2767.3,565.6 2764.8,565 2762.4,564.6 2760.1,564.4 2757.9,564.5 2755.6,564.7 2753.5,565.1 2751.3,565.8 2749.2,566.6 2747.1,567.6 2745,568.8 2743,570.2 2741,571.8 2739.1,573.6 2737.1,575.5 2735.2,577.7 2733.4,580 2731.6,582.5 2729.8,585.2 2728.1,588.1 2726.4,591.1 2724.8,594.4 2723.2,597.7 2721.6,601.3 2720.1,605 2718.7,608.9 2717.3,612.9 2716,617.1 2714.7,621.4 2713.5,626 2712.3,630.6 2711.2,635.5 2710.1,640.4 2709.2,645.5 2708.2,650.8 2707.3,656.1 2706.5,661.6 2705.8,667.2 2705.1,672.9 2704.4,678.7 2703.9,684.6 2703.4,690.5 2702.9,696.6 2702.6,702.7 2702.2,708.9 2702,715.1 2701.8,721.4 2701.7,727.8 2701.7,734.5 2701.7,741.2 2701.8,747.7 2702,754.1 2702.2,760.5 2702.6,766.9 2702.9,773.2 2703.4,779.5 2703.9,785.8 2704.4,792 2705.1,798.2 2705.8,804.3 2706.5,810.3 2707.3,816.3 2708.2,822.2 2709.2,828 2710.1,833.7 2711.2,839.2 2712.3,844.7 2713.5,850 2714.7,855.3 2716,860.4 2717.3,865.3 2718.7,870.2 2720.1,874.8 2721.6,879.4 2723.2,883.8 2724.8,888.1 2726.4,892.3 2728.1,896.3 2729.8,900.1 2731.6,903.8 2733.4,907.4 2735.2,910.8 2737.1,914 2739.1,917 2741,919.9 2743,922.7 2745,925.2 2747.1,927.6 2749.2,929.8 2751.3,931.8 2753.5,933.7 2755.6,935.3 2757.9,936.8 2760.1,938.1 2762.4,939.2 2764.8,940.2 2767.3,941" fill="none" stroke="#d4ff00" stroke-width="2.9"/>
<polyline points="2767.3,588.2 2765.1,587.7 2763,587.3 2761,587.2 2759,587.2 2757,587.4 2755.1,587.8 2753.2,588.3 2751.3,589.1 2749.5,589.9 2747.7,591 2745.9,592.2 2744.1,593.6 2742.4,595.2 2740.7,596.9 2739.1,598.8 2737.4,600.9 2735.8,603.1 2734.3,605.5 2732.8,608 2731.3,610.6 2729.8,613.5 2728.4,616.4 2727.1,619.6 2725.7,622.8 2724.5,626.2 2723.3,629.8 2722.1,633.5 2721,637.3 2719.9,641.3 2718.8,645.4 2717.9,649.6 2716.9,654 2716.1,658.5 2715.2,663.1 2714.5,667.8 2713.7,672.6 2713.1,677.5 2712.5,682.5 2711.9,687.6 2711.4,692.8 2711,698 2710.6,703.4 2710.3,708.7 2710,714.2 2709.8,719.6 2709.6,725.2 2709.5,730.8 2709.5,736.7 2709.5,742.6 2709.6,748.3 2709.8,753.9 2710,759.6 2710.3,765.2 2710.6,770.7 2711,776.3 2711.4,781.8 2711.9,787.3 2712.5,792.7 2713.1,798 2713.7,803.4 2714.5,808.6 2715.2,813.8 2716.1,818.8 2716.9,823.8 2717.9,828.7 2718.8,833.5 2719.9,838.2 2721,842.8 2722.1,847.3 2723.3,851.7 2724.5,855.9 2725.7,860 2727.1,864 2728.4,867.9 2729.8,871.7 2731.3,875.4 2732.8,878.9 2734.3,882.3 2735.8,885.5 2737.4,888.6 2739.1,891.6 2740.7,894.4 2742.4,897.1 2744.1,899.7 2745.9,902.1 2747.7,904.3 2749.5,906.4 2751.3,908.3 2753.2,910.1 2755.1,911.7 2757,913.2 2759,914.5 2761,915.7 2763,916.6 2765.1,917.5 2767.3,918.2" fill="none" stroke="#f7ff00" stroke-width="2.9"/>
<polyline points="2767.3,611 2765.6,610.6 2763.9,610.3 2762.2,610.2 2760.6,610.3 2759,610.5 2757.4,610.9 2755.8,611.4 2754.2,612 2752.6,612.8 2751.1,613.8 2749.6,614.9 2748.1,616.1 2746.6,617.5 2745.2,619.1 2743.8,620.7 2742.4,622.6 2741,624.5 2739.7,626.6 2738.4,628.8 2737.1,631.2 2735.9,633.7 2734.7,636.3 2733.5,639 2732.4,641.9 2731.3,644.9 2730.2,648 2729.2,651.2 2728.2,654.6 2727.3,658 2726.4,661.6 2725.6,665.3 2724.8,669.1 2724,673 2723.3,677 2722.6,681.1 2722,685.2 2721.4,689.5 2720.9,693.8 2720.4,698.2 2720,702.6 2719.6,707.1 2719.2,711.6 2719,716.1 2718.7,720.7 2718.5,725.3 2718.4,729.9 2718.3,734.5 2718.3,739.2 2718.3,743.8 2718.4,748.4 2718.5,753.1 2718.7,757.7 2719,762.4 2719.2,767.1 2719.6,771.7 2720,776.4 2720.4,781 2720.9,785.6 2721.4,790.2 2722,794.7 2722.6,799.2 2723.3,803.6 2724,808 2724.8,812.3 2725.6,816.5 2726.4,820.6 2727.3,824.6 2728.2,828.6 2729.2,832.5 2730.2,836.2 2731.3,839.9 2732.4,843.5 2733.5,846.9 2734.7,850.3 2735.9,853.6 2737.1,856.7 2738.4,859.8 2739.7,862.7 2741,865.5 2742.4,868.3 2743.8,870.8 2745.2,873.3 2746.6,875.6 2748.1,877.8 2749.6,879.9 2751.1,881.8 2752.6,883.7 2754.2,885.3 2755.8,886.9 2757.4,888.3 2759,889.5 2760.6,890.6 2762.2,891.6 2763.9,892.4 2765.6,893.1 2767.3,893.7" fill="none" stroke="#ffdd00" stroke-width="2.9"/>
<polyline points="2767.3,635.5 2765.8,635.1 2764.4,634.9 2763,634.8 2761.7,634.9 2760.3,635.1 2759,635.4 2757.6,635.8 2756.3,636.3 2755,637 2753.7,637.8 2752.4,638.7 2751.2,639.7 2750,640.8 2748.8,642.1 2747.6,643.5 2746.4,645 2745.3,646.6 2744.1,648.3 2743,650.2 2742,652.1 2740.9,654.2 2739.9,656.3 2738.9,658.6 2738,660.9 2737.1,663.4 2736.2,666 2735.3,668.6 2734.5,671.4 2733.7,674.3 2733,677.2 2732.3,680.3 2731.6,683.4 2731,686.7 2730.4,690 2729.8,693.3 2729.3,696.8 2728.8,700.3 2728.4,703.9 2728,707.5 2727.6,711.1 2727.3,714.8 2727,718.6 2726.7,722.3 2726.6,726.1 2726.4,729.9 2726.3,733.7 2726.2,737.6 2726.2,741.4 2726.2,745.3 2726.3,749.2 2726.4,753 2726.6,757 2726.7,760.9 2727,764.8 2727.3,768.7 2727.6,772.6 2728,776.5 2728.4,780.3 2728.8,784.1 2729.3,787.9 2729.8,791.7 2730.4,795.4 2731,799 2731.6,802.6 2732.3,806.2 2733,809.6 2733.7,813 2734.5,816.3 2735.3,819.6 2736.2,822.7 2737.1,825.8 2738,828.8 2738.9,831.7 2739.9,834.5 2740.9,837.3 2742,839.9 2743,842.5 2744.1,844.9 2745.3,847.3 2746.4,849.6 2747.6,851.7 2748.8,853.8 2750,855.7 2751.2,857.6 2752.4,859.3 2753.7,861 2755,862.5 2756.3,863.9 2757.6,865.2 2759,866.3 2760.3,867.4 2761.7,868.3 2763,869.1 2764.4,869.8 2765.8,870.4 2767.3,870.9" fill="none" stroke="#ffaf00" stroke-width="2.9"/>
<polyline points="2767.3,660 2766.2,659.8 2765.2,659.6 2764.1,659.6 2763.1,659.6 2762,659.8 2761,660 2759.9,660.4 2758.9,660.8 2757.9,661.4 2756.9,662 2755.9,662.7 2754.9,663.6 2753.9,664.5 2753,665.5 2752,666.7 2751.1,667.9 2750.2,669.2 2749.3,670.6 2748.4,672.1 2747.6,673.7 2746.7,675.3 2745.9,677.1 2745.2,678.9 2744.4,680.8 2743.7,682.8 2742.9,684.8 2742.3,686.9 2741.6,689.1 2741,691.4 2740.4,693.7 2739.8,696.1 2739.2,698.6 2738.7,701.1 2738.2,703.7 2737.8,706.3 2737.4,709 2737,711.7 2736.6,714.5 2736.3,717.3 2736,720.1 2735.7,723 2735.5,725.9 2735.3,728.8 2735.2,731.8 2735.1,734.8 2735,737.8 2734.9,740.8 2734.9,743.9 2734.9,746.9 2735,749.9 2735.1,752.9 2735.2,755.9 2735.3,758.9 2735.5,761.9 2735.7,764.9 2736,767.9 2736.3,770.8 2736.6,773.8 2737,776.7 2737.4,779.6 2737.8,782.5 2738.2,785.3 2738.7,788.1 2739.2,790.9 2739.8,793.6 2740.4,796.3 2741,798.9 2741.6,801.5 2742.3,804 2742.9,806.5 2743.7,808.9 2744.4,811.3 2745.2,813.6 2745.9,815.8 2746.7,818 2747.6,820.1 2748.4,822.1 2749.3,824.1 2750.2,826 2751.1,827.8 2752,829.5 2753,831.1 2753.9,832.7 2754.9,834.1 2755.9,835.5 2756.9,836.8 2757.9,838 2758.9,839.1 2759.9,840.1 2761,841.1 2762,841.9 2763.1,842.6 2764.1,843.3 2765.2,843.8 2766.2,844.3 2767.3,844.6" fill="none" stroke="#ff7d00" stroke-width="2.9"/>
<polyline points="2767.3,690.6 2766.6,690.4 2765.9,690.3 2765.2,690.3 2764.4,690.3 2763.7,690.4 2763,690.6 2762.3,690.8 2761.6,691.1 2760.9,691.5 2760.3,691.9 2759.6,692.4 2758.9,693 2758.3,693.6 2757.6,694.3 2757,695.1 2756.4,695.9 2755.7,696.7 2755.1,697.7 2754.5,698.7 2754,699.7 2753.4,700.8 2752.9,702 2752.3,703.2 2751.8,704.5 2751.3,705.8 2750.8,707.2 2750.4,708.6 2749.9,710.1 2749.5,711.6 2749.1,713.2 2748.7,714.8 2748.3,716.5 2748,718.1 2747.7,719.9 2747.4,721.6 2747.1,723.4 2746.8,725.2 2746.6,727.1 2746.3,729 2746.1,730.9 2746,732.8 2745.8,734.8 2745.7,736.7 2745.6,738.7 2745.5,740.7 2745.4,742.8 2745.4,744.8 2745.4,746.8 2745.4,748.9 2745.4,751 2745.5,753.1 2745.6,755.2 2745.7,757.3 2745.8,759.4 2746,761.4 2746.1,763.5 2746.3,765.6 2746.6,767.6 2746.8,769.6 2747.1,771.6 2747.4,773.6 2747.7,775.6 2748,777.5 2748.3,779.5 2748.7,781.3 2749.1,783.2 2749.5,785 2749.9,786.8 2750.4,788.6 2750.8,790.3 2751.3,792 2751.8,793.6 2752.3,795.2 2752.9,796.7 2753.4,798.2 2754,799.7 2754.5,801.1 2755.1,802.5 2755.7,803.7 2756.4,805 2757,806.2 2757.6,807.3 2758.3,808.4 2758.9,809.4 2759.6,810.3 2760.3,811.2 2760.9,812.1 2761.6,812.8 2762.3,813.5 2763,814.2 2763.7,814.7 2764.4,815.2 2765.2,815.7 2765.9,816.1 2766.6,816.4 2767.3,816.6" fill="none" stroke="#ff4700" stroke-width="2.9"/>
<polygon points="2767.3,291.3 2802.7,279.6 2815.7,275.5 2825.6,272.8 2833.9,270.7 2841.4,269.2 2848.1,268 2854.3,267.2 2860.1,266.7 2865.4,266.6 2870.4,266.6 2875,266.9 2879.3,267.5 2883.3,268.3 2887,269.3 2890.4,270.6 2893.5,272 2896.4,273.8 2899.1,275.7 2901.5,277.9 2903.8,280.4 2905.9,283.2 2907.8,286.3 2909.5,289.7 2911.2,293.5 2912.7,297.6 2914.1,302.1 2915.4,307 2916.7,312.4 2917.8,318.2 2918.9,324.5 2920,331.3 2920.9,338.7 2921.8,346.8 2922.7,355.4 2923.5,364.8 2924.2,374.8 2924.9,385.7 2925.6,397.4 2926.1,410.1 2926.7,423.7 2927.2,438.5 2927.6,454.7 2928,472.5 2928.3,492.4 2928.5,515.4 2928.7,543.3 2928.8,581.2 2928.8,698.9 2928.8,823.5 2928.7,861.6 2928.5,889.2 2928.3,911.5 2928,930.7 2927.6,947.6 2927.2,962.9 2926.7,976.9 2926.1,989.8 2925.5,1001.7 2924.8,1012.9 2924,1023.4 2923.2,1033.3 2922.3,1042.6 2921.4,1051.5 2920.3,1059.8 2919.2,1067.7 2918.1,1075.3 2916.8,1082.4 2915.5,1089.3 2914.1,1095.8 2912.6,1102 2911,1107.9 2909.3,1113.5 2907.6,1118.9 2905.6,1124 2903.6,1128.8 2901.3,1133.4 2898.9,1137.7 2896.3,1141.7 2893.4,1145.6 2890.4,1149.2 2887.1,1152.6 2883.5,1155.9 2879.7,1159.1 2875.5,1162.1 2871.1,1165.1 2866.4,1168 2861.3,1171 2855.9,1174 2850.1,1177.1 2843.8,1180.4 2837.1,1184 2829.7,1188 2821.4,1192.4 2811.7,1197.2 2799.1,1203.1 2767.3,1217" fill="#0063ff"/>
<polygon points="2767.3,310.5 2793.6,301.8 2804.9,298.4 2813.6,296.1 2821.1,294.4 2827.7,293.3 2833.7,292.6 2839.2,292.3 2844.4,292.3 2849.2,292.7 2853.7,293.4 2858,294.3 2862,295.6 2865.9,297.2 2869.5,299 2872.9,301.2 2876.1,303.6 2879.2,306.3 2882,309.3 2884.8,312.6 2887.3,316.2 2889.8,320.1 2892,324.4 2894.2,329 2896.3,333.9 2898.2,339.2 2900,344.9 2901.7,350.9 2903.4,357.4 2904.9,364.3 2906.4,371.6 2907.7,379.4 2909,387.7 2910.2,396.5 2911.4,405.9 2912.4,415.8 2913.4,426.3 2914.3,437.5 2915.1,449.4 2915.9,462 2916.5,475.5 2917.1,490 2917.6,505.7 2918.1,522.8 2918.5,541.8 2918.7,563.4 2918.9,588.9 2919.1,622.1 2919.1,702.1 2919.1,768.5 2918.9,799.9 2918.7,824.8 2918.4,846.4 2918,865.8 2917.5,883.5 2916.9,900.1 2916.3,915.6 2915.5,930.3 2914.7,944.2 2913.8,957.4 2912.8,970 2911.8,981.9 2910.6,993.3 2909.4,1004.2 2908.1,1014.5 2906.7,1024.4 2905.2,1033.8 2903.7,1042.7 2902,1051.3 2900.3,1059.4 2898.4,1067.2 2896.5,1074.6 2894.4,1081.7 2892.2,1088.4 2889.9,1094.8 2887.5,1100.9 2884.9,1106.7 2882.3,1112.2 2879.5,1117.5 2876.5,1122.4 2873.4,1127.1 2870.2,1131.6 2866.8,1135.9 2863.2,1140 2859.5,1143.9 2855.5,1147.6 2851.3,1151.3 2846.9,1154.8 2842.2,1158.3 2837.1,1161.8 2831.7,1165.4 2825.9,1169.1 2819.4,1172.9 2812.1,1176.8 2803.5,1181 2792.4,1186 2767.3,1196.5" fill="#0097ff"/>
<polygon points="2767.3,331 2785.2,325.1 2794.6,322.4 2802.2,320.5 2808.9,319.3 2814.9,318.5 2820.5,318.1 2825.6,318.1 2830.5,318.5 2835.1,319.3 2839.5,320.4 2843.6,321.8 2847.6,323.6 2851.4,325.7 2855,328.1 2858.5,330.8 2861.8,333.8 2865,337.2 2868,340.9 2870.9,344.9 2873.7,349.2 2876.3,353.9 2878.8,358.9 2881.2,364.2 2883.5,369.9 2885.7,376 2887.8,382.5 2889.7,389.4 2891.6,396.8 2893.3,404.6 2895,412.9 2896.5,421.8 2898,431.1 2899.4,441 2900.7,451.4 2901.9,462.3 2903,473.9 2904.1,486 2905,498.7 2905.9,512.1 2906.7,526.2 2907.4,541 2908.1,556.6 2908.6,573.3 2909,591.1 2909.4,610.6 2909.6,632.5 2909.8,658.8 2909.8,705.3 2909.7,748.5 2909.6,774 2909.3,795.6 2909,815.1 2908.5,833.1 2908,850 2907.4,866.1 2906.6,881.4 2905.8,896.1 2904.9,910.3 2903.9,923.8 2902.8,936.8 2901.6,949.3 2900.4,961.3 2899.1,972.8 2897.6,983.8 2896.1,994.3 2894.5,1004.4 2892.8,1014 2891,1023.2 2889.1,1032 2887.1,1040.4 2885,1048.4 2882.8,1056.1 2880.5,1063.3 2878,1070.3 2875.4,1076.9 2872.7,1083.3 2869.9,1089.4 2866.9,1095.1 2863.8,1100.7 2860.6,1106 2857.2,1111 2853.7,1115.9 2850,1120.6 2846.2,1125 2842.2,1129.4 2838,1133.6 2833.6,1137.6 2828.9,1141.6 2824,1145.5 2818.9,1149.4 2813.3,1153.1 2807.3,1156.7 2800.7,1160.3 2793.2,1164 2784.1,1168 2767.3,1174.8" fill="#00c7ff"/>
<polygon points="2767.3,353.9 2781,349.4 2789.1,347.2 2795.8,345.6 2801.9,344.6 2807.4,344 2812.6,343.8 2817.5,344 2822.1,344.6 2826.5,345.5 2830.8,346.7 2834.8,348.3 2838.7,350.2 2842.4,352.4 2846,354.9 2849.4,357.8 2852.7,360.9 2855.8,364.4 2858.8,368.2 2861.7,372.4 2864.5,376.8 2867.2,381.6 2869.7,386.7 2872.1,392.2 2874.5,398 2876.7,404.1 2878.8,410.7 2880.7,417.7 2882.6,425 2884.4,432.8 2886.1,441 2887.7,449.7 2889.2,458.8 2890.7,468.4 2892,478.5 2893.2,489 2894.4,500.1 2895.5,511.6 2896.5,523.7 2897.4,536.3 2898.2,549.5 2898.9,563.4 2899.5,577.9 2900.1,593.3 2900.5,609.7 2900.9,627.5 2901.1,647.2 2901.3,670.4 2901.3,708.1 2901.2,742.8 2901.1,765.2 2900.8,784.5 2900.5,802.2 2900,818.7 2899.5,834.4 2898.8,849.4 2898.1,863.7 2897.2,877.6 2896.3,890.9 2895.3,903.8 2894.2,916.2 2893,928.2 2891.7,939.8 2890.3,950.9 2888.8,961.7 2887.3,972 2885.6,982 2883.9,991.5 2882.1,1000.7 2880.1,1009.6 2878.1,1018 2875.9,1026.1 2873.7,1033.9 2871.3,1041.3 2868.8,1048.5 2866.2,1055.3 2863.5,1061.9 2860.6,1068.1 2857.7,1074.2 2854.6,1080 2851.4,1085.5 2848,1090.8 2844.6,1095.9 2840.9,1100.8 2837.2,1105.6 2833.2,1110.1 2829.2,1114.5 2824.9,1118.7 2820.5,1122.7 2815.8,1126.6 2811,1130.4 2805.8,1133.9 2800.3,1137.3 2794.4,1140.5 2787.8,1143.7 2780,1147.1 2767.3,1152" fill="#00f4ff"/>
<polygon points="2767.3,376.7 2778.7,373 2785.8,371.1 2791.9,369.7 2797.4,368.9 2802.5,368.5 2807.2,368.4 2811.7,368.7 2816,369.4 2820.1,370.4 2824,371.8 2827.8,373.5 2831.4,375.5 2834.9,377.8 2838.3,380.5 2841.5,383.4 2844.7,386.7 2847.7,390.3 2850.6,394.3 2853.4,398.5 2856.1,403 2858.7,407.9 2861.2,413.1 2863.6,418.6 2865.9,424.4 2868.1,430.6 2870.2,437.1 2872.1,444 2874,451.3 2875.8,459 2877.5,467.1 2879.1,475.6 2880.7,484.6 2882.1,493.9 2883.4,503.7 2884.7,513.9 2885.9,524.5 2886.9,535.6 2887.9,547.1 2888.8,559.1 2889.7,571.6 2890.4,584.6 2891,598.2 2891.6,612.4 2892,627.4 2892.4,643.5 2892.6,661 2892.8,681.1 2892.8,711 2892.7,738.2 2892.6,757.5 2892.3,774.7 2892,790.7 2891.5,805.8 2891,820.4 2890.3,834.5 2889.6,848.1 2888.7,861.3 2887.8,874.1 2886.8,886.5 2885.7,898.6 2884.5,910.2 2883.2,921.6 2881.8,932.5 2880.3,943 2878.8,953.2 2877.1,963 2875.4,972.5 2873.6,981.6 2871.7,990.4 2869.6,998.8 2867.5,1006.8 2865.3,1014.6 2862.9,1022 2860.5,1029.1 2858,1036 2855.3,1042.6 2852.5,1049 2849.7,1055.1 2846.7,1060.9 2843.6,1066.5 2840.4,1071.9 2837.1,1077.1 2833.7,1082 2830.1,1086.8 2826.4,1091.3 2822.6,1095.6 2818.6,1099.8 2814.5,1103.7 2810.2,1107.5 2805.7,1111 2800.9,1114.4 2795.9,1117.5 2790.5,1120.5 2784.6,1123.4 2777.7,1126.3 2767.3,1130.3" fill="#00ffe6"/>
<polygon points="2767.3,399.6 2776.1,396.8 2782.2,395.2 2787.5,394.1 2792.4,393.5 2797,393.2 2801.3,393.3 2805.5,393.8 2809.4,394.6 2813.2,395.8 2816.9,397.2 2820.4,399 2823.9,401.1 2827.2,403.6 2830.4,406.3 2833.5,409.4 2836.5,412.8 2839.4,416.4 2842.3,420.4 2845,424.7 2847.6,429.3 2850.1,434.3 2852.6,439.5 2855,445 2857.2,450.8 2859.4,457 2861.5,463.4 2863.4,470.2 2865.3,477.4 2867.1,484.9 2868.8,492.8 2870.4,501 2872,509.5 2873.4,518.4 2874.8,527.7 2876,537.4 2877.2,547.4 2878.3,557.8 2879.3,568.5 2880.2,579.7 2881,591.2 2881.7,603.2 2882.3,615.7 2882.9,628.6 2883.3,642.3 2883.7,656.7 2883.9,672.3 2884.1,689.7 2884.1,713.9 2884,736.8 2883.9,753.9 2883.7,769.3 2883.3,783.8 2882.9,797.6 2882.3,810.8 2881.7,823.7 2880.9,836.1 2880.1,848.2 2879.2,860 2878.2,871.5 2877.1,882.6 2875.9,893.5 2874.6,904.1 2873.2,914.4 2871.8,924.3 2870.2,934 2868.6,943.4 2866.8,952.5 2865,961.3 2863.1,969.9 2861.1,978.1 2859,986 2856.8,993.7 2854.5,1001 2852.1,1008.2 2849.6,1015 2847,1021.7 2844.4,1028 2841.6,1034.2 2838.8,1040.1 2835.8,1045.7 2832.8,1051.1 2829.7,1056.3 2826.4,1061.2 2823.1,1065.9 2819.6,1070.4 2816.1,1074.7 2812.4,1078.7 2808.6,1082.5 2804.6,1086.1 2800.5,1089.5 2796.2,1092.6 2791.7,1095.5 2786.9,1098.2 2781.6,1100.8 2775.7,1103.4 2767.3,1106.5" fill="#00ffc2"/>
<polygon points="2767.3,423.7 2774.3,421.5 2779.5,420.2 2784.1,419.3 2788.4,418.9 2792.5,418.8 2796.5,419 2800.2,419.6 2803.9,420.5 2807.4,421.7 2810.8,423.2 2814.1,425 2817.3,427.2 2820.4,429.6 2823.4,432.4 2826.4,435.4 2829.2,438.8 2832,442.4 2834.7,446.3 2837.3,450.6 2839.8,455.1 2842.2,459.9 2844.6,465 2846.8,470.4 2849,476.1 2851.1,482 2853.1,488.3 2855,494.9 2856.8,501.9 2858.6,509.1 2860.2,516.7 2861.8,524.6 2863.3,532.8 2864.7,541.3 2866,550.2 2867.2,559.3 2868.4,568.8 2869.4,578.6 2870.4,588.7 2871.3,599.1 2872.1,609.9 2872.8,621 2873.4,632.4 2873.9,644.2 2874.3,656.5 2874.7,669.4 2874.9,683 2875.1,697.8 2875.1,716.9 2875.1,734.8 2874.9,749.3 2874.7,762.8 2874.3,775.6 2873.9,788 2873.3,800.1 2872.7,811.8 2872,823.3 2871.2,834.6 2870.3,845.6 2869.3,856.4 2868.2,867 2867.1,877.3 2865.8,887.3 2864.5,897.1 2863,906.7 2861.5,916 2859.9,925 2858.3,933.8 2856.5,942.3 2854.6,950.5 2852.7,958.5 2850.7,966.2 2848.5,973.7 2846.3,981 2844,988 2841.6,994.7 2839.2,1001.3 2836.6,1007.6 2834,1013.6 2831.3,1019.5 2828.5,1025 2825.6,1030.4 2822.7,1035.5 2819.6,1040.3 2816.5,1044.9 2813.3,1049.3 2810,1053.4 2806.6,1057.2 2803.1,1060.8 2799.4,1064.2 2795.7,1067.3 2791.8,1070.2 2787.8,1072.8 2783.5,1075.3 2778.9,1077.5 2773.9,1079.6 2767.3,1082" fill="#00ff98"/>
<polygon points="2767.3,447.7 2773,445.9 2777.5,444.8 2781.6,444.1 2785.4,443.8 2789.1,443.8 2792.7,444.1 2796.1,444.7 2799.4,445.6 2802.6,446.9 2805.7,448.4 2808.8,450.2 2811.8,452.3 2814.7,454.7 2817.5,457.4 2820.2,460.3 2822.9,463.6 2825.4,467.1 2828,470.9 2830.4,475 2832.8,479.3 2835.1,484 2837.3,488.8 2839.4,494 2841.5,499.4 2843.4,505.1 2845.3,511.1 2847.2,517.4 2848.9,524 2850.5,530.9 2852.1,538.1 2853.6,545.6 2855,553.3 2856.3,561.4 2857.6,569.7 2858.8,578.3 2859.8,587.2 2860.9,596.3 2861.8,605.8 2862.6,615.4 2863.4,625.4 2864.1,635.5 2864.7,646 2865.2,656.8 2865.6,667.8 2865.9,679.3 2866.1,691.3 2866.3,704.2 2866.3,719.8 2866.3,734.5 2866.1,747 2865.9,758.8 2865.5,770.3 2865.1,781.5 2864.6,792.4 2864,803.2 2863.3,813.8 2862.6,824.2 2861.7,834.4 2860.7,844.5 2859.7,854.3 2858.6,864 2857.4,873.5 2856.1,882.7 2854.8,891.7 2853.3,900.5 2851.8,909.1 2850.2,917.4 2848.6,925.5 2846.8,933.3 2844.9,940.9 2843,948.3 2841,955.4 2838.9,962.3 2836.8,969 2834.5,975.5 2832.2,981.7 2829.8,987.8 2827.3,993.6 2824.8,999.1 2822.2,1004.5 2819.5,1009.6 2816.7,1014.5 2813.9,1019.1 2811,1023.5 2808,1027.6 2805,1031.5 2801.9,1035.2 2798.6,1038.6 2795.3,1041.8 2791.9,1044.8 2788.4,1047.5 2784.8,1049.9 2781,1052.2 2777,1054.2 2772.7,1056.1 2767.3,1058" fill="#00ff64"/>
<polygon points="2767.3,472 2772,470.6 2775.8,469.7 2779.4,469.1 2782.8,468.9 2786.1,469 2789.3,469.3 2792.4,470 2795.5,470.9 2798.4,472.1 2801.3,473.6 2804.1,475.4 2806.9,477.4 2809.5,479.8 2812.2,482.3 2814.7,485.2 2817.2,488.3 2819.6,491.7 2822,495.3 2824.3,499.2 2826.5,503.4 2828.7,507.8 2830.8,512.5 2832.8,517.4 2834.8,522.5 2836.7,527.9 2838.5,533.6 2840.2,539.5 2841.8,545.8 2843.4,552.2 2844.9,559 2846.3,566 2847.7,573.3 2848.9,580.8 2850.1,588.6 2851.3,596.6 2852.3,604.9 2853.3,613.3 2854.2,622 2855,630.9 2855.7,640 2856.4,649.3 2856.9,658.7 2857.4,668.4 2857.8,678.3 2858.1,688.4 2858.3,698.9 2858.5,709.9 2858.5,722.4 2858.5,734.9 2858.3,746 2858.1,756.5 2857.8,766.7 2857.4,776.7 2856.9,786.6 2856.3,796.2 2855.7,805.8 2854.9,815.1 2854.1,824.4 2853.2,833.5 2852.2,842.4 2851.2,851.2 2850,859.8 2848.8,868.3 2847.5,876.6 2846.1,884.7 2844.7,892.6 2843.1,900.3 2841.5,907.8 2839.8,915.1 2838.1,922.3 2836.2,929.2 2834.3,935.9 2832.3,942.5 2830.3,948.8 2828.2,954.9 2826,960.9 2823.7,966.6 2821.4,972.1 2819,977.4 2816.6,982.5 2814,987.3 2811.5,991.9 2808.8,996.3 2806.1,1000.5 2803.4,1004.4 2800.6,1008.1 2797.7,1011.6 2794.7,1014.8 2791.7,1017.8 2788.6,1020.6 2785.5,1023.1 2782.2,1025.4 2778.9,1027.4 2775.4,1029.3 2771.7,1030.9 2767.3,1032.5" fill="#00f000"/>
<polygon points="2767.3,495.5 2771,494.4 2774.2,493.7 2777.2,493.3 2780.2,493.2 2783.1,493.4 2785.9,493.8 2788.6,494.5 2791.3,495.4 2793.9,496.7 2796.5,498.2 2799.1,499.9 2801.5,501.9 2804,504.2 2806.4,506.7 2808.7,509.4 2811,512.4 2813.2,515.7 2815.4,519.2 2817.5,522.9 2819.5,526.9 2821.5,531.1 2823.5,535.5 2825.3,540.2 2827.1,545 2828.9,550.2 2830.6,555.5 2832.2,561.1 2833.7,566.9 2835.2,572.9 2836.6,579.1 2837.9,585.6 2839.2,592.3 2840.4,599.2 2841.5,606.3 2842.6,613.5 2843.5,621 2844.4,628.6 2845.3,636.5 2846,644.5 2846.7,652.6 2847.3,660.9 2847.8,669.4 2848.3,678.1 2848.6,686.9 2848.9,695.9 2849.1,705.2 2849.3,714.8 2849.3,725.5 2849.3,736.2 2849.1,745.9 2848.9,755.3 2848.6,764.5 2848.3,773.5 2847.8,782.5 2847.3,791.3 2846.7,800 2846,808.6 2845.3,817 2844.4,825.4 2843.5,833.6 2842.6,841.7 2841.5,849.7 2840.4,857.5 2839.2,865.2 2837.9,872.7 2836.6,880 2835.2,887.2 2833.7,894.2 2832.2,901 2830.6,907.6 2828.9,914.1 2827.1,920.4 2825.3,926.4 2823.5,932.3 2821.5,938 2819.5,943.6 2817.5,948.9 2815.4,954 2813.2,959 2811,963.7 2808.7,968.2 2806.4,972.5 2804,976.6 2801.5,980.5 2799.1,984.2 2796.5,987.6 2793.9,990.8 2791.3,993.8 2788.6,996.6 2785.9,999.1 2783.1,1001.4 2780.2,1003.5 2777.2,1005.4 2774.2,1007 2771,1008.4 2767.3,1009.8" fill="#64ff00"/>
<polygon points="2767.3,520 2770.4,519.1 2773.2,518.5 2775.9,518.1 2778.6,518.1 2781.2,518.3 2783.7,518.7 2786.2,519.3 2788.6,520.2 2791,521.4 2793.4,522.8 2795.7,524.4 2798,526.3 2800.2,528.4 2802.4,530.7 2804.6,533.2 2806.7,536 2808.7,539 2810.7,542.2 2812.7,545.7 2814.6,549.3 2816.4,553.2 2818.2,557.2 2819.9,561.5 2821.6,566 2823.3,570.7 2824.8,575.6 2826.3,580.7 2827.7,586 2829.1,591.5 2830.4,597.2 2831.7,603.1 2832.9,609.2 2834,615.5 2835,621.9 2836,628.6 2836.9,635.3 2837.8,642.3 2838.5,649.3 2839.2,656.5 2839.9,663.9 2840.4,671.3 2840.9,678.9 2841.3,686.6 2841.7,694.5 2842,702.4 2842.1,710.6 2842.3,718.9 2842.3,727.9 2842.3,736.8 2842.1,745.2 2842,753.4 2841.7,761.5 2841.3,769.5 2840.9,777.5 2840.4,785.3 2839.9,793.1 2839.2,800.9 2838.5,808.5 2837.8,816 2836.9,823.5 2836,830.8 2835,838.1 2834,845.2 2832.9,852.2 2831.7,859 2830.4,865.7 2829.1,872.3 2827.7,878.7 2826.3,884.9 2824.8,891 2823.3,896.9 2821.6,902.6 2819.9,908.2 2818.2,913.6 2816.4,918.9 2814.6,924 2812.7,928.9 2810.7,933.6 2808.7,938.1 2806.7,942.5 2804.6,946.7 2802.4,950.6 2800.2,954.4 2798,958 2795.7,961.3 2793.4,964.5 2791,967.5 2788.6,970.2 2786.2,972.7 2783.7,975.1 2781.2,977.2 2778.6,979.1 2775.9,980.8 2773.2,982.3 2770.4,983.5 2767.3,984.7" fill="#98ff00"/>
<polygon points="2767.3,543.5 2770.1,542.7 2772.7,542.1 2775.1,541.8 2777.5,541.7 2779.9,541.9 2782.2,542.3 2784.4,542.9 2786.6,543.7 2788.8,544.7 2791,545.9 2793.1,547.4 2795.1,549.1 2797.2,550.9 2799.1,553 2801.1,555.3 2803,557.8 2804.8,560.5 2806.7,563.4 2808.4,566.5 2810.2,569.7 2811.8,573.2 2813.5,576.9 2815,580.7 2816.6,584.7 2818,588.9 2819.4,593.3 2820.8,597.9 2822.1,602.7 2823.4,607.7 2824.5,612.8 2825.7,618.1 2826.7,623.6 2827.7,629.2 2828.7,635 2829.6,640.9 2830.4,647 2831.2,653.2 2831.9,659.6 2832.5,666.1 2833.1,672.7 2833.6,679.4 2834.1,686.2 2834.4,693.1 2834.7,700.2 2835,707.3 2835.2,714.6 2835.3,722.2 2835.3,730.2 2835.3,738.3 2835.2,745.8 2835,753.3 2834.7,760.6 2834.4,767.8 2834.1,774.9 2833.6,782 2833.1,789.1 2832.5,796.1 2831.9,802.9 2831.2,809.8 2830.4,816.5 2829.6,823.1 2828.7,829.6 2827.7,836.1 2826.7,842.4 2825.7,848.5 2824.5,854.6 2823.4,860.5 2822.1,866.3 2820.8,871.9 2819.4,877.4 2818,882.7 2816.6,887.9 2815,892.9 2813.5,897.8 2811.8,902.6 2810.2,907.2 2808.4,911.6 2806.7,915.8 2804.8,919.9 2803,923.9 2801.1,927.6 2799.1,931.2 2797.2,934.6 2795.1,937.8 2793.1,940.9 2791,943.7 2788.8,946.4 2786.6,948.9 2784.4,951.2 2782.2,953.3 2779.9,955.2 2777.5,956.9 2775.1,958.4 2772.7,959.8 2770.1,960.9 2767.3,962" fill="#c2ff00"/>
<polygon points="2767.3,565.6 2769.6,564.9 2771.8,564.5 2774,564.2 2776.1,564.2 2778.1,564.4 2780.2,564.7 2782.2,565.3 2784.1,566 2786.1,567 2788,568.2 2789.9,569.5 2791.7,571 2793.6,572.7 2795.3,574.7 2797.1,576.8 2798.8,579 2800.5,581.5 2802.2,584.1 2803.8,586.9 2805.3,589.9 2806.8,593.1 2808.3,596.4 2809.8,599.9 2811.2,603.6 2812.5,607.4 2813.8,611.4 2815,615.6 2816.2,619.9 2817.4,624.4 2818.4,629 2819.5,633.8 2820.4,638.7 2821.4,643.8 2822.2,649 2823.1,654.4 2823.8,659.8 2824.5,665.4 2825.2,671.1 2825.8,676.8 2826.3,682.7 2826.8,688.7 2827.2,694.7 2827.5,700.8 2827.8,706.9 2828,713.2 2828.2,719.5 2828.3,725.9 2828.3,732.6 2828.3,739.3 2828.2,745.8 2828,752.2 2827.8,758.6 2827.5,765 2827.2,771.3 2826.8,777.7 2826.3,783.9 2825.8,790.2 2825.2,796.4 2824.5,802.5 2823.8,808.6 2823.1,814.5 2822.2,820.4 2821.4,826.3 2820.4,832 2819.5,837.6 2818.4,843.1 2817.4,848.5 2816.2,853.7 2815,858.8 2813.8,863.8 2812.5,868.7 2811.2,873.5 2809.8,878.1 2808.3,882.5 2806.8,886.9 2805.3,891.1 2803.8,895.1 2802.2,899 2800.5,902.8 2798.8,906.4 2797.1,909.8 2795.3,913.1 2793.6,916.2 2791.7,919.2 2789.9,921.9 2788,924.6 2786.1,927 2784.1,929.3 2782.2,931.3 2780.2,933.2 2778.1,935 2776.1,936.5 2774,937.9 2771.8,939.1 2769.6,940.1 2767.3,941" fill="#e6ff00"/>
<polygon points="2767.3,588.2 2769.4,587.6 2771.3,587.2 2773.2,587 2775.1,586.9 2776.9,587.1 2778.8,587.4 2780.5,587.9 2782.3,588.5 2784,589.4 2785.7,590.4 2787.4,591.5 2789.1,592.9 2790.7,594.4 2792.3,596.1 2793.8,597.9 2795.4,599.9 2796.9,602.1 2798.3,604.4 2799.8,606.8 2801.1,609.5 2802.5,612.2 2803.8,615.2 2805.1,618.2 2806.3,621.5 2807.5,624.8 2808.7,628.3 2809.8,632 2810.8,635.8 2811.9,639.7 2812.8,643.8 2813.7,648 2814.6,652.3 2815.4,656.8 2816.2,661.4 2816.9,666.1 2817.6,670.9 2818.2,675.7 2818.8,680.7 2819.3,685.8 2819.8,691 2820.2,696.2 2820.6,701.5 2820.9,706.9 2821.1,712.3 2821.3,717.8 2821.5,723.3 2821.6,729 2821.6,734.8 2821.6,740.7 2821.5,746.4 2821.3,752.1 2821.1,757.7 2820.9,763.3 2820.6,768.9 2820.2,774.4 2819.8,780 2819.3,785.4 2818.8,790.9 2818.2,796.3 2817.6,801.6 2816.9,806.9 2816.2,812.1 2815.4,817.2 2814.6,822.2 2813.7,827.1 2812.8,832 2811.9,836.7 2810.8,841.3 2809.8,845.8 2808.7,850.2 2807.5,854.5 2806.3,858.7 2805.1,862.7 2803.8,866.7 2802.5,870.5 2801.1,874.2 2799.8,877.7 2798.3,881.2 2796.9,884.5 2795.4,887.7 2793.8,890.7 2792.3,893.6 2790.7,896.3 2789.1,898.9 2787.4,901.4 2785.7,903.7 2784,905.8 2782.3,907.8 2780.5,909.7 2778.8,911.3 2776.9,912.9 2775.1,914.2 2773.2,915.5 2771.3,916.5 2769.4,917.4 2767.3,918.2" fill="#fff400"/>
<polygon points="2767.3,611 2769,610.5 2770.6,610.2 2772.3,610 2773.9,610 2775.4,610.1 2777,610.4 2778.6,610.9 2780.1,611.4 2781.6,612.2 2783.1,613.1 2784.6,614.1 2786,615.3 2787.5,616.6 2788.9,618.1 2790.2,619.7 2791.6,621.4 2792.9,623.3 2794.2,625.4 2795.5,627.5 2796.8,629.8 2798,632.3 2799.1,634.8 2800.3,637.5 2801.4,640.3 2802.5,643.3 2803.5,646.3 2804.5,649.5 2805.4,652.8 2806.3,656.2 2807.2,659.8 2808,663.4 2808.8,667.2 2809.5,671 2810.2,675 2810.9,679.1 2811.5,683.2 2812.1,687.4 2812.6,691.7 2813.1,696.1 2813.5,700.5 2813.9,704.9 2814.2,709.4 2814.5,714 2814.7,718.5 2814.9,723.1 2815,727.7 2815.1,732.3 2815.1,737 2815.1,741.6 2815,746.2 2814.9,750.9 2814.7,755.6 2814.5,760.2 2814.2,764.9 2813.9,769.6 2813.5,774.3 2813.1,778.9 2812.6,783.5 2812.1,788.1 2811.5,792.7 2810.9,797.2 2810.2,801.6 2809.5,806 2808.8,810.3 2808,814.6 2807.2,818.8 2806.3,822.9 2805.4,826.9 2804.5,830.8 2803.5,834.6 2802.5,838.3 2801.4,841.9 2800.3,845.4 2799.1,848.9 2798,852.2 2796.8,855.4 2795.5,858.5 2794.2,861.5 2792.9,864.4 2791.6,867.1 2790.2,869.8 2788.9,872.3 2787.5,874.7 2786,877 2784.6,879.1 2783.1,881.1 2781.6,883 2780.1,884.7 2778.6,886.3 2777,887.8 2775.4,889.1 2773.9,890.3 2772.3,891.4 2770.6,892.3 2769,893.1 2767.3,893.7" fill="#ffc700"/>
<polygon points="2767.3,635.5 2768.7,635.1 2770.1,634.8 2771.5,634.7 2772.8,634.6 2774.2,634.7 2775.5,635 2776.8,635.3 2778.1,635.8 2779.4,636.4 2780.6,637.1 2781.9,638 2783.1,638.9 2784.3,640 2785.5,641.2 2786.6,642.6 2787.8,644 2788.9,645.6 2790,647.3 2791.1,649 2792.1,650.9 2793.2,652.9 2794.1,655 2795.1,657.3 2796,659.6 2796.9,662 2797.8,664.5 2798.6,667.2 2799.4,669.9 2800.2,672.7 2800.9,675.6 2801.6,678.7 2802.3,681.8 2802.9,685 2803.5,688.2 2804.1,691.6 2804.6,695 2805,698.5 2805.5,702 2805.9,705.6 2806.2,709.3 2806.6,713 2806.8,716.7 2807.1,720.4 2807.3,724.2 2807.4,728 2807.5,731.8 2807.6,735.7 2807.6,739.5 2807.6,743.4 2807.5,747.2 2807.4,751.1 2807.3,755.1 2807.1,759 2806.8,762.9 2806.6,766.8 2806.2,770.7 2805.9,774.6 2805.5,778.5 2805,782.4 2804.6,786.2 2804.1,789.9 2803.5,793.7 2802.9,797.4 2802.3,801 2801.6,804.5 2800.9,808 2800.2,811.5 2799.4,814.8 2798.6,818.1 2797.8,821.3 2796.9,824.4 2796,827.4 2795.1,830.4 2794.1,833.3 2793.2,836.1 2792.1,838.7 2791.1,841.4 2790,843.9 2788.9,846.3 2787.8,848.6 2786.6,850.8 2785.5,852.9 2784.3,854.9 2783.1,856.8 2781.9,858.6 2780.6,860.3 2779.4,861.9 2778.1,863.4 2776.8,864.7 2775.5,865.9 2774.2,867.1 2772.8,868.1 2771.5,868.9 2770.1,869.7 2768.7,870.4 2767.3,870.9" fill="#ff9700"/>
<polygon points="2767.3,660 2768.3,659.7 2769.4,659.5 2770.4,659.4 2771.4,659.4 2772.4,659.5 2773.4,659.7 2774.5,660 2775.5,660.4 2776.4,660.9 2777.4,661.5 2778.4,662.2 2779.4,663 2780.3,663.9 2781.2,664.9 2782.1,666 2783.1,667.2 2783.9,668.5 2784.8,669.8 2785.6,671.3 2786.5,672.8 2787.3,674.4 2788.1,676.1 2788.8,677.9 2789.6,679.8 2790.3,681.7 2791,683.7 2791.6,685.8 2792.3,688 2792.9,690.3 2793.5,692.6 2794,694.9 2794.6,697.4 2795.1,699.9 2795.6,702.4 2796,705 2796.4,707.7 2796.8,710.4 2797.1,713.1 2797.4,715.9 2797.7,718.7 2798,721.6 2798.2,724.5 2798.4,727.4 2798.5,730.4 2798.6,733.4 2798.7,736.4 2798.8,739.4 2798.8,742.4 2798.8,745.5 2798.7,748.5 2798.6,751.5 2798.5,754.5 2798.4,757.5 2798.2,760.5 2798,763.5 2797.7,766.5 2797.4,769.5 2797.1,772.5 2796.8,775.4 2796.4,778.3 2796,781.2 2795.6,784 2795.1,786.9 2794.6,789.7 2794,792.4 2793.5,795.1 2792.9,797.8 2792.3,800.4 2791.6,803 2791,805.5 2790.3,807.9 2789.6,810.3 2788.8,812.6 2788.1,814.9 2787.3,817.1 2786.5,819.2 2785.6,821.3 2784.8,823.3 2783.9,825.2 2783.1,827.1 2782.1,828.8 2781.2,830.5 2780.3,832.1 2779.4,833.6 2778.4,835 2777.4,836.3 2776.4,837.6 2775.5,838.7 2774.5,839.8 2773.4,840.8 2772.4,841.7 2771.4,842.4 2770.4,843.1 2769.4,843.7 2768.3,844.2 2767.3,844.6" fill="#ff6300"/>
<polygon points="2767.3,690.6 2768,690.4 2768.7,690.3 2769.4,690.2 2770.2,690.2 2770.9,690.2 2771.6,690.4 2772.3,690.6 2773,690.8 2773.7,691.2 2774.3,691.6 2775,692 2775.7,692.5 2776.3,693.1 2777,693.8 2777.6,694.5 2778.2,695.3 2778.9,696.1 2779.5,697 2780.1,698 2780.6,699 2781.2,700.1 2781.7,701.2 2782.3,702.4 2782.8,703.7 2783.3,705 2783.8,706.3 2784.2,707.7 2784.7,709.2 2785.1,710.7 2785.5,712.2 2785.9,713.8 2786.3,715.4 2786.6,717.1 2786.9,718.8 2787.2,720.6 2787.5,722.3 2787.8,724.2 2788,726 2788.3,727.9 2788.5,729.8 2788.6,731.7 2788.8,733.6 2788.9,735.6 2789,737.6 2789.1,739.6 2789.2,741.6 2789.2,743.6 2789.2,745.7 2789.2,747.7 2789.2,749.8 2789.1,751.9 2789,754 2788.9,756.1 2788.8,758.2 2788.6,760.3 2788.5,762.4 2788.3,764.4 2788,766.5 2787.8,768.5 2787.5,770.6 2787.2,772.6 2786.9,774.5 2786.6,776.5 2786.3,778.4 2785.9,780.4 2785.5,782.2 2785.1,784.1 2784.7,785.9 2784.2,787.7 2783.8,789.4 2783.3,791.1 2782.8,792.8 2782.3,794.4 2781.7,796 2781.2,797.5 2780.6,799 2780.1,800.4 2779.5,801.8 2778.9,803.1 2778.2,804.4 2777.6,805.6 2777,806.8 2776.3,807.9 2775.7,809 2775,809.9 2774.3,810.9 2773.7,811.7 2773,812.5 2772.3,813.3 2771.6,813.9 2770.9,814.6 2770.2,815.1 2769.4,815.6 2768.7,816 2768,816.3 2767.3,816.6" fill="#ff2800"/>
<polyline points="2767.3,273.2 2581.5,220 2581.5,1177.8 2767.3,1230.3" fill="none" stroke="#000" stroke-width="2.3" stroke-linejoin="miter"/>
<polyline points="2767.3,273.2 2940,216.5 2940,1174.5 2767.3,1230.3" fill="none" stroke="#000" stroke-width="2.3" stroke-linejoin="miter"/>
<line x1="2767.3" y1="273.2" x2="2767.3" y2="1230.3" stroke="#000" stroke-width="2.6"/>
</g>
<g id="legend-a">
<rect x="1341.3" y="231.2" width="71.5" height="52.9" fill="#ff2800"/>
<rect x="1341.3" y="283.6" width="71.5" height="52.9" fill="#ff6300"/>
<rect x="1341.3" y="335.9" width="71.5" height="52.9" fill="#ff9700"/>
<rect x="1341.3" y="388.3" width="71.5" height="52.9" fill="#ffc700"/>
<rect x="1341.3" y="440.6" width="71.5" height="52.9" fill="#fff400"/>
<rect x="1341.3" y="493" width="71.5" height="52.9" fill="#e6ff00"/>
<rect x="1341.3" y="545.3" width="71.5" height="52.9" fill="#c2ff00"/>
<rect x="1341.3" y="597.7" width="71.5" height="52.9" fill="#98ff00"/>
<rect x="1341.3" y="650.1" width="71.5" height="52.9" fill="#64ff00"/>
<rect x="1341.3" y="702.4" width="71.5" height="52.9" fill="#00f000"/>
<rect x="1341.3" y="754.8" width="71.5" height="52.9" fill="#00ff64"/>
<rect x="1341.3" y="807.1" width="71.5" height="52.9" fill="#00ff98"/>
<rect x="1341.3" y="859.5" width="71.5" height="52.9" fill="#00ffc2"/>
<rect x="1341.3" y="911.9" width="71.5" height="52.9" fill="#00ffe6"/>
<rect x="1341.3" y="964.2" width="71.5" height="52.9" fill="#00f4ff"/>
<rect x="1341.3" y="1016.6" width="71.5" height="52.9" fill="#00c7ff"/>
<rect x="1341.3" y="1068.9" width="71.5" height="52.9" fill="#0097ff"/>
<rect x="1341.3" y="1121.3" width="71.5" height="52.9" fill="#0063ff"/>
<rect x="1341.3" y="1173.6" width="71.5" height="52.9" fill="#0028ff"/>
<rect x="1341.3" y="231.2" width="71.5" height="994.8" fill="none" stroke="#000" stroke-width="2.4"/>
<path d="M1412.8 231.2h13M1412.8 283.6h11M1412.8 335.9h13M1412.8 388.3h11M1412.8 440.6h13M1412.8 493h11M1412.8 545.3h13M1412.8 597.7h11M1412.8 650.1h13M1412.8 702.4h11M1412.8 754.8h13M1412.8 807.1h11M1412.8 859.5h13M1412.8 911.9h11M1412.8 964.2h13M1412.8 1016.6h11M1412.8 1068.9h13M1412.8 1121.3h11M1412.8 1173.6h13M1412.8 1226h11" stroke="#000" stroke-width="2.4" fill="none"/>
<g font-size="50">
<text x="1450" y="248.3">232.50</text>
<text x="1450" y="300.7">227.39</text>
<text x="1450" y="353.1">223.98</text>
<text x="1450" y="405.6">220.57</text>
<text x="1450" y="458">217.16</text>
<text x="1450" y="510.4">213.75</text>
<text x="1450" y="562.8">210.34</text>
<text x="1450" y="615.2">206.93</text>
<text x="1450" y="667.7">203.52</text>
<text x="1450" y="720.1">200.11</text>
<text x="1450" y="772.5">196.69</text>
<text x="1450" y="824.9">193.28</text>
<text x="1450" y="877.4">189.87</text>
<text x="1450" y="929.8">186.46</text>
<text x="1450" y="982.2">183.05</text>
<text x="1450" y="1034.6">179.64</text>
<text x="1450" y="1087">176.23</text>
<text x="1450" y="1139.5">172.82</text>
<text x="1450" y="1191.9">169.41</text>
<text x="1450" y="1244.3">166.00</text>
</g>
<text y="178.9" font-size="65"><tspan x="1331" textLength="386.2" lengthAdjust="spacingAndGlyphs">Temperature/(</tspan><tspan class="cj" x="1714" font-size="60" textLength="63.6" lengthAdjust="spacingAndGlyphs">℃</tspan><tspan x="1778.5">)</tspan></text>
</g>
<g id="legend-b">
<rect x="3130.4" y="231.2" width="71.4" height="52.6" fill="#ff2800"/>
<rect x="3130.4" y="283.3" width="71.4" height="52.6" fill="#ff6300"/>
<rect x="3130.4" y="335.3" width="71.4" height="52.6" fill="#ff9700"/>
<rect x="3130.4" y="387.4" width="71.4" height="52.6" fill="#ffc700"/>
<rect x="3130.4" y="439.4" width="71.4" height="52.6" fill="#fff400"/>
<rect x="3130.4" y="491.5" width="71.4" height="52.6" fill="#e6ff00"/>
<rect x="3130.4" y="543.5" width="71.4" height="52.6" fill="#c2ff00"/>
<rect x="3130.4" y="595.6" width="71.4" height="52.6" fill="#98ff00"/>
<rect x="3130.4" y="647.6" width="71.4" height="52.6" fill="#64ff00"/>
<rect x="3130.4" y="699.7" width="71.4" height="52.6" fill="#00f000"/>
<rect x="3130.4" y="751.7" width="71.4" height="52.6" fill="#00ff64"/>
<rect x="3130.4" y="803.8" width="71.4" height="52.6" fill="#00ff98"/>
<rect x="3130.4" y="855.8" width="71.4" height="52.6" fill="#00ffc2"/>
<rect x="3130.4" y="907.9" width="71.4" height="52.6" fill="#00ffe6"/>
<rect x="3130.4" y="959.9" width="71.4" height="52.6" fill="#00f4ff"/>
<rect x="3130.4" y="1012" width="71.4" height="52.6" fill="#00c7ff"/>
<rect x="3130.4" y="1064" width="71.4" height="52.6" fill="#0097ff"/>
<rect x="3130.4" y="1116.1" width="71.4" height="52.6" fill="#0063ff"/>
<rect x="3130.4" y="1168.1" width="71.4" height="52.6" fill="#0028ff"/>
<rect x="3130.4" y="231.2" width="71.4" height="989" fill="none" stroke="#000" stroke-width="2.4"/>
<path d="M3201.8 231.2h13M3201.8 283.3h11M3201.8 335.3h13M3201.8 387.4h11M3201.8 439.4h13M3201.8 491.5h11M3201.8 543.5h13M3201.8 595.6h11M3201.8 647.6h13M3201.8 699.7h11M3201.8 751.7h13M3201.8 803.8h11M3201.8 855.8h13M3201.8 907.9h11M3201.8 959.9h13M3201.8 1012h11M3201.8 1064h13M3201.8 1116.1h11M3201.8 1168.1h13M3201.8 1220.2h11" stroke="#000" stroke-width="2.4" fill="none"/>
<g font-size="50">
<text x="3241" y="248.3">231.64</text>
<text x="3241" y="300.7">228.37</text>
<text x="3241" y="353.1">225.10</text>
<text x="3241" y="405.6">221.83</text>
<text x="3241" y="458">218.56</text>
<text x="3241" y="510.4">215.28</text>
<text x="3241" y="562.8">212.01</text>
<text x="3241" y="615.2">208.74</text>
<text x="3241" y="667.7">205.46</text>
<text x="3241" y="720.1">202.19</text>
<text x="3241" y="772.5">198.92</text>
<text x="3241" y="824.9">195.64</text>
<text x="3241" y="877.4">192.37</text>
<text x="3241" y="929.8">189.10</text>
<text x="3241" y="982.2">185.83</text>
<text x="3241" y="1034.6">182.55</text>
<text x="3241" y="1087">179.28</text>
<text x="3241" y="1139.5">176.01</text>
<text x="3241" y="1191.9">172.74</text>
<text x="3241" y="1244.3">169.46</text>
</g>
<text y="178.9" font-size="65"><tspan x="3117.7" textLength="386.2" lengthAdjust="spacingAndGlyphs">Temperature/(</tspan><tspan class="cj" x="3500.7" font-size="60" textLength="63.6" lengthAdjust="spacingAndGlyphs">℃</tspan><tspan x="3565.2">)</tspan></text>
</g>
<g id="caption-a">
<text y="186.4" font-size="65"><tspan x="259">(a) </tspan><tspan x="353.4" font-style="italic">β</tspan><tspan x="387.1" textLength="88.8" lengthAdjust="spacingAndGlyphs">=1 </tspan><tspan class="cj" x="476" font-size="60" textLength="63.6" lengthAdjust="spacingAndGlyphs">℃</tspan><tspan x="539" textLength="121.6" lengthAdjust="spacingAndGlyphs">/min</tspan></text>
</g>
<g id="caption-b">
<text y="186.4" font-size="65"><tspan x="2046.8">(b) </tspan><tspan x="2143.9" font-style="italic">β</tspan><tspan x="2177.6" textLength="88.8" lengthAdjust="spacingAndGlyphs">=2 </tspan><tspan class="cj" x="2266.5" font-size="60" textLength="63.6" lengthAdjust="spacingAndGlyphs">℃</tspan><tspan x="2329.5" textLength="121.6" lengthAdjust="spacingAndGlyphs">/min</tspan></text>
</g>
</svg>
</body>
</html>
